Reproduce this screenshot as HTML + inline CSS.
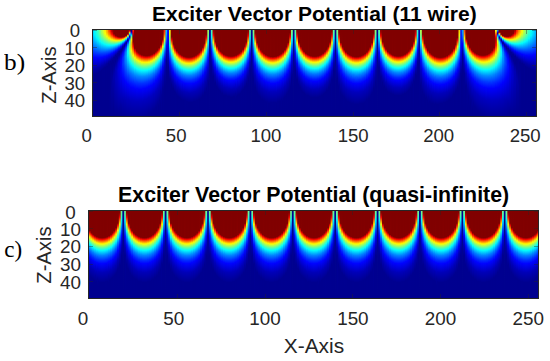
<!DOCTYPE html>
<html><head><meta charset="utf-8"><style>
html,body{margin:0;padding:0;background:#fff;}
body{width:550px;height:361px;position:relative;overflow:hidden;}
.hm{position:absolute;line-height:0;font-size:0;}
.hm i{display:block;float:left;width:1px;height:100%;}
.bx{position:absolute;border:1px solid #262626;}
b{position:absolute;background:rgba(38,38,38,0.4);}
.t{position:absolute;white-space:nowrap;line-height:1;font-family:'Liberation Sans',sans-serif;color:#262626;}
</style></head><body>
<div class="hm" style="left:92px;top:29px;width:445px;height:88px"><i style="background:linear-gradient(#00dfff 0.5px,#00cdff 6.5px,#008cff 14.5px,#0000fd 28.5px,#0000ad 39.5px,#00008f 46.5px,#00008f 87.5px)"></i><i style="background:linear-gradient(#00e0ff 0.5px,#00ceff 6.5px,#008cff 14.5px,#0000fd 28.5px,#0000ad 39.5px,#00008f 46.5px,#00008f 87.5px)"></i><i style="background:linear-gradient(#03fefc 0.5px,#00f3ff 5.5px,#00b6ff 12.5px,#0002fe 28.5px,#0000ab 39.5px,#00008f 45.5px,#00008f 87.5px)"></i><i style="background:linear-gradient(#10ffef 0.5px,#05f3fa 6.5px,#00d5ff 10.5px,#0003ff 28.5px,#0000aa 39.5px,#00008f 45.5px,#00008f 87.5px)"></i><i style="background:linear-gradient(#28ffd7 0.5px,#17ffe8 5.5px,#01fcfe 8.5px,#0080ff 18.5px,#0004ff 28.5px,#0000a8 39.5px,#000090 44.5px,#00008f 87.5px)"></i><i style="background:linear-gradient(#3cffc3 0.5px,#29ffd6 5.5px,#09f9f6 9.5px,#00dcff 12.5px,#001cff 26.5px,#0000f9 29.5px,#0000ac 38.5px,#00008f 44.5px,#00008f 87.5px)"></i><i style="background:linear-gradient(#50ffaf 0.5px,#3cffc3 5.5px,#05fffa 10.5px,#00bbff 15.5px,#001dff 26.5px,#0000f9 29.5px,#0000aa 38.5px,#00008f 43.5px,#00008f 87.5px)"></i><i style="background:linear-gradient(#74ff8b 0.5px,#64ff9b 4.5px,#2cffd3 9.5px,#03fafc 12.5px,#002bff 25.5px,#0005ff 28.5px,#0000a5 38.5px,#000090 42.5px,#00008f 87.5px)"></i><i style="background:linear-gradient(#7cff83 0.5px,#6cff93 4.5px,#32ffcd 9.5px,#04fefb 12.5px,#002cff 25.5px,#0005ff 28.5px,#0000a4 38.5px,#00008f 42.5px,#00008f 87.5px)"></i><i style="background:linear-gradient(#aaff55 0.5px,#97ff68 4.5px,#52ffad 9.5px,#09fff6 13.5px,#00e0ff 15.5px,#003bff 24.5px,#0003fe 28.5px,#0000ac 36.5px,#00008f 41.5px,#00008f 87.5px)"></i><i style="background:linear-gradient(#bcff43 0.5px,#b0ff4f 3.5px,#80ff7f 7.5px,#10ffef 13.5px,#03f7fc 14.5px,#003bff 24.5px,#0002fd 28.5px,#0000a9 36.5px,#000090 40.5px,#00008f 87.5px)"></i><i style="background:linear-gradient(#deff21 0.5px,#d1ff2e 3.5px,#9bff64 7.5px,#09fff6 14.5px,#00dbff 16.5px,#004cff 23.5px,#000aff 27.5px,#0000ed 29.5px,#0000a4 36.5px,#000090 39.5px,#00008f 87.5px)"></i><i style="background:linear-gradient(#f4ef0b 0.5px,#e9ff16 4.5px,#a4ff5b 8.5px,#15ffea 14.5px,#03f8fc 15.5px,#004aff 23.5px,#0006fe 27.5px,#0000b8 33.5px,#000091 38.5px,#00008f 87.5px)"></i><i style="background:linear-gradient(#ffe500 0.5px,#fafe05 4.5px,#b2ff4d 8.5px,#05fcfa 15.5px,#0049ff 23.5px,#0004fe 27.5px,#0000a1 35.5px,#00008f 38.5px,#00008f 87.5px)"></i><i style="background:linear-gradient(#ffb100 0.5px,#ffc500 3.5px,#f8f307 6.5px,#edff12 7.5px,#0efef1 15.5px,#00f0ff 16.5px,#0059ff 22.5px,#000bff 26.5px,#0000ea 28.5px,#0000a0 34.5px,#000090 37.5px,#00008f 87.5px)"></i><i style="background:linear-gradient(#ff9a00 0.5px,#ffae00 3.5px,#ffe600 6.5px,#f7f708 7.5px,#aaff55 10.5px,#12ffed 15.5px,#01f2fe 16.5px,#0057ff 22.5px,#0008fe 26.5px,#0000e5 28.5px,#00009b 34.5px,#00008f 37.5px,#00008f 87.5px)"></i><i style="background:linear-gradient(#ff5d00 0.5px,#ff6800 2.5px,#ff9e00 5.5px,#fef301 8.5px,#e9ff16 9.5px,#1affe5 15.5px,#02f7fd 16.5px,#0068ff 21.5px,#000fff 25.5px,#0001fa 26.5px,#0000a3 32.5px,#000090 34.5px,#00008f 87.5px)"></i><i style="background:linear-gradient(#ff3f00 0.5px,#ff4b00 2.5px,#ff8600 5.5px,#ffe200 8.5px,#f1f70e 9.5px,#afff50 11.5px,#1dffe2 15.5px,#02f7fd 16.5px,#0064ff 21.5px,#000afd 25.5px,#0000e3 27.5px,#00009d 32.5px,#00008f 35.5px,#000091 70.5px,#00008f 87.5px)"></i><i style="background:linear-gradient(#fe0700 0.5px,#fe1400 2.5px,#ff3c00 4.5px,#ff9b00 7.5px,#fee901 9.5px,#ebfe14 10.5px,#22ffdd 15.5px,#03f8fc 16.5px,#005cff 21.5px,#0013ff 24.5px,#0002fa 25.5px,#0000a9 30.5px,#000092 32.5px,#000095 48.5px,#000096 66.5px,#00008f 87.5px)"></i><i style="background:linear-gradient(#bc0200 0.5px,#c80700 2.5px,#eb1400 4.5px,#fd2300 5.5px,#ff9e00 8.5px,#f7f308 10.5px,#d4ff2b 11.5px,#23ffdc 15.5px,#03f6fc 16.5px,#006eff 20.5px,#001cff 23.5px,#0007fc 24.5px,#0000b7 28.5px,#00009a 30.5px,#00008f 34.5px,#000099 45.5px,#00009e 60.5px,#00008f 87.5px)"></i><i style="background:linear-gradient(#9b0000 0.5px,#ac0000 2.5px,#df0000 4.5px,#fb0900 5.5px,#ff5b00 7.5px,#feed01 10.5px,#deff21 11.5px,#23ffdc 15.5px,#03f5fc 16.5px,#0068ff 20.5px,#0014ff 23.5px,#0002fa 24.5px,#00009f 29.5px,#000090 31.5px,#000093 41.5px,#0000a4 52.5px,#00008f 87.5px)"></i><i style="background:linear-gradient(#840000 0.5px,#920000 4.5px,#b40100 5.5px,#e00900 6.5px,#fe2300 7.5px,#ffd200 10.5px,#eefb11 11.5px,#1fffe0 15.5px,#01eefe 16.5px,#0077ff 19.5px,#0018ff 22.5px,#0004f8 23.5px,#000098 28.5px,#00008f 33.5px,#000098 38.5px,#0000ad 48.5px,#000092 78.5px,#00008f 87.5px)"></i><i style="background:linear-gradient(#800000 0.5px,#810000 4.5px,#9f0000 5.5px,#cc0000 6.5px,#f41300 7.5px,#ff4800 8.5px,#ffc700 10.5px,#f3f90c 11.5px,#1bfee4 15.5px,#01e9fe 16.5px,#006eff 19.5px,#0010fc 22.5px,#0001f1 23.5px,#0000af 26.5px,#000093 28.5px,#000095 36.5px,#0000af 44.5px,#0000aa 60.5px,#00008f 86.5px,#00008f 87.5px)"></i><i style="background:linear-gradient(#800000 0.5px,#800000 5.5px,#890000 6.5px,#c80100 7.5px,#fc1900 8.5px,#ffae00 10.5px,#f9f106 11.5px,#c3ff3c 12.5px,#46ffb9 14.5px,#10fdef 15.5px,#00d9ff 16.5px,#0055ff 19.5px,#0010ff 21.5px,#0001f0 22.5px,#0000a7 25.5px,#000094 26.5px,#000090 32.5px,#0000b5 39.5px,#0000bc 50.5px,#00008f 87.5px)"></i><i style="background:linear-gradient(#800000 0.5px,#850000 6.5px,#b30000 7.5px,#f11100 8.5px,#ff5700 9.5px,#f9ef06 11.5px,#c1ff3e 12.5px,#3effc1 14.5px,#0bf8f4 15.5px,#00cdff 16.5px,#0047ff 19.5px,#0023fe 20.5px,#000af5 21.5px,#0000c6 23.5px,#00009f 25.5px,#00008f 27.5px,#0000a1 33.5px,#0000bf 40.5px,#0000bf 52.5px,#00008f 86.5px,#00008f 87.5px)"></i><i style="background:linear-gradient(#800000 0.5px,#800000 6.5px,#8a0000 7.5px,#db0200 8.5px,#fe3f00 9.5px,#ff9a00 10.5px,#faeb05 11.5px,#bdff42 12.5px,#2fffd0 14.5px,#02edfd 15.5px,#0055ff 18.5px,#0008fc 20.5px,#0000c4 22.5px,#000094 24.5px,#000093 29.5px,#0000bc 34.5px,#0000d0 41.5px,#0000bf 56.5px,#00008f 86.5px,#00008f 87.5px)"></i><i style="background:linear-gradient(#800000 0.5px,#840000 7.5px,#bf0100 8.5px,#fd3200 9.5px,#ff9800 10.5px,#f5ef0a 11.5px,#adff52 12.5px,#5cffa3 13.5px,#18fae7 14.5px,#01d0fe 15.5px,#0060ff 17.5px,#0031ff 18.5px,#000ff6 19.5px,#0003dd 20.5px,#0000a3 22.5px,#000091 24.5px,#000095 26.5px,#0000ce 33.5px,#0000df 40.5px,#0000c6 56.5px,#000090 86.5px,#00008f 87.5px)"></i><i style="background:linear-gradient(#800000 0.5px,#800000 7.5px,#b10100 8.5px,#fc2b00 9.5px,#ff9800 10.5px,#f2f10d 11.5px,#a3ff5c 12.5px,#50ffaf 13.5px,#0df7f2 14.5px,#00c0ff 15.5px,#004eff 17.5px,#001ffe 18.5px,#0001f1 19.5px,#0000ab 21.5px,#000093 22.5px,#000090 25.5px,#0000cf 31.5px,#0000e6 37.5px,#0000dc 48.5px,#000097 81.5px,#00008f 87.5px)"></i><i style="background:linear-gradient(#800000 0.5px,#800000 7.5px,#a80100 8.5px,#fc3200 9.5px,#feae01 10.5px,#dafb25 11.5px,#79ff86 12.5px,#22fcdd 13.5px,#03ccfc 14.5px,#004aff 16.5px,#0017fc 17.5px,#0006dd 18.5px,#00009c 20.5px,#000090 22.5px,#0000e5 29.5px,#0002f8 33.5px,#0000f5 44.5px,#0000a2 75.5px,#000090 87.5px)"></i><i style="background:linear-gradient(#800000 0.5px,#800000 7.5px,#aa0100 8.5px,#fc3d00 9.5px,#fbbc03 10.5px,#c6fd39 11.5px,#61fe9e 12.5px,#14efeb 13.5px,#00b2ff 14.5px,#006cff 15.5px,#0033f9 16.5px,#0009ed 17.5px,#0000a8 19.5px,#000093 20.5px,#00009b 22.5px,#0003d7 26.5px,#0008fb 31.5px,#0007ff 40.5px,#0000de 53.5px,#0000a0 77.5px,#000090 87.5px)"></i><i style="background:linear-gradient(#800000 0.5px,#810000 7.5px,#bf0400 8.5px,#fe6900 9.5px,#eeea11 10.5px,#85ff7a 11.5px,#1dfae2 12.5px,#01b7fe 13.5px,#0066ff 14.5px,#001ffe 15.5px,#0001df 16.5px,#0000ac 17.5px,#000091 18.5px,#000090 19.5px,#00009c 20.5px,#0000e3 23.5px,#0005fe 25.5px,#0024ff 29.5px,#002bff 35.5px,#0000fd 48.5px,#0000b4 69.5px,#000092 87.5px)"></i><i style="background:linear-gradient(#800000 0.5px,#850000 7.5px,#d31600 8.5px,#fa9004 9.5px,#c9f136 10.5px,#5df9a2 11.5px,#12d7ed 12.5px,#008bff 13.5px,#0043f5 14.5px,#0014df 15.5px,#0000c4 16.5px,#0000a5 17.5px,#0000a0 18.5px,#0008d0 21.5px,#0017f8 24.5px,#0034ff 28.5px,#003aff 34.5px,#0003fb 49.5px,#0000b0 71.5px,#000092 87.5px)"></i><i style="background:linear-gradient(#800000 0.5px,#800000 6.5px,#900200 7.5px,#f73b01 8.5px,#f1da0d 9.5px,#80fd7f 10.5px,#11edee 11.5px,#0190fe 12.5px,#0035fd 13.5px,#0003e2 14.5px,#0000a4 15.5px,#000092 16.5px,#00009c 17.5px,#0001e2 19.5px,#0004fa 20.5px,#0039ff 23.5px,#005aff 27.5px,#005cff 32.5px,#0024ff 44.5px,#0000fd 51.5px,#0000b8 69.5px,#000093 87.5px)"></i><i style="background:linear-gradient(#800000 0.5px,#800000 5.5px,#870100 6.5px,#d42e00 7.5px,#e7af15 8.5px,#82f27d 9.5px,#2cced3 10.5px,#057bf9 11.5px,#0032e6 12.5px,#0012b9 13.5px,#0000b2 14.5px,#0000bd 15.5px,#0002d4 16.5px,#004cfe 20.5px,#0077ff 23.5px,#0089ff 27.5px,#0078ff 33.5px,#0004fd 52.5px,#0000b4 71.5px,#000094 87.5px)"></i><i style="background:linear-gradient(#800000 0.5px,#810000 5.5px,#8c0400 6.5px,#f44803 7.5px,#dbea24 8.5px,#47fab7 9.5px,#02b3fc 10.5px,#0040fd 11.5px,#0002d9 12.5px,#000198 13.5px,#00019a 14.5px,#0006f6 16.5px,#0045ff 18.5px,#0073ff 20.5px,#0098ff 23.5px,#00a2ff 27.5px,#0082ff 34.5px,#0001fe 53.5px,#0000bc 69.5px,#000094 87.5px)"></i><i style="background:linear-gradient(#800000 0.5px,#810100 4.5px,#cd1601 5.5px,#efc50d 6.5px,#5ff9a0 7.5px,#05aefa 8.5px,#0129f9 9.5px,#0004ae 10.5px,#00029c 11.5px,#0001dd 12.5px,#0022fd 13.5px,#0082fe 15.5px,#00c0ff 17.5px,#00e5ff 19.5px,#00fbff 22.5px,#00f2ff 26.5px,#00a4ff 35.5px,#002eff 48.5px,#0000fd 55.5px,#0000bc 70.5px,#000095 87.5px)"></i><i style="background:linear-gradient(#820000 0.5px,#960a00 2.5px,#942502 3.5px,#7e2d19 4.5px,#ab332d 5.5px,#c6ac37 6.5px,#4cd0a2 7.5px,#018ff2 8.5px,#0025fa 9.5px,#0015bb 10.5px,#0021ac 11.5px,#002be3 12.5px,#0549f9 13.5px,#109aef 15.5px,#15cdea 17.5px,#17f4e8 20.5px,#11fcee 24.5px,#01d5fe 31.5px,#0041ff 46.5px,#0002fe 55.5px,#0000bc 70.5px,#000095 87.5px)"></i><i style="background:linear-gradient(#8d0001 0.5px,#b40101 1.5px,#f83401 2.5px,#f2cb0b 3.5px,#70f88e 4.5px,#06baf8 5.5px,#032bf4 6.5px,#0206a2 7.5px,#0105bb 8.5px,#0224fb 9.5px,#0274fc 10.5px,#02b8fc 11.5px,#04edfb 12.5px,#20fbdf 13.5px,#5afda5 15.5px,#77fe88 17.5px,#7eff81 20.5px,#61ff9e 24.5px,#07fef8 31.5px,#00c1ff 36.5px,#004fff 46.5px,#0002ff 56.5px,#0000bb 71.5px,#000096 87.5px)"></i><i style="background:linear-gradient(#470048 0.5px,#5b0048 1.5px,#7e1b51 2.5px,#7b6a79 3.5px,#38a2c7 4.5px,#02b0fd 5.5px,#058cf6 6.5px,#2580ab 7.5px,#478096 8.5px,#62919c 9.5px,#78ba87 10.5px,#7fd380 11.5px,#80e27f 12.5px,#b5de4a 16.5px,#bff540 20.5px,#b2ff4d 22.5px,#17fbe8 32.5px,#00e3ff 35.5px,#006dff 44.5px,#0013ff 54.5px,#0000f7 58.5px,#0000b9 72.5px,#000096 87.5px)"></i><i style="background:linear-gradient(#04008d 0.5px,#04008d 1.5px,#05019f 2.5px,#0506e4 3.5px,#0348fb 4.5px,#02a2fc 5.5px,#0bedf3 6.5px,#4afab3 7.5px,#8cfa71 8.5px,#c2fa3b 9.5px,#edfb11 10.5px,#fbe902 11.5px,#fcc302 13.5px,#fdb901 15.5px,#fecd01 18.5px,#fdf902 21.5px,#a2ff5d 26.5px,#0afff5 34.5px,#00e7ff 36.5px,#0077ff 44.5px,#001fff 53.5px,#0000fa 58.5px,#0000bd 71.5px,#000096 87.5px)"></i><i style="background:linear-gradient(#a91931 0.5px,#a80a37 2.5px,#a1024f 3.5px,#793756 5.5px,#6b5253 6.5px,#845627 8.5px,#a65605 10.5px,#b84300 13.5px,#f84300 17.5px,#ff6b00 19.5px,#fab405 22.5px,#dbfe24 26.5px,#3affc5 33.5px,#08f7f7 36.5px,#00dbff 38.5px,#0076ff 45.5px,#001cff 54.5px,#0001fd 58.5px,#0000be 71.5px,#000097 87.5px)"></i><i style="background:linear-gradient(#fc2501 0.5px,#fc2001 1.5px,#fb0e01 2.5px,#f00001 3.5px,#9b0101 6.5px,#870101 7.5px,#800100 9.5px,#850100 12.5px,#bf0100 15.5px,#f30200 17.5px,#fd1500 18.5px,#ffe600 25.5px,#f8fc07 26.5px,#4affb5 33.5px,#0cfff3 36.5px,#01f7fe 37.5px,#0089ff 44.5px,#0030ff 52.5px,#0001fe 58.5px,#0000bf 71.5px,#000097 87.5px)"></i><i style="background:linear-gradient(#820100 0.5px,#820000 18.5px,#8c0100 19.5px,#e20200 21.5px,#fe1200 22.5px,#fed201 27.5px,#fdf302 28.5px,#e9ff16 29.5px,#5cffa3 34.5px,#04fdfb 38.5px,#007cff 46.5px,#0025ff 54.5px,#0000fd 59.5px,#0000c0 71.5px,#000097 87.5px)"></i><i style="background:linear-gradient(#800000 0.5px,#800000 18.5px,#880000 19.5px,#d10000 21.5px,#ec0d00 22.5px,#fe5200 24.5px,#fee701 28.5px,#edf812 29.5px,#4affb5 35.5px,#08fef7 38.5px,#00ccff 41.5px,#0065ff 48.5px,#0015ff 56.5px,#0000f7 60.5px,#0000bd 72.5px,#000097 87.5px)"></i><i style="background:linear-gradient(#800000 0.5px,#810000 21.5px,#970000 22.5px,#f70700 24.5px,#ff8900 27.5px,#faf905 30.5px,#4bffb4 36.5px,#06fef9 39.5px,#0097ff 45.5px,#003eff 52.5px,#0002ff 59.5px,#0000bd 72.5px,#000097 87.5px)"></i><i style="background:linear-gradient(#800000 0.5px,#800000 21.5px,#8b0000 22.5px,#a50000 23.5px,#ce0300 24.5px,#ee1800 25.5px,#ff3900 26.5px,#ffbe00 29.5px,#fde302 30.5px,#eef911 31.5px,#58ffa7 36.5px,#0ffff0 39.5px,#02f6fd 40.5px,#008cff 46.5px,#0036ff 53.5px,#0002ff 59.5px,#0000bd 72.5px,#000097 87.5px)"></i><i style="background:linear-gradient(#800000 0.5px,#810000 23.5px,#a40000 24.5px,#dc0100 25.5px,#fe1500 26.5px,#ffa300 29.5px,#fdf302 31.5px,#e4ff1b 32.5px,#65ff9a 36.5px,#04fcfb 40.5px,#0082ff 47.5px,#002eff 54.5px,#0000fb 60.5px,#0000bd 72.5px,#000097 87.5px)"></i><i style="background:linear-gradient(#800000 0.5px,#800000 23.5px,#8c0000 24.5px,#af0000 25.5px,#e20700 26.5px,#fe2300 27.5px,#ffb200 30.5px,#ffdc00 31.5px,#f4f90b 32.5px,#56ffa9 37.5px,#0bfef4 40.5px,#00f2ff 41.5px,#0085ff 47.5px,#002fff 54.5px,#0000fb 60.5px,#0000c1 71.5px,#000096 87.5px)"></i><i style="background:linear-gradient(#800000 0.5px,#800000 24.5px,#970000 25.5px,#d30000 26.5px,#fc1000 27.5px,#ffa400 30.5px,#fcf603 32.5px,#bbff44 34.5px,#41ffbe 38.5px,#0efff1 40.5px,#00f6ff 41.5px,#0087ff 47.5px,#002fff 54.5px,#0000fb 60.5px,#0000c1 71.5px,#000096 87.5px)"></i><i style="background:linear-gradient(#800000 0.5px,#800000 25.5px,#a20000 26.5px,#e00100 27.5px,#fe1d00 28.5px,#ffb500 31.5px,#ffe100 32.5px,#f2fe0d 33.5px,#69ff96 37.5px,#16ffe9 40.5px,#02fbfd 41.5px,#008aff 47.5px,#0030ff 54.5px,#0000fb 60.5px,#0000c0 71.5px,#000096 87.5px)"></i><i style="background:linear-gradient(#800000 0.5px,#800000 25.5px,#9d0000 26.5px,#da0000 27.5px,#fd1900 28.5px,#ffb100 31.5px,#ffde00 32.5px,#f4fd0b 33.5px,#6aff95 37.5px,#17ffe8 40.5px,#03fbfc 41.5px,#008aff 47.5px,#002fff 54.5px,#0003ff 59.5px,#0000bc 72.5px,#000095 87.5px)"></i><i style="background:linear-gradient(#800000 0.5px,#800000 25.5px,#880000 26.5px,#f70900 28.5px,#ff7100 30.5px,#ffd100 32.5px,#faf805 33.5px,#90ff6f 36.5px,#1affe5 40.5px,#04fcfb 41.5px,#0089ff 47.5px,#002eff 54.5px,#0002fe 59.5px,#0000be 71.5px,#000095 87.5px)"></i><i style="background:linear-gradient(#800000 0.5px,#800000 25.5px,#850000 26.5px,#f30600 28.5px,#ff3500 29.5px,#ffce00 32.5px,#fbf704 33.5px,#b4ff4b 35.5px,#34ffcb 39.5px,#03fcfc 41.5px,#0087ff 47.5px,#0037ff 53.5px,#0001fd 59.5px,#0000c1 70.5px,#000094 87.5px)"></i><i style="background:linear-gradient(#800000 0.5px,#820000 26.5px,#b10000 27.5px,#ef0300 28.5px,#ff3000 29.5px,#ffcc00 32.5px,#fcf503 33.5px,#b5ff4a 35.5px,#33ffcc 39.5px,#03fbfc 41.5px,#0086ff 47.5px,#0035ff 53.5px,#0000fc 59.5px,#0000c0 70.5px,#000093 87.5px)"></i><i style="background:linear-gradient(#800000 0.5px,#820000 26.5px,#b00000 27.5px,#ef0400 28.5px,#ff3100 29.5px,#ffcf00 32.5px,#faf705 33.5px,#8dff72 36.5px,#14ffeb 40.5px,#01f8fe 41.5px,#0092ff 46.5px,#003cff 52.5px,#0003fe 58.5px,#0000be 70.5px,#000092 87.5px)"></i><i style="background:linear-gradient(#800000 0.5px,#820000 26.5px,#b10000 27.5px,#ef0400 28.5px,#ff3200 29.5px,#ffd100 32.5px,#f9f806 33.5px,#69ff96 37.5px,#11ffee 40.5px,#01f6fe 41.5px,#008fff 46.5px,#003aff 52.5px,#0001fe 58.5px,#0000c0 69.5px,#000095 85.5px,#000092 87.5px)"></i><i style="background:linear-gradient(#800000 0.5px,#800000 25.5px,#860000 26.5px,#c00000 27.5px,#f80b00 28.5px,#ffaf00 31.5px,#ffe000 32.5px,#f0fe0f 33.5px,#5bffa4 37.5px,#06fdf9 40.5px,#0097ff 45.5px,#003eff 51.5px,#0002ff 57.5px,#0000c1 68.5px,#000095 84.5px,#000090 87.5px)"></i><i style="background:linear-gradient(#800000 0.5px,#800000 25.5px,#8a0000 26.5px,#c60000 27.5px,#f90f00 28.5px,#ffb400 31.5px,#fee401 32.5px,#ebfe14 33.5px,#78ff87 36.5px,#1cffe3 39.5px,#05fbfa 40.5px,#0083ff 46.5px,#0030ff 52.5px,#0002fe 57.5px,#0000c0 68.5px,#000095 84.5px,#000090 87.5px)"></i><i style="background:linear-gradient(#800000 0.5px,#800000 25.5px,#9d0000 26.5px,#e10100 27.5px,#fe2500 28.5px,#ffcb00 31.5px,#fbf604 32.5px,#afff50 34.5px,#46ffb9 37.5px,#0cfff3 39.5px,#00f0ff 40.5px,#0088ff 45.5px,#0032ff 51.5px,#0002ff 56.5px,#0000c0 67.5px,#000095 83.5px,#00008f 87.5px)"></i><i style="background:linear-gradient(#800000 0.5px,#800000 24.5px,#870000 25.5px,#b70000 26.5px,#ef0c00 27.5px,#ff3c00 28.5px,#fede01 31.5px,#ecfb13 32.5px,#57ffa8 36.5px,#1affe5 38.5px,#06f8f9 39.5px,#007fff 45.5px,#002cff 51.5px,#0001fa 56.5px,#0000bd 67.5px,#000093 83.5px,#00008f 87.5px)"></i><i style="background:linear-gradient(#800000 0.5px,#800000 24.5px,#8f0000 25.5px,#d10100 26.5px,#fd1700 27.5px,#ffc200 30.5px,#fdf102 31.5px,#ddff22 32.5px,#69ff96 35.5px,#0dfef2 38.5px,#00f1ff 39.5px,#0086ff 44.5px,#0030ff 50.5px,#0001fd 55.5px,#0000c2 65.5px,#000097 80.5px,#00008f 87.5px)"></i><i style="background:linear-gradient(#800000 0.5px,#800000 23.5px,#8d0000 24.5px,#c70000 25.5px,#f61500 26.5px,#ff8600 28.5px,#fceb03 30.5px,#dffc20 31.5px,#49ffb6 35.5px,#0dfef2 37.5px,#00d7ff 39.5px,#0073ff 44.5px,#0022ff 50.5px,#0001fa 54.5px,#0000bc 65.5px,#000093 81.5px,#00008f 87.5px)"></i><i style="background:linear-gradient(#800000 0.5px,#800000 23.5px,#910000 24.5px,#d30100 25.5px,#fe1b00 26.5px,#ffc700 29.5px,#fbf404 30.5px,#d8ff27 31.5px,#63ff9c 34.5px,#07fdf8 37.5px,#00bbff 40.5px,#005fff 45.5px,#0015ff 51.5px,#0000f9 54.5px,#0000bf 64.5px,#000094 80.5px,#00008f 87.5px)"></i><i style="background:linear-gradient(#800000 0.5px,#810000 22.5px,#a60000 23.5px,#e90300 24.5px,#fe3100 25.5px,#feda01 28.5px,#f0fc0f 29.5px,#76ff89 32.5px,#13ffec 35.5px,#01f5fe 36.5px,#0086ff 41.5px,#002dff 47.5px,#0004ff 51.5px,#0000bf 62.5px,#000094 78.5px,#00008f 87.5px)"></i><i style="background:linear-gradient(#800000 0.5px,#800000 20.5px,#880000 21.5px,#a00000 22.5px,#c40c00 23.5px,#f22300 24.5px,#ff5600 25.5px,#fcc303 27.5px,#ede712 28.5px,#d5fe2a 29.5px,#5fffa0 32.5px,#21fcde 34.5px,#00e4ff 36.5px,#0079ff 41.5px,#0024ff 47.5px,#0002f9 51.5px,#0000bb 62.5px,#000092 78.5px,#00008f 87.5px)"></i><i style="background:linear-gradient(#800000 0.5px,#810000 20.5px,#990000 21.5px,#dd0200 22.5px,#fe2500 23.5px,#fed201 26.5px,#f5fa0a 27.5px,#55ffaa 31.5px,#15feea 33.5px,#01f5fe 34.5px,#0084ff 39.5px,#0036ff 44.5px,#0002fe 49.5px,#0000c0 59.5px,#000096 74.5px,#00008f 87.5px)"></i><i style="background:linear-gradient(#800000 0.5px,#800000 18.5px,#b90300 20.5px,#cb1d00 21.5px,#ef3c00 22.5px,#ff6a00 23.5px,#ffa300 24.5px,#f3ce0c 25.5px,#c3fd3c 27.5px,#4fffb0 30.5px,#2efed1 31.5px,#0ae6f5 33.5px,#00bdff 35.5px,#005cff 40.5px,#0010ff 46.5px,#0000eb 50.5px,#0000b6 60.5px,#000091 76.5px,#00008f 87.5px)"></i><i style="background:linear-gradient(#800000 0.5px,#830100 18.5px,#b20200 19.5px,#f10800 20.5px,#fe3c00 21.5px,#fde402 24.5px,#e6fe19 25.5px,#69ff96 28.5px,#08fcf7 31.5px,#00b5ff 34.5px,#0055ff 39.5px,#000aff 45.5px,#0000f6 47.5px,#0000bf 56.5px,#000095 71.5px,#00008f 87.5px)"></i><i style="background:linear-gradient(#800000 0.5px,#800000 14.5px,#850000 15.5px,#e30900 17.5px,#ffca00 21.5px,#e8e717 22.5px,#7cff83 25.5px,#33ffcc 27.5px,#16fbe9 28.5px,#00a6ff 32.5px,#0048ff 37.5px,#000aff 42.5px,#0000cc 50.5px,#0000a0 62.5px,#00008f 75.5px,#00008f 87.5px)"></i><i style="background:linear-gradient(#800000 0.5px,#820200 14.5px,#890300 15.5px,#c10300 16.5px,#f80f00 17.5px,#fdb702 20.5px,#fcea03 21.5px,#e0fe1f 22.5px,#63fe9c 25.5px,#1efde1 27.5px,#04f9fb 28.5px,#0082ff 33.5px,#0030ff 38.5px,#0003fe 42.5px,#0000be 52.5px,#000096 66.5px,#00008f 86.5px,#00008f 87.5px)"></i><i style="background:linear-gradient(#800000 0.5px,#800100 9.5px,#880100 10.5px,#ee0400 12.5px,#fc2e01 13.5px,#fdc901 16.5px,#f8f407 17.5px,#80fd7f 20.5px,#16fee9 23.5px,#03f2fc 24.5px,#008eff 28.5px,#0034ff 33.5px,#0003fe 37.5px,#0000c0 46.5px,#000097 59.5px,#00008f 74.5px,#00008f 87.5px)"></i><i style="background:linear-gradient(#ab0d00 0.5px,#ab1d00 4.5px,#ab5605 10.5px,#d8581e 12.5px,#ca9935 14.5px,#a7f958 17.5px,#23d3dc 22.5px,#00beff 24.5px,#0052ff 29.5px,#0019f1 34.5px,#0000e3 38.5px,#0000b0 47.5px,#000093 60.5px,#00008f 87.5px)"></i><i style="background:linear-gradient(#fc2802 0.5px,#fc3302 2.5px,#fc6b02 5.5px,#fbe602 9.5px,#edfb11 10.5px,#22fcdd 16.5px,#07f9f8 17.5px,#017efe 22.5px,#0025fe 27.5px,#0002fb 30.5px,#0000c2 37.5px,#00009b 47.5px,#000090 58.5px,#00008f 87.5px)"></i><i style="background:linear-gradient(#807980 0.5px,#808c80 5.5px,#7faf80 9.5px,#78b187 10.5px,#1083ef 16.5px,#027efa 17.5px,#002bd9 24.5px,#0000c7 30.5px,#0000a1 40.5px,#00008f 57.5px,#00008f 87.5px)"></i><i style="background:linear-gradient(#02c8fd 0.5px,#02b4fd 4.5px,#0264fd 10.5px,#0009fe 16.5px,#0002e1 19.5px,#0000a6 26.5px,#000090 32.5px,#00008f 87.5px)"></i><i style="background:linear-gradient(#002bff 0.5px,#0012f9 10.5px,#0000d9 19.5px,#000099 34.5px,#00008f 42.5px,#00008f 87.5px)"></i><i style="background:linear-gradient(#040cfb 0.5px,#0204f6 10.5px,#000090 38.5px,#00008f 87.5px)"></i><i style="background:linear-gradient(#faed04 0.5px,#f8f906 3.5px,#c0f93f 7.5px,#04f7fb 16.5px,#0067fe 24.5px,#000cfe 31.5px,#0000f4 33.5px,#0000b0 42.5px,#000090 50.5px,#00008f 87.5px)"></i><i style="background:linear-gradient(#d4a000 0.5px,#cca908 4.5px,#a8a934 8.5px,#a0b05f 11.5px,#58f4a7 16.5px,#45e3ba 18.5px,#049bfb 24.5px,#002dff 31.5px,#0010ec 35.5px,#0000cf 40.5px,#000099 49.5px,#00008f 61.5px,#00008f 87.5px)"></i><i style="background:linear-gradient(#810300 0.5px,#810301 7.5px,#990301 8.5px,#e80301 10.5px,#fc1802 11.5px,#fce503 16.5px,#edfc12 17.5px,#46feb9 22.5px,#0dfdf2 24.5px,#01eefe 25.5px,#0080ff 30.5px,#0020ff 36.5px,#0001fa 39.5px,#0000b7 47.5px,#000090 55.5px,#00008f 87.5px)"></i><i style="background:linear-gradient(#800000 0.5px,#800000 7.5px,#a00000 9.5px,#b50000 10.5px,#bf0b00 11.5px,#bf4b00 14.5px,#cb5f00 15.5px,#e87300 16.5px,#f68608 17.5px,#b1eb4e 21.5px,#9efd61 22.5px,#5affa5 24.5px,#20dfdf 27.5px,#03c8fc 29.5px,#0051ff 35.5px,#0019fd 39.5px,#0000e9 43.5px,#0000a7 52.5px,#000090 59.5px,#00008f 87.5px)"></i><i style="background:linear-gradient(#800000 0.5px,#810100 14.5px,#980200 15.5px,#d00200 16.5px,#fa1000 17.5px,#fed401 21.5px,#f6f909 22.5px,#40febf 27.5px,#07fcf8 29.5px,#0075ff 35.5px,#0017ff 41.5px,#0001fc 43.5px,#0000b8 51.5px,#000090 59.5px,#00008f 87.5px)"></i><i style="background:linear-gradient(#800000 0.5px,#840000 15.5px,#960300 17.5px,#970c00 18.5px,#ae1500 19.5px,#e21e00 20.5px,#fe3c00 21.5px,#f79f08 23.5px,#e8f017 25.5px,#cbff34 26.5px,#59ffa6 29.5px,#08f1f7 32.5px,#00c5ff 34.5px,#005bff 39.5px,#0013fd 44.5px,#0001f7 46.5px,#0000b5 54.5px,#000090 62.5px,#00008f 87.5px)"></i><i style="background:linear-gradient(#800000 0.5px,#800000 18.5px,#970000 19.5px,#cc0100 20.5px,#e81700 21.5px,#ffa500 24.5px,#fed701 25.5px,#e7ee18 26.5px,#7cff83 29.5px,#18fee7 32.5px,#04d9fb 34.5px,#005aff 40.5px,#0010ff 45.5px,#0003f5 47.5px,#0000ae 56.5px,#000091 63.5px,#00008f 87.5px)"></i><i style="background:linear-gradient(#800000 0.5px,#830000 21.5px,#b00100 22.5px,#ee0500 23.5px,#fe3300 24.5px,#fed501 27.5px,#f4fb0b 28.5px,#56ffa9 32.5px,#16fee9 34.5px,#01f5fe 35.5px,#007eff 40.5px,#0029ff 45.5px,#0003fe 48.5px,#0000b4 57.5px,#000090 65.5px,#00008f 87.5px)"></i><i style="background:linear-gradient(#800000 0.5px,#810000 21.5px,#9f0000 22.5px,#c90200 23.5px,#fa4800 25.5px,#ffb200 27.5px,#f9de06 28.5px,#bdfe42 30.5px,#2affd5 34.5px,#11f9ee 35.5px,#00d2ff 37.5px,#0064ff 42.5px,#000aff 48.5px,#0000df 52.5px,#0000a2 61.5px,#00008f 67.5px,#00008f 87.5px)"></i><i style="background:linear-gradient(#800000 0.5px,#820000 23.5px,#af0100 24.5px,#ee0500 25.5px,#fe3400 26.5px,#fed901 29.5px,#f1fc0e 30.5px,#52ffad 34.5px,#11feee 36.5px,#01f2fe 37.5px,#007aff 42.5px,#0026ff 47.5px,#0002fd 50.5px,#0000b9 58.5px,#000090 67.5px,#00008f 87.5px)"></i><i style="background:linear-gradient(#800000 0.5px,#800000 23.5px,#900000 24.5px,#af0100 25.5px,#e01200 26.5px,#fe3400 27.5px,#ffa600 29.5px,#fbd604 30.5px,#ebf614 31.5px,#9cff63 33.5px,#2fffd0 36.5px,#02eefd 38.5px,#0079ff 43.5px,#0025ff 48.5px,#0003fb 51.5px,#0000b3 60.5px,#000090 68.5px,#00008f 87.5px)"></i><i style="background:linear-gradient(#800000 0.5px,#800000 24.5px,#8f0000 25.5px,#cf0100 26.5px,#fc1600 27.5px,#ffc100 30.5px,#fdf102 31.5px,#dbff24 32.5px,#62ff9d 35.5px,#1effe1 37.5px,#04fbfb 38.5px,#0083ff 43.5px,#002cff 48.5px,#0005ff 51.5px,#0000b0 61.5px,#00008f 69.5px,#00008f 87.5px)"></i><i style="background:linear-gradient(#800000 0.5px,#820000 25.5px,#950000 26.5px,#d00400 27.5px,#fb1b00 28.5px,#ffc500 31.5px,#f8f007 32.5px,#d7ff28 33.5px,#5effa1 36.5px,#1cfee3 38.5px,#04f7fb 39.5px,#0081ff 44.5px,#002bff 49.5px,#0005fe 52.5px,#0000b0 62.5px,#00008f 70.5px,#00008f 87.5px)"></i><i style="background:linear-gradient(#800000 0.5px,#800000 25.5px,#870000 26.5px,#bd0000 27.5px,#f30d00 28.5px,#ff4200 29.5px,#fee601 32.5px,#e5fd1a 33.5px,#47ffb8 37.5px,#09fcf6 39.5px,#00ceff 41.5px,#0061ff 46.5px,#0008ff 52.5px,#0000e7 55.5px,#0000ac 63.5px,#00008f 71.5px,#00008f 87.5px)"></i><i style="background:linear-gradient(#800000 0.5px,#800000 26.5px,#900000 27.5px,#d20100 28.5px,#fd1800 29.5px,#ffc600 32.5px,#fbf404 33.5px,#d7ff28 34.5px,#5effa1 37.5px,#1bffe4 39.5px,#02f9fd 40.5px,#0080ff 45.5px,#002bff 50.5px,#0004ff 53.5px,#0000b6 62.5px,#00008f 71.5px,#00008f 87.5px)"></i><i style="background:linear-gradient(#800000 0.5px,#800000 26.5px,#8a0000 27.5px,#c40000 28.5px,#f81100 29.5px,#ffbb00 32.5px,#fdec02 33.5px,#e0fe1f 34.5px,#65ff9a 37.5px,#21ffde 39.5px,#06fbf9 40.5px,#0071ff 46.5px,#0020ff 51.5px,#0001fa 54.5px,#0000b8 62.5px,#000090 71.5px,#00008f 87.5px)"></i><i style="background:linear-gradient(#800000 0.5px,#800000 27.5px,#aa0000 28.5px,#ec0300 29.5px,#ff3200 30.5px,#ffdc00 33.5px,#f0fd0f 34.5px,#73ff8c 37.5px,#0dfff2 40.5px,#00eeff 41.5px,#008cff 45.5px,#0033ff 50.5px,#0001fd 54.5px,#0000bb 62.5px,#000091 71.5px,#00008f 87.5px)"></i><i style="background:linear-gradient(#800000 0.5px,#800000 27.5px,#9b0000 28.5px,#df0100 29.5px,#fe2500 30.5px,#ffd100 33.5px,#f6fa09 34.5px,#56ffa9 38.5px,#13ffec 40.5px,#01f4fe 41.5px,#007cff 46.5px,#0028ff 51.5px,#0003fe 54.5px,#0000b6 63.5px,#000090 72.5px,#00008f 87.5px)"></i><i style="background:linear-gradient(#800000 0.5px,#800000 27.5px,#940000 28.5px,#d90000 29.5px,#fe1e00 30.5px,#ffcc00 33.5px,#f9f806 34.5px,#7fff80 37.5px,#17ffe8 40.5px,#01f7fe 41.5px,#007eff 46.5px,#002aff 51.5px,#0004ff 54.5px,#0000b7 63.5px,#000090 72.5px,#00008f 87.5px)"></i><i style="background:linear-gradient(#800000 0.5px,#800000 27.5px,#900000 28.5px,#d40000 29.5px,#fe1a00 30.5px,#ffc800 33.5px,#fbf604 34.5px,#aaff55 36.5px,#39ffc6 39.5px,#02f8fd 41.5px,#0080ff 46.5px,#002bff 51.5px,#0005ff 54.5px,#0000b2 64.5px,#00008f 73.5px,#00008f 87.5px)"></i><i style="background:linear-gradient(#800000 0.5px,#800000 27.5px,#910000 28.5px,#d40000 29.5px,#fe1a00 30.5px,#ffc800 33.5px,#faf605 34.5px,#aaff55 36.5px,#39ffc6 39.5px,#02f8fd 41.5px,#0080ff 46.5px,#002bff 51.5px,#0005ff 54.5px,#0000b3 64.5px,#00008f 73.5px,#00008f 87.5px)"></i><i style="background:linear-gradient(#800000 0.5px,#800000 27.5px,#970000 28.5px,#dc0100 29.5px,#fe2100 30.5px,#ffce00 33.5px,#f8f907 34.5px,#58ffa7 38.5px,#16ffe9 40.5px,#01f6fe 41.5px,#007eff 46.5px,#002aff 51.5px,#0005ff 54.5px,#0000b3 64.5px,#00008f 73.5px,#00008f 87.5px)"></i><i style="background:linear-gradient(#800000 0.5px,#800000 27.5px,#9f0000 28.5px,#e30200 29.5px,#ff2900 30.5px,#ffd400 33.5px,#f4fb0b 34.5px,#54ffab 38.5px,#12ffed 40.5px,#01f3fe 41.5px,#007cff 46.5px,#0029ff 51.5px,#0004ff 54.5px,#0000b8 63.5px,#00008f 73.5px,#00008f 87.5px)"></i><i style="background:linear-gradient(#800000 0.5px,#810000 27.5px,#b00000 28.5px,#f10500 29.5px,#ff3800 30.5px,#ffe000 33.5px,#ecfe13 34.5px,#70ff8f 37.5px,#0cfef3 40.5px,#00edff 41.5px,#008cff 45.5px,#0034ff 50.5px,#0002fe 54.5px,#0000b7 63.5px,#00008f 73.5px,#00008f 87.5px)"></i><i style="background:linear-gradient(#800000 0.5px,#800000 26.5px,#8f0000 27.5px,#cd0000 28.5px,#fa1700 29.5px,#ffc200 32.5px,#fbf004 33.5px,#dbff24 34.5px,#61ff9e 37.5px,#1effe1 39.5px,#05fafa 40.5px,#0084ff 45.5px,#002fff 50.5px,#0001fc 54.5px,#0000bb 62.5px,#000090 72.5px,#00008f 87.5px)"></i><i style="background:linear-gradient(#800000 0.5px,#800000 26.5px,#970000 27.5px,#dc0100 28.5px,#fe2100 29.5px,#ffcd00 32.5px,#f8f807 33.5px,#7fff80 36.5px,#17ffe8 39.5px,#01f7fe 40.5px,#0080ff 45.5px,#002cff 50.5px,#0000fb 54.5px,#0000ba 62.5px,#000090 72.5px,#00008f 87.5px)"></i><i style="background:linear-gradient(#800000 0.5px,#800000 25.5px,#8f0000 26.5px,#ca0000 27.5px,#f81600 28.5px,#ffbe00 31.5px,#fcee03 32.5px,#ddfe22 33.5px,#64ff9b 36.5px,#21ffde 38.5px,#07fbf8 39.5px,#0087ff 44.5px,#0031ff 49.5px,#0002fd 53.5px,#0000b7 62.5px,#000090 72.5px,#00008f 87.5px)"></i><i style="background:linear-gradient(#800000 0.5px,#800000 24.5px,#850000 25.5px,#a00000 26.5px,#dc0700 27.5px,#fe2700 28.5px,#fecf01 31.5px,#f3f60c 32.5px,#a4ff5b 34.5px,#36ffc9 37.5px,#02f5fd 39.5px,#0080ff 44.5px,#002dff 49.5px,#0001fb 53.5px,#0000bb 61.5px,#000091 71.5px,#00008f 87.5px)"></i><i style="background:linear-gradient(#800000 0.5px,#800000 24.5px,#9e0000 25.5px,#e20100 26.5px,#fe2700 27.5px,#ffd000 30.5px,#f7f908 31.5px,#59ffa6 35.5px,#17ffe8 37.5px,#02f7fd 38.5px,#0081ff 43.5px,#002eff 48.5px,#0001fc 52.5px,#0000bd 60.5px,#000090 71.5px,#00008f 87.5px)"></i><i style="background:linear-gradient(#800000 0.5px,#830000 23.5px,#990000 24.5px,#be0500 25.5px,#ec1a00 26.5px,#ff4600 27.5px,#ffb700 29.5px,#f5e00a 30.5px,#e2fb1d 31.5px,#47ffb8 35.5px,#0ff8f0 37.5px,#01eafe 38.5px,#0078ff 43.5px,#001aff 49.5px,#0000f7 52.5px,#0000ba 60.5px,#000091 70.5px,#00008f 87.5px)"></i><i style="background:linear-gradient(#800000 0.5px,#810000 22.5px,#8c0000 23.5px,#c90100 24.5px,#fa1100 25.5px,#ffba00 28.5px,#feeb01 29.5px,#e2fe1d 30.5px,#69ff96 33.5px,#09fdf6 36.5px,#00d0ff 38.5px,#0065ff 43.5px,#000fff 49.5px,#0000f8 51.5px,#0000bb 59.5px,#00008f 70.5px,#00008f 87.5px)"></i><i style="background:linear-gradient(#800000 0.5px,#800000 20.5px,#8b0000 21.5px,#b50000 22.5px,#d60e00 23.5px,#fe6000 25.5px,#feca01 27.5px,#ebe814 28.5px,#cff830 29.5px,#3dffc2 33.5px,#1efee1 34.5px,#03e0fc 36.5px,#0073ff 41.5px,#0018ff 47.5px,#0001f5 50.5px,#0000b5 59.5px,#000090 69.5px,#00008f 87.5px)"></i><i style="background:linear-gradient(#800000 0.5px,#820000 20.5px,#930100 21.5px,#d10200 22.5px,#fd1700 23.5px,#febe01 26.5px,#fced03 27.5px,#e0fe1f 28.5px,#68ff97 31.5px,#09fdf6 34.5px,#00d0ff 36.5px,#0066ff 41.5px,#0010ff 47.5px,#0000f9 49.5px,#0000bc 57.5px,#000090 68.5px,#00008f 87.5px)"></i><i style="background:linear-gradient(#800000 0.5px,#800000 17.5px,#8d0000 18.5px,#c80100 19.5px,#f80e00 20.5px,#fedf01 24.5px,#eefc11 25.5px,#54ffab 29.5px,#15ffea 31.5px,#02f5fd 32.5px,#0082ff 37.5px,#0030ff 42.5px,#0002fe 46.5px,#0000bb 55.5px,#000090 66.5px,#00008f 87.5px)"></i><i style="background:linear-gradient(#800000 0.5px,#840000 14.5px,#960300 16.5px,#a11500 18.5px,#d21e00 19.5px,#fb3100 20.5px,#f69309 22.5px,#e8e617 24.5px,#d4fe2b 25.5px,#62ff9d 28.5px,#10f2ef 31.5px,#01e6fe 32.5px,#0077ff 37.5px,#0029ff 42.5px,#0001f9 46.5px,#0000b8 55.5px,#000090 66.5px,#00008f 87.5px)"></i><i style="background:linear-gradient(#800000 0.5px,#810100 13.5px,#990200 14.5px,#d20200 15.5px,#fa1100 16.5px,#fdd602 20.5px,#f4f90b 21.5px,#60ff9f 25.5px,#06fbf9 28.5px,#0079ff 34.5px,#001eff 40.5px,#0001fb 43.5px,#0000ba 52.5px,#000090 63.5px,#00008f 87.5px)"></i><i style="background:linear-gradient(#800000 0.5px,#840000 5.5px,#b60000 8.5px,#bf0a00 9.5px,#bf5a00 13.5px,#cc6e00 14.5px,#e57e04 15.5px,#e98715 16.5px,#a6ec59 20.5px,#93fd6c 21.5px,#54fbab 23.5px,#02c2fd 28.5px,#0051ff 34.5px,#001cfe 38.5px,#0000e8 43.5px,#0000ab 53.5px,#000090 63.5px,#00008f 87.5px)"></i><i style="background:linear-gradient(#800301 0.5px,#800301 4.5px,#890301 5.5px,#e90302 8.5px,#fc1602 9.5px,#fbda03 14.5px,#f5f90a 15.5px,#4efdb1 20.5px,#15fdea 22.5px,#02f5fd 23.5px,#0088ff 28.5px,#002bff 34.5px,#0001fc 38.5px,#0000bc 47.5px,#000091 59.5px,#00008f 87.5px)"></i><i style="background:linear-gradient(#9aa93a 0.5px,#8aa94a 4.5px,#86a972 8.5px,#66ca99 11.5px,#56dba9 13.5px,#54d9ab 15.5px,#078df8 22.5px,#0043ff 27.5px,#0022fa 30.5px,#0000cf 39.5px,#00009b 51.5px,#00008f 65.5px,#00008f 87.5px)"></i><i style="background:linear-gradient(#a4f959 0.5px,#97f966 3.5px,#63f99a 7.5px,#06f9f7 12.5px,#0060fd 21.5px,#000cfd 28.5px,#0001f6 30.5px,#0000b7 40.5px,#000090 53.5px,#00008f 87.5px)"></i><i style="background:linear-gradient(#030595 0.5px,#00008f 87.5px)"></i><i style="background:linear-gradient(#0d2d9b 0.5px,#0029a7 9.5px,#0000a2 23.5px,#00008f 40.5px,#00008f 87.5px)"></i><i style="background:linear-gradient(#4bf9b2 0.5px,#3ef9bf 3.5px,#0cfaf2 7.5px,#02f3fb 8.5px,#0030fd 19.5px,#0006fd 22.5px,#0000ac 31.5px,#000090 37.5px,#00008f 87.5px)"></i><i style="background:linear-gradient(#72805a 0.5px,#86806b 5.5px,#8b8273 6.5px,#80a97f 9.5px,#79cb86 13.5px,#0e97f1 19.5px,#018dfe 20.5px,#0055fb 23.5px,#0010d9 30.5px,#0000cb 33.5px,#0000a9 38.5px,#00008f 48.5px,#00008f 87.5px)"></i><i style="background:linear-gradient(#980201 0.5px,#a40202 2.5px,#c80202 4.5px,#f80702 6.5px,#fc6c02 9.5px,#fbe002 12.5px,#effa0f 13.5px,#3efdc1 18.5px,#05f8fa 20.5px,#007cff 25.5px,#0021fe 30.5px,#0005fe 32.5px,#0000b4 40.5px,#000090 47.5px,#00008f 87.5px)"></i><i style="background:linear-gradient(#880000 0.5px,#990000 4.5px,#aa0200 6.5px,#ad4d00 12.5px,#e15811 14.5px,#e1721e 15.5px,#aff950 19.5px,#8dfd72 20.5px,#23dadc 24.5px,#00c3ff 26.5px,#0051ff 31.5px,#001bf4 35.5px,#0001e9 38.5px,#0000a7 46.5px,#00008f 54.5px,#00008f 87.5px)"></i><i style="background:linear-gradient(#800000 0.5px,#840100 12.5px,#b20100 13.5px,#ea0300 14.5px,#fc2a00 15.5px,#fdc701 18.5px,#f9f306 19.5px,#a9fd56 21.5px,#16fee9 25.5px,#02f2fd 26.5px,#0073ff 31.5px,#001aff 36.5px,#0002fc 38.5px,#0000b9 45.5px,#000090 53.5px,#00008f 87.5px)"></i><i style="background:linear-gradient(#800000 0.5px,#820200 16.5px,#990200 17.5px,#da0400 18.5px,#fe2000 19.5px,#fdcb02 22.5px,#f6f809 23.5px,#77ff88 26.5px,#0dfdf2 29.5px,#00eaff 30.5px,#0081ff 34.5px,#0024ff 39.5px,#0000f9 42.5px,#0000b8 49.5px,#000090 57.5px,#00008f 87.5px)"></i><i style="background:linear-gradient(#800000 0.5px,#800000 16.5px,#930000 17.5px,#ca0000 18.5px,#e81800 19.5px,#ffad00 22.5px,#fadd05 23.5px,#b3f74c 25.5px,#41ffbe 28.5px,#1effe1 29.5px,#0deff2 30.5px,#00a7ff 33.5px,#003eff 38.5px,#0006fb 42.5px,#0000af 51.5px,#000091 58.5px,#00008f 87.5px)"></i><i style="background:linear-gradient(#800000 0.5px,#820000 19.5px,#990100 20.5px,#dc0300 21.5px,#fe2500 22.5px,#fed401 25.5px,#f1fb0e 26.5px,#49ffb6 30.5px,#07fbf8 32.5px,#0093ff 36.5px,#0030ff 41.5px,#0005fe 44.5px,#0000b1 53.5px,#000090 60.5px,#00008f 87.5px)"></i><i style="background:linear-gradient(#800000 0.5px,#800000 19.5px,#8b0000 20.5px,#ae0000 21.5px,#c61100 22.5px,#e83100 23.5px,#fe5b00 24.5px,#f9c906 26.5px,#c8fc37 28.5px,#4cffb3 31.5px,#29fed6 32.5px,#04e2fb 34.5px,#0069ff 39.5px,#0014ff 44.5px,#0000ed 47.5px,#0000b1 54.5px,#000091 61.5px,#00008f 87.5px)"></i><i style="background:linear-gradient(#800000 0.5px,#800000 21.5px,#8e0000 22.5px,#d00100 23.5px,#fd1a00 24.5px,#fece01 27.5px,#f5f90a 28.5px,#4cffb3 32.5px,#09fdf6 34.5px,#00c9ff 36.5px,#0069ff 40.5px,#0014ff 45.5px,#0000f9 47.5px,#0000b8 54.5px,#000090 62.5px,#00008f 87.5px)"></i><i style="background:linear-gradient(#800000 0.5px,#840000 22.5px,#9b0000 23.5px,#c00900 24.5px,#f02000 25.5px,#ff5300 26.5px,#fcc703 28.5px,#eded12 29.5px,#ceff31 30.5px,#4fffb0 33.5px,#11f6ee 35.5px,#01e7fe 36.5px,#0080ff 40.5px,#0024ff 45.5px,#0002f8 48.5px,#0000b3 56.5px,#000090 64.5px,#00008f 87.5px)"></i><i style="background:linear-gradient(#800000 0.5px,#800000 23.5px,#a10000 24.5px,#e70300 25.5px,#fe3100 26.5px,#fee201 29.5px,#e7fe18 30.5px,#63ff9c 33.5px,#1affe5 35.5px,#02f6fd 36.5px,#008cff 40.5px,#002cff 45.5px,#0003fe 48.5px,#0000b6 56.5px,#000090 64.5px,#00008f 87.5px)"></i><i style="background:linear-gradient(#800000 0.5px,#800000 24.5px,#940000 25.5px,#d90100 26.5px,#fe2300 27.5px,#fed801 30.5px,#effd10 31.5px,#6bff94 34.5px,#21ffde 36.5px,#04fafb 37.5px,#007aff 42.5px,#0020ff 47.5px,#0005ff 49.5px,#0000b1 58.5px,#00008f 66.5px,#00008f 87.5px)"></i><i style="background:linear-gradient(#800000 0.5px,#800000 24.5px,#8c0000 25.5px,#c30000 26.5px,#f41700 27.5px,#ff4f00 28.5px,#ffc600 30.5px,#f5f20a 31.5px,#d0ff2f 32.5px,#50ffaf 35.5px,#0dfcf2 37.5px,#01e8fe 38.5px,#0081ff 42.5px,#0025ff 47.5px,#0001fa 50.5px,#0000b3 58.5px,#000090 66.5px,#00008f 87.5px)"></i><i style="background:linear-gradient(#800000 0.5px,#800000 25.5px,#980000 26.5px,#df0100 27.5px,#fe2800 28.5px,#ffdd00 31.5px,#ecfe13 32.5px,#67ff98 35.5px,#1dffe2 37.5px,#03f9fc 38.5px,#0078ff 43.5px,#001fff 48.5px,#0004fe 50.5px,#0000b7 58.5px,#000090 66.5px,#00008f 87.5px)"></i><i style="background:linear-gradient(#800000 0.5px,#800000 25.5px,#8c0000 26.5px,#c80000 27.5px,#f91800 28.5px,#ffcc00 31.5px,#f5f70a 32.5px,#9eff61 34.5px,#28ffd7 37.5px,#0afcf5 38.5px,#00caff 40.5px,#006aff 44.5px,#0015ff 49.5px,#0001fa 51.5px,#0000ba 58.5px,#000091 66.5px,#00008f 87.5px)"></i><i style="background:linear-gradient(#800000 0.5px,#810000 26.5px,#b10000 27.5px,#f30800 28.5px,#ff4100 29.5px,#ffbb00 31.5px,#fdef02 32.5px,#daff25 33.5px,#58ffa7 36.5px,#11ffee 38.5px,#00efff 39.5px,#0086ff 43.5px,#0028ff 48.5px,#0001fd 51.5px,#0000bc 58.5px,#000090 67.5px,#00008f 87.5px)"></i><i style="background:linear-gradient(#800000 0.5px,#800000 26.5px,#9c0000 27.5px,#e30200 28.5px,#ff2d00 29.5px,#fee101 32.5px,#e8fe17 33.5px,#64ff9b 36.5px,#1bffe4 38.5px,#02f7fd 39.5px,#0077ff 44.5px,#001eff 49.5px,#0004fe 51.5px,#0000b7 59.5px,#000090 67.5px,#00008f 87.5px)"></i><i style="background:linear-gradient(#800000 0.5px,#800000 26.5px,#970000 27.5px,#e00100 28.5px,#ff2800 29.5px,#ffdd00 32.5px,#ebfe14 33.5px,#67ff98 36.5px,#1dffe2 38.5px,#03f9fc 39.5px,#0078ff 44.5px,#001fff 49.5px,#0004ff 51.5px,#0000b8 59.5px,#000090 67.5px,#00008f 87.5px)"></i><i style="background:linear-gradient(#800000 0.5px,#800000 26.5px,#910000 27.5px,#d70100 28.5px,#fe2000 29.5px,#ffd700 32.5px,#f1fd0e 33.5px,#6cff93 36.5px,#22ffdd 38.5px,#05fbfa 39.5px,#007bff 44.5px,#0021ff 49.5px,#0005ff 51.5px,#0000b2 60.5px,#00008f 68.5px,#00008f 87.5px)"></i><i style="background:linear-gradient(#800000 0.5px,#800000 26.5px,#920000 27.5px,#d90100 28.5px,#fe2200 29.5px,#ffd900 32.5px,#effd10 33.5px,#6aff95 36.5px,#20ffdf 38.5px,#04fafb 39.5px,#007aff 44.5px,#0020ff 49.5px,#0005ff 51.5px,#0000b2 60.5px,#00008f 68.5px,#00008f 87.5px)"></i><i style="background:linear-gradient(#800000 0.5px,#800000 26.5px,#960000 27.5px,#de0100 28.5px,#fe2700 29.5px,#ffdc00 32.5px,#ecfe13 33.5px,#68ff97 36.5px,#1effe1 38.5px,#03f9fc 39.5px,#0079ff 44.5px,#001fff 49.5px,#0004ff 51.5px,#0000b1 60.5px,#00008f 68.5px,#00008f 87.5px)"></i><i style="background:linear-gradient(#800000 0.5px,#800000 26.5px,#a20000 27.5px,#e80400 28.5px,#ff3300 29.5px,#fee501 32.5px,#e4fe1b 33.5px,#61ff9e 36.5px,#19ffe6 38.5px,#02f5fd 39.5px,#008cff 43.5px,#002cff 48.5px,#0003fe 51.5px,#0000b7 59.5px,#000090 67.5px,#00008f 87.5px)"></i><i style="background:linear-gradient(#800000 0.5px,#810000 26.5px,#af0000 27.5px,#f20700 28.5px,#ff3e00 29.5px,#ffb900 31.5px,#fded02 32.5px,#dcff23 33.5px,#5affa5 36.5px,#13ffec 38.5px,#00f1ff 39.5px,#0088ff 43.5px,#0029ff 48.5px,#0002fd 51.5px,#0000b6 59.5px,#000090 67.5px,#00008f 87.5px)"></i><i style="background:linear-gradient(#800000 0.5px,#800000 25.5px,#910000 26.5px,#d30000 27.5px,#fc1f00 28.5px,#ffd300 31.5px,#f2fa0d 32.5px,#48ffb7 36.5px,#07fbf8 38.5px,#0094ff 42.5px,#0032ff 47.5px,#0007ff 50.5px,#0000d0 55.5px,#000098 64.5px,#00008f 70.5px,#00008f 87.5px)"></i><i style="background:linear-gradient(#800000 0.5px,#800000 25.5px,#950000 26.5px,#dc0100 27.5px,#fe2500 28.5px,#ffda00 31.5px,#eefd11 32.5px,#6aff95 35.5px,#20ffdf 37.5px,#04fafb 38.5px,#007aff 43.5px,#0020ff 48.5px,#0005ff 50.5px,#0000b2 59.5px,#00008f 67.5px,#00008f 87.5px)"></i><i style="background:linear-gradient(#800000 0.5px,#800000 24.5px,#8f0000 25.5px,#d30100 26.5px,#fe1c00 27.5px,#ffd200 30.5px,#f3fb0c 31.5px,#4affb5 35.5px,#07fcf8 37.5px,#00adff 40.5px,#0043ff 45.5px,#0007ff 49.5px,#0000e4 52.5px,#0000a7 60.5px,#00008f 66.5px,#00008f 87.5px)"></i><i style="background:linear-gradient(#800000 0.5px,#800000 23.5px,#890000 24.5px,#ab0000 25.5px,#e20e00 26.5px,#fe3700 27.5px,#ffb100 29.5px,#f9e106 30.5px,#e1fd1e 31.5px,#61ff9e 34.5px,#1afde5 36.5px,#04f2fb 37.5px,#0076ff 42.5px,#001dff 47.5px,#0005fc 49.5px,#0000b0 58.5px,#000090 65.5px,#00008f 87.5px)"></i><i style="background:linear-gradient(#800000 0.5px,#810000 23.5px,#9b0000 24.5px,#e20200 25.5px,#fe2a00 26.5px,#fedc01 29.5px,#ecfd13 30.5px,#69ff96 33.5px,#20ffdf 35.5px,#04fafb 36.5px,#007aff 41.5px,#0020ff 46.5px,#0005ff 48.5px,#0000b2 57.5px,#00008f 65.5px,#00008f 87.5px)"></i><i style="background:linear-gradient(#800000 0.5px,#840000 22.5px,#cb0900 24.5px,#f12900 25.5px,#ff5c00 26.5px,#fdce02 28.5px,#e9ee16 29.5px,#c9fe36 30.5px,#4cffb3 33.5px,#28ffd7 34.5px,#10f6ef 35.5px,#02e5fd 36.5px,#006aff 41.5px,#0015ff 46.5px,#0000ef 49.5px,#0000b3 56.5px,#000090 64.5px,#00008f 87.5px)"></i><i style="background:linear-gradient(#800000 0.5px,#810000 21.5px,#8a0000 22.5px,#c80100 23.5px,#fb1400 24.5px,#fec601 27.5px,#f9f506 28.5px,#a4ff5b 30.5px,#2fffd0 33.5px,#0efef1 34.5px,#00ecff 35.5px,#0084ff 39.5px,#0027ff 44.5px,#0001fc 47.5px,#0000bb 54.5px,#000091 62.5px,#00008f 87.5px)"></i><i style="background:linear-gradient(#800000 0.5px,#800000 19.5px,#8c0000 20.5px,#c30000 21.5px,#e91400 22.5px,#fe7c00 24.5px,#fae505 26.5px,#b2fd4d 28.5px,#3cffc3 31.5px,#19ffe6 32.5px,#08eff7 33.5px,#008dff 37.5px,#002dff 42.5px,#0005fd 45.5px,#0000b0 54.5px,#000090 61.5px,#00008f 87.5px)"></i><i style="background:linear-gradient(#800000 0.5px,#820000 19.5px,#910100 20.5px,#d20300 21.5px,#fd1b00 22.5px,#feca01 25.5px,#f7f708 26.5px,#78ff87 29.5px,#0dfdf2 32.5px,#00ebff 33.5px,#0083ff 37.5px,#0026ff 42.5px,#0001fc 45.5px,#0000bb 52.5px,#000091 60.5px,#00008f 87.5px)"></i><i style="background:linear-gradient(#800000 0.5px,#800000 16.5px,#8e0100 17.5px,#cb0100 18.5px,#fa1300 19.5px,#febc01 22.5px,#fced03 23.5px,#dcfd23 24.5px,#3affc5 28.5px,#18fee7 29.5px,#02f5fd 30.5px,#0076ff 35.5px,#001eff 40.5px,#0004fe 42.5px,#0000b6 50.5px,#000090 58.5px,#00008f 87.5px)"></i><i style="background:linear-gradient(#800000 0.5px,#800000 12.5px,#9f0000 14.5px,#ab0900 15.5px,#b42e00 17.5px,#dd3f00 18.5px,#fd5b00 19.5px,#e7b018 21.5px,#cbf534 23.5px,#7fff80 25.5px,#3ef5c1 27.5px,#0fe3f0 29.5px,#01d4fe 30.5px,#005fff 35.5px,#001dfd 39.5px,#0002f2 42.5px,#0000af 50.5px,#000091 57.5px,#00008f 87.5px)"></i><i style="background:linear-gradient(#800000 0.5px,#810200 12.5px,#a30300 13.5px,#dc0300 14.5px,#fc1c01 15.5px,#fce903 19.5px,#e1fd1e 20.5px,#44febb 24.5px,#06faf9 26.5px,#007eff 31.5px,#0023ff 36.5px,#0001f9 39.5px,#0000b9 46.5px,#000090 54.5px,#00008f 87.5px)"></i><i style="background:linear-gradient(#830000 0.5px,#950000 3.5px,#c80000 6.5px,#d40a00 7.5px,#d48a00 12.5px,#dea202 13.5px,#dea915 14.5px,#d0b12f 15.5px,#74f88b 19.5px,#56ffa9 20.5px,#30e3cf 22.5px,#02a3fd 26.5px,#003fff 31.5px,#0017f9 34.5px,#0000d7 39.5px,#00009f 47.5px,#00008f 56.5px,#00008f 87.5px)"></i><i style="background:linear-gradient(#840302 0.5px,#900302 2.5px,#b40302 4.5px,#e90403 6.5px,#fb1303 7.5px,#f8f306 13.5px,#b6fc49 15.5px,#0ffcf0 20.5px,#01edfe 21.5px,#0075ff 26.5px,#001efe 31.5px,#0004fd 33.5px,#0000b6 41.5px,#000090 49.5px,#00008f 87.5px)"></i><i style="background:linear-gradient(#68d181 0.5px,#5ed194 4.5px,#48d4b7 7.5px,#2eddd1 9.5px,#28abd7 14.5px,#0048ff 21.5px,#001dfc 24.5px,#0001bb 33.5px,#000098 40.5px,#00008f 62.5px,#00008f 87.5px)"></i><i style="background:linear-gradient(#51d19a 0.5px,#3ed1ad 4.5px,#02cdea 9.5px,#0037eb 19.5px,#0001e8 24.5px,#0000a8 33.5px,#000090 40.5px,#00008f 87.5px)"></i><i style="background:linear-gradient(#02058f 0.5px,#00008f 87.5px)"></i><i style="background:linear-gradient(#2f5686 0.5px,#1e5697 6.5px,#004fb5 12.5px,#000cb5 24.5px,#0000b0 29.5px,#000091 47.5px,#00008f 87.5px)"></i><i style="background:linear-gradient(#8af973 0.5px,#7df980 3.5px,#4af9b3 7.5px,#05f7f9 11.5px,#015afd 20.5px,#0004fd 27.5px,#0000b9 37.5px,#000091 49.5px,#00008f 87.5px)"></i><i style="background:linear-gradient(#845627 0.5px,#84562f 4.5px,#b0573e 7.5px,#bb5e44 8.5px,#a9be56 12.5px,#a7e458 14.5px,#10c2ef 21.5px,#01b9fe 22.5px,#005aff 27.5px,#0011ed 34.5px,#0000e3 37.5px,#0000ad 46.5px,#000090 58.5px,#00008f 87.5px)"></i><i style="background:linear-gradient(#800101 0.5px,#800101 3.5px,#8c0101 4.5px,#e20201 7.5px,#fb0c01 8.5px,#fbf103 14.5px,#bbfc44 16.5px,#1afee5 21.5px,#04f8fb 22.5px,#0088ff 27.5px,#0027ff 33.5px,#0005fe 36.5px,#0000b8 46.5px,#000090 58.5px,#00008f 87.5px)"></i><i style="background:linear-gradient(#800000 0.5px,#860000 5.5px,#960900 9.5px,#9b2500 13.5px,#eb2f05 15.5px,#f24f0c 16.5px,#daf325 20.5px,#bbfe44 21.5px,#57f5a8 24.5px,#08e9f7 27.5px,#00a6ff 30.5px,#0049ff 35.5px,#0004f8 41.5px,#0000b4 51.5px,#000091 62.5px,#00008f 87.5px)"></i><i style="background:linear-gradient(#800000 0.5px,#840100 13.5px,#da0200 15.5px,#e82300 16.5px,#ef7900 18.5px,#fdcd02 20.5px,#e4e31b 21.5px,#83fd7c 24.5px,#1ffee0 27.5px,#0bd9f4 29.5px,#0086ff 33.5px,#0032ff 38.5px,#0006fa 42.5px,#0000b1 53.5px,#000090 64.5px,#00008f 87.5px)"></i><i style="background:linear-gradient(#800000 0.5px,#820100 17.5px,#a60200 18.5px,#e50400 19.5px,#fe2800 20.5px,#fdcb02 23.5px,#f8f607 24.5px,#a9ff56 26.5px,#3bfec4 29.5px,#03f9fc 31.5px,#0083ff 36.5px,#002fff 41.5px,#0001fd 45.5px,#0000ba 54.5px,#000090 66.5px,#00008f 87.5px)"></i><i style="background:linear-gradient(#800000 0.5px,#800000 17.5px,#980000 18.5px,#c30100 19.5px,#d41900 20.5px,#f96500 22.5px,#fcc803 24.5px,#c7f238 26.5px,#a9fe56 27.5px,#3affc5 30.5px,#1efce1 31.5px,#00c6ff 34.5px,#005dff 39.5px,#0015ff 44.5px,#0002f2 47.5px,#0000b4 56.5px,#000090 67.5px,#00008f 87.5px)"></i><i style="background:linear-gradient(#800000 0.5px,#820000 20.5px,#ab0100 21.5px,#eb0400 22.5px,#fe3100 23.5px,#fed701 26.5px,#f2fb0d 27.5px,#52ffad 31.5px,#11feee 33.5px,#01f1fe 34.5px,#007cff 39.5px,#002aff 44.5px,#0000fa 48.5px,#0000bd 56.5px,#000090 68.5px,#00008f 87.5px)"></i><i style="background:linear-gradient(#800000 0.5px,#800000 20.5px,#a50100 22.5px,#c11000 23.5px,#ee2500 24.5px,#ff5300 25.5px,#fbbf04 27.5px,#ece313 28.5px,#d7fd28 29.5px,#3cffc3 33.5px,#0bf1f4 35.5px,#00e0ff 36.5px,#006fff 41.5px,#0021ff 46.5px,#0003fa 49.5px,#0000b4 59.5px,#000090 70.5px,#00008f 87.5px)"></i><i style="background:linear-gradient(#800000 0.5px,#810000 22.5px,#a10000 23.5px,#e40200 24.5px,#fe2a00 25.5px,#ffd400 28.5px,#f4fb0b 29.5px,#53ffac 33.5px,#12ffed 35.5px,#01f2fe 36.5px,#007cff 41.5px,#002aff 46.5px,#0005ff 49.5px,#0000b7 59.5px,#000090 70.5px,#00008f 87.5px)"></i><i style="background:linear-gradient(#800000 0.5px,#800000 22.5px,#860000 23.5px,#960000 24.5px,#c80800 25.5px,#f91b00 26.5px,#fdc302 29.5px,#f5ee0a 30.5px,#d7ff28 31.5px,#5dffa2 34.5px,#1cfde3 36.5px,#05f6fa 37.5px,#0081ff 42.5px,#002dff 47.5px,#0001fb 51.5px,#0000b8 60.5px,#000090 71.5px,#00008f 87.5px)"></i><i style="background:linear-gradient(#800000 0.5px,#840000 24.5px,#ea0900 26.5px,#fc3900 27.5px,#fee001 30.5px,#e7f918 31.5px,#4affb5 35.5px,#0bfdf4 37.5px,#00d0ff 39.5px,#0064ff 44.5px,#000dff 50.5px,#0000f6 52.5px,#0000bb 60.5px,#000091 71.5px,#00008f 87.5px)"></i><i style="background:linear-gradient(#800000 0.5px,#810000 25.5px,#ae0000 26.5px,#ef0600 27.5px,#ff3800 28.5px,#fee201 31.5px,#eafe15 32.5px,#6cff93 35.5px,#09fef6 38.5px,#00ceff 40.5px,#0062ff 45.5px,#000cff 51.5px,#0000f6 53.5px,#0000ba 61.5px,#000091 72.5px,#00008f 87.5px)"></i><i style="background:linear-gradient(#800000 0.5px,#800000 25.5px,#9f0000 26.5px,#dc0300 27.5px,#fb2700 28.5px,#ffd200 31.5px,#f1f70e 32.5px,#a0ff5f 34.5px,#31ffce 37.5px,#11feee 38.5px,#02f0fd 39.5px,#007bff 44.5px,#0029ff 49.5px,#0005fe 52.5px,#0000b6 62.5px,#000090 73.5px,#00008f 87.5px)"></i><i style="background:linear-gradient(#800000 0.5px,#820000 26.5px,#b60000 27.5px,#f40800 28.5px,#ff3f00 29.5px,#fee801 32.5px,#e4ff1b 33.5px,#67ff98 36.5px,#06fcf9 39.5px,#0086ff 44.5px,#0030ff 49.5px,#0001fd 53.5px,#0000bf 61.5px,#000093 72.5px,#00008f 87.5px)"></i><i style="background:linear-gradient(#800000 0.5px,#800000 26.5px,#9b0000 27.5px,#dd0300 28.5px,#fe2600 29.5px,#ffd400 32.5px,#f2fa0d 33.5px,#51ffae 37.5px,#10feef 39.5px,#01f0fe 40.5px,#008eff 44.5px,#0036ff 49.5px,#0004fe 53.5px,#0000b6 63.5px,#000090 74.5px,#00008f 87.5px)"></i><i style="background:linear-gradient(#800000 0.5px,#800000 26.5px,#8e0000 27.5px,#d10000 28.5px,#fd1900 29.5px,#ffc900 32.5px,#f9f706 33.5px,#a7ff58 35.5px,#36ffc9 38.5px,#15ffea 39.5px,#01f5fe 40.5px,#007dff 45.5px,#002aff 50.5px,#0006ff 53.5px,#0000b7 63.5px,#000090 74.5px,#00008f 87.5px)"></i><i style="background:linear-gradient(#800000 0.5px,#850000 27.5px,#bd0000 28.5px,#f70c00 29.5px,#ff8200 31.5px,#fded02 33.5px,#dfff20 34.5px,#63ff9c 37.5px,#1effe1 39.5px,#04fafb 40.5px,#0083ff 45.5px,#002eff 50.5px,#0001fc 54.5px,#0000be 62.5px,#000092 73.5px,#00008f 87.5px)"></i><i style="background:linear-gradient(#800000 0.5px,#820000 27.5px,#f50900 29.5px,#ff7d00 31.5px,#feea01 33.5px,#e3ff1c 34.5px,#66ff99 37.5px,#05fcfa 40.5px,#0085ff 45.5px,#002fff 50.5px,#0001fd 54.5px,#0000be 62.5px,#000092 73.5px,#00008f 87.5px)"></i><i style="background:linear-gradient(#800000 0.5px,#810000 27.5px,#b00000 28.5px,#f10600 29.5px,#ff3b00 30.5px,#ffe500 33.5px,#e7ff18 34.5px,#69ff96 37.5px,#07fdf8 40.5px,#009cff 44.5px,#003fff 49.5px,#0001fd 54.5px,#0000bf 62.5px,#000093 73.5px,#00008f 87.5px)"></i><i style="background:linear-gradient(#800000 0.5px,#820000 27.5px,#b40000 28.5px,#f40800 29.5px,#ff3e00 30.5px,#fee801 33.5px,#e4ff1b 34.5px,#67ff98 37.5px,#06fcf9 40.5px,#0085ff 45.5px,#0030ff 50.5px,#0001fd 54.5px,#0000be 62.5px,#000092 73.5px,#00008f 87.5px)"></i><i style="background:linear-gradient(#800000 0.5px,#830000 27.5px,#f60a00 29.5px,#ff7f00 31.5px,#feeb01 33.5px,#e1ff1e 34.5px,#65ff9a 37.5px,#04fbfb 40.5px,#0084ff 45.5px,#002fff 50.5px,#0001fc 54.5px,#0000be 62.5px,#000092 73.5px,#00008f 87.5px)"></i><i style="background:linear-gradient(#800000 0.5px,#800000 26.5px,#8b0000 27.5px,#c90000 28.5px,#fb1400 29.5px,#ffc400 32.5px,#fbf304 33.5px,#d7ff28 34.5px,#5cffa3 37.5px,#18ffe7 39.5px,#02f7fd 40.5px,#007fff 45.5px,#002cff 50.5px,#0000fa 54.5px,#0000bd 62.5px,#000092 73.5px,#00008f 87.5px)"></i><i style="background:linear-gradient(#800000 0.5px,#800000 26.5px,#8f0000 27.5px,#d30100 28.5px,#fe1a00 29.5px,#ffcb00 32.5px,#f9f706 33.5px,#7dff82 36.5px,#14ffeb 39.5px,#01f4fe 40.5px,#0091ff 44.5px,#0038ff 49.5px,#0005ff 53.5px,#0000b7 63.5px,#000090 74.5px,#00008f 87.5px)"></i><i style="background:linear-gradient(#800000 0.5px,#820000 26.5px,#b60000 27.5px,#f40900 28.5px,#ff4000 29.5px,#ffe900 32.5px,#e4ff1b 33.5px,#67ff98 36.5px,#05fcfa 39.5px,#0085ff 44.5px,#0030ff 49.5px,#0001fd 53.5px,#0000be 61.5px,#000092 72.5px,#00008f 87.5px)"></i><i style="background:linear-gradient(#800000 0.5px,#800000 25.5px,#8a0000 26.5px,#c10100 27.5px,#f71100 28.5px,#ff8600 30.5px,#fbed04 32.5px,#ddff22 33.5px,#61ff9e 36.5px,#1dffe2 38.5px,#04f8fb 39.5px,#0082ff 44.5px,#002dff 49.5px,#0001fb 53.5px,#0000bd 61.5px,#000092 72.5px,#00008f 87.5px)"></i><i style="background:linear-gradient(#800000 0.5px,#810000 25.5px,#af0000 26.5px,#f00600 27.5px,#ff3900 28.5px,#fee301 31.5px,#e9fe16 32.5px,#6bff94 35.5px,#08fdf7 38.5px,#00cdff 40.5px,#0061ff 45.5px,#000bff 51.5px,#0000f5 53.5px,#0000ba 61.5px,#000090 72.5px,#00008f 87.5px)"></i><i style="background:linear-gradient(#800000 0.5px,#820000 24.5px,#a00000 25.5px,#d40600 26.5px,#f82600 27.5px,#ffce00 30.5px,#f0f10f 31.5px,#cfff30 32.5px,#56ffa9 35.5px,#15fdea 37.5px,#04f0fb 38.5px,#007cff 43.5px,#0029ff 48.5px,#0006fe 51.5px,#0000b7 61.5px,#000090 72.5px,#00008f 87.5px)"></i><i style="background:linear-gradient(#800000 0.5px,#800000 23.5px,#860000 24.5px,#bf0100 25.5px,#f80d00 26.5px,#ffba00 29.5px,#fdec02 30.5px,#e0fe1f 31.5px,#64ff9b 34.5px,#05fbfa 37.5px,#0084ff 42.5px,#002fff 47.5px,#0001fc 51.5px,#0000be 59.5px,#000092 70.5px,#00008f 87.5px)"></i><i style="background:linear-gradient(#800000 0.5px,#800000 22.5px,#980000 23.5px,#c60100 24.5px,#e91e00 25.5px,#fd4a00 26.5px,#ffba00 28.5px,#f7e608 29.5px,#daf925 30.5px,#41ffbe 34.5px,#20ffdf 35.5px,#0bf5f4 36.5px,#00c9ff 38.5px,#005eff 43.5px,#0009ff 49.5px,#0000e1 53.5px,#0000aa 62.5px,#00008f 72.5px,#00008f 87.5px)"></i><i style="background:linear-gradient(#800000 0.5px,#820000 22.5px,#a50100 23.5px,#e80400 24.5px,#fe2f00 25.5px,#fed801 28.5px,#f1fc0e 29.5px,#50ffaf 33.5px,#0ffef0 35.5px,#00efff 36.5px,#008dff 40.5px,#0035ff 45.5px,#0004fe 49.5px,#0000bb 58.5px,#000091 69.5px,#00008f 87.5px)"></i><i style="background:linear-gradient(#800000 0.5px,#810000 20.5px,#ae0000 21.5px,#ed0400 22.5px,#fd3300 23.5px,#ffd900 26.5px,#f1fc0e 27.5px,#50ffaf 31.5px,#0ffff0 33.5px,#01effe 34.5px,#007aff 39.5px,#0028ff 44.5px,#0004ff 47.5px,#0000b6 57.5px,#000090 68.5px,#00008f 87.5px)"></i><i style="background:linear-gradient(#800000 0.5px,#800000 17.5px,#970700 20.5px,#bd1200 21.5px,#f11f00 22.5px,#ff4f00 23.5px,#f7b708 25.5px,#efe110 26.5px,#ddfe22 27.5px,#64ff9b 30.5px,#0cf4f3 33.5px,#00e3ff 34.5px,#0071ff 39.5px,#0022ff 44.5px,#0003fb 47.5px,#0000b9 56.5px,#000091 67.5px,#00008f 87.5px)"></i><i style="background:linear-gradient(#800000 0.5px,#810100 17.5px,#a90100 18.5px,#e70300 19.5px,#fd2b00 20.5px,#fecd01 23.5px,#f7f708 24.5px,#5bffa4 28.5px,#19fee6 30.5px,#03f7fc 31.5px,#0081ff 36.5px,#002dff 41.5px,#0001fc 45.5px,#0000be 53.5px,#000090 65.5px,#00008f 87.5px)"></i><i style="background:linear-gradient(#800000 0.5px,#830000 13.5px,#b80200 15.5px,#c03200 17.5px,#d44c00 18.5px,#f46500 19.5px,#fd8f02 20.5px,#d8cd27 22.5px,#affc50 24.5px,#43febc 27.5px,#0cdaf3 30.5px,#01cbfe 31.5px,#0061ff 36.5px,#0018ff 41.5px,#0000ec 45.5px,#0000b0 54.5px,#000091 64.5px,#00008f 87.5px)"></i><i style="background:linear-gradient(#800000 0.5px,#810200 12.5px,#880200 13.5px,#f00600 15.5px,#fd3001 16.5px,#fdc802 19.5px,#faf305 20.5px,#d8fe27 21.5px,#43febc 25.5px,#07fcf8 27.5px,#009eff 31.5px,#0042ff 36.5px,#0003fe 41.5px,#0000bb 50.5px,#000090 62.5px,#00008f 87.5px)"></i><i style="background:linear-gradient(#800000 0.5px,#800000 3.5px,#b00000 6.5px,#c60000 7.5px,#d40a00 8.5px,#d68d00 13.5px,#e5a403 14.5px,#e3aa18 15.5px,#75fb8a 20.5px,#3cf9c3 22.5px,#02acfd 27.5px,#003eff 33.5px,#0017fe 36.5px,#0000db 42.5px,#0000a4 52.5px,#000090 61.5px,#00008f 87.5px)"></i><i style="background:linear-gradient(#800402 0.5px,#810402 3.5px,#aa0403 5.5px,#e70403 7.5px,#fb1303 8.5px,#f7f608 14.5px,#4ffcb0 19.5px,#14fceb 21.5px,#02f2fd 22.5px,#0081ff 27.5px,#0022fe 33.5px,#0002fc 36.5px,#0000ba 45.5px,#000090 57.5px,#00008f 87.5px)"></i><i style="background:linear-gradient(#85fa78 0.5px,#78fa85 3.5px,#46fab9 7.5px,#10fcef 10.5px,#04f4fa 11.5px,#0157fe 20.5px,#000aff 26.5px,#0002ea 29.5px,#0000b1 38.5px,#000090 49.5px,#00008f 87.5px)"></i><i style="background:linear-gradient(#6ed27d 0.5px,#5bd291 4.5px,#1ad2d2 9.5px,#00cbeb 11.5px,#0045eb 20.5px,#0006eb 26.5px,#0000c1 33.5px,#000096 45.5px,#00008f 63.5px,#00008f 87.5px)"></i><i style="background:linear-gradient(#03068f 0.5px,#00008f 87.5px)"></i><i style="background:linear-gradient(#358092 0.5px,#2380a4 5.5px,#027fc5 9.5px,#000ec7 22.5px,#0000c3 25.5px,#000096 37.5px,#00008f 54.5px,#00008f 87.5px)"></i><i style="background:linear-gradient(#69f993 0.5px,#5cf9a0 3.5px,#2afad4 7.5px,#08f9f6 9.5px,#003bfe 20.5px,#0006fe 24.5px,#0000b3 33.5px,#000090 41.5px,#00008f 87.5px)"></i><i style="background:linear-gradient(#7c2d1b 0.5px,#832d1c 2.5px,#b02d21 5.5px,#d73526 7.5px,#d1e52e 13.5px,#bdee42 14.5px,#2bdfd4 19.5px,#01d2fe 21.5px,#0078fe 25.5px,#001ef4 31.5px,#0000ed 34.5px,#0000b3 41.5px,#00008f 50.5px,#00008f 87.5px)"></i><i style="background:linear-gradient(#7f0100 0.5px,#890100 2.5px,#ad0100 4.5px,#e30101 6.5px,#fb0a01 7.5px,#fcec01 13.5px,#e5fa19 14.5px,#37fec8 19.5px,#04f5fb 21.5px,#007eff 26.5px,#0026ff 31.5px,#0002fb 34.5px,#0000b5 42.5px,#000090 50.5px,#00008f 87.5px)"></i><i style="background:linear-gradient(#800000 0.5px,#820300 12.5px,#9c0400 13.5px,#d50400 14.5px,#fc1701 15.5px,#fbe304 19.5px,#e7fe18 20.5px,#4afeb5 24.5px,#0afcf5 26.5px,#00cbff 28.5px,#005bff 33.5px,#000dfe 38.5px,#0000f3 40.5px,#0000af 48.5px,#000090 55.5px,#00008f 87.5px)"></i><i style="background:linear-gradient(#800000 0.5px,#800000 12.5px,#910000 13.5px,#b80000 14.5px,#d30c00 15.5px,#d75400 17.5px,#fd9b00 19.5px,#f2c00d 20.5px,#a0f85f 23.5px,#58ffa7 25.5px,#36fec9 26.5px,#0acdf5 29.5px,#00a3ff 31.5px,#003eff 36.5px,#0012fe 39.5px,#0000d8 44.5px,#0000a1 52.5px,#000090 58.5px,#00008f 87.5px)"></i><i style="background:linear-gradient(#800000 0.5px,#810100 16.5px,#8a0100 17.5px,#c40200 18.5px,#f80e00 19.5px,#fde802 23.5px,#e2fe1d 24.5px,#65ff9a 27.5px,#1ffee0 29.5px,#04f9fb 30.5px,#007cff 35.5px,#0023ff 40.5px,#0000fa 43.5px,#0000ba 50.5px,#000091 58.5px,#00008f 87.5px)"></i><i style="background:linear-gradient(#800000 0.5px,#840000 17.5px,#bc0600 19.5px,#c52200 20.5px,#fd6400 22.5px,#ff9c00 23.5px,#f1c40e 24.5px,#c4f93b 26.5px,#4fffb0 29.5px,#2ffcd0 30.5px,#0ae1f5 32.5px,#00b4ff 34.5px,#0049ff 39.5px,#000ffd 43.5px,#0000e8 46.5px,#0000aa 54.5px,#000090 61.5px,#00008f 87.5px)"></i><i style="background:linear-gradient(#800000 0.5px,#810000 19.5px,#8b0100 20.5px,#c80100 21.5px,#fa1300 22.5px,#fec001 25.5px,#fbf104 26.5px,#d7fe28 27.5px,#5affa5 30.5px,#15feea 32.5px,#01f2fe 33.5px,#008bff 37.5px,#002dff 42.5px,#0004fe 45.5px,#0000b2 54.5px,#000090 62.5px,#00008f 87.5px)"></i><i style="background:linear-gradient(#800000 0.5px,#810000 20.5px,#9a0300 22.5px,#fa2300 24.5px,#fe9801 26.5px,#eef311 28.5px,#cbff34 29.5px,#4effb1 32.5px,#11f8ee 34.5px,#01e9fe 35.5px,#0083ff 39.5px,#0028ff 44.5px,#0003fb 47.5px,#0000b6 55.5px,#000090 63.5px,#00008f 87.5px)"></i><i style="background:linear-gradient(#800000 0.5px,#800000 21.5px,#850000 22.5px,#be0000 23.5px,#f70c00 24.5px,#ffbc00 27.5px,#fdef02 28.5px,#dbfe24 29.5px,#5cffa3 32.5px,#16ffe9 34.5px,#01f3fe 35.5px,#008bff 39.5px,#002dff 44.5px,#0004ff 47.5px,#0000b2 56.5px,#00008f 64.5px,#00008f 87.5px)"></i><i style="background:linear-gradient(#800000 0.5px,#810000 23.5px,#950000 24.5px,#da0200 25.5px,#fe2200 26.5px,#fed401 29.5px,#f2fb0d 30.5px,#4affb5 34.5px,#08fdf7 36.5px,#00caff 38.5px,#006bff 42.5px,#0017ff 47.5px,#0001fc 49.5px,#0000b5 57.5px,#000090 65.5px,#00008f 87.5px)"></i><i style="background:linear-gradient(#800000 0.5px,#800000 23.5px,#8d0000 24.5px,#be0000 25.5px,#ed1600 26.5px,#fe4700 27.5px,#ffbd00 29.5px,#f7eb08 30.5px,#d8fc27 31.5px,#35ffca 35.5px,#15feea 36.5px,#04effb 37.5px,#0074ff 42.5px,#001dff 47.5px,#0005fd 49.5px,#0000b1 58.5px,#000090 66.5px,#00008f 87.5px)"></i><i style="background:linear-gradient(#800000 0.5px,#800000 24.5px,#8a0000 25.5px,#ca0100 26.5px,#fc1500 27.5px,#ffc900 30.5px,#f8f707 31.5px,#a2ff5d 33.5px,#2dffd2 36.5px,#0dfef2 37.5px,#00ebff 38.5px,#0085ff 42.5px,#0028ff 47.5px,#0002fd 50.5px,#0000b6 58.5px,#000090 66.5px,#00008f 87.5px)"></i><i style="background:linear-gradient(#800000 0.5px,#850000 25.5px,#ac0000 26.5px,#e70a00 27.5px,#fe3700 28.5px,#ffb000 30.5px,#fce403 31.5px,#e2fd1d 32.5px,#62ff9d 35.5px,#1bffe4 37.5px,#05f5fa 38.5px,#0079ff 43.5px,#0020ff 48.5px,#0000f8 51.5px,#0000b9 58.5px,#000091 66.5px,#00008f 87.5px)"></i><i style="background:linear-gradient(#800000 0.5px,#800000 25.5px,#8e0000 26.5px,#d10100 27.5px,#fd1b00 28.5px,#ffd000 31.5px,#f5fa0a 32.5px,#4dffb2 36.5px,#09fef6 38.5px,#00cbff 40.5px,#006dff 44.5px,#0018ff 49.5px,#0001fc 51.5px,#0000b6 59.5px,#000090 67.5px,#00008f 87.5px)"></i><i style="background:linear-gradient(#800000 0.5px,#820000 26.5px,#ac0000 27.5px,#ee0700 28.5px,#ff3b00 29.5px,#ffb400 31.5px,#fde802 32.5px,#e1ff1e 33.5px,#5fffa0 36.5px,#18ffe7 38.5px,#02f5fd 39.5px,#0077ff 44.5px,#001fff 49.5px,#0005fe 51.5px,#0000b2 60.5px,#00008f 68.5px,#00008f 87.5px)"></i><i style="background:linear-gradient(#800000 0.5px,#800000 26.5px,#a40000 27.5px,#ea0300 28.5px,#ff3400 29.5px,#ffe400 32.5px,#e6ff19 33.5px,#63ff9c 36.5px,#1bffe4 38.5px,#02f8fd 39.5px,#0079ff 44.5px,#0021ff 49.5px,#0006ff 51.5px,#0000b3 60.5px,#00008f 68.5px,#00008f 87.5px)"></i><i style="background:linear-gradient(#800000 0.5px,#800000 26.5px,#8f0000 27.5px,#d40000 28.5px,#fe1d00 29.5px,#ffd200 32.5px,#f4fb0b 33.5px,#4affb5 37.5px,#08fdf7 39.5px,#00caff 41.5px,#006bff 45.5px,#0017ff 50.5px,#0001fc 52.5px,#0000bc 59.5px,#000090 68.5px,#00008f 87.5px)"></i><i style="background:linear-gradient(#800000 0.5px,#800000 26.5px,#8d0000 27.5px,#d10000 28.5px,#fe1a00 29.5px,#ffd000 32.5px,#f5fa0a 33.5px,#4cffb3 37.5px,#09fdf6 39.5px,#00cbff 41.5px,#006cff 45.5px,#0018ff 50.5px,#0001fc 52.5px,#0000b5 60.5px,#000090 68.5px,#00008f 87.5px)"></i><i style="background:linear-gradient(#800000 0.5px,#800000 26.5px,#8a0000 27.5px,#cb0000 28.5px,#fd1600 29.5px,#ffcc00 32.5px,#f7f908 33.5px,#4fffb0 37.5px,#0afef5 39.5px,#00e9ff 40.5px,#0083ff 44.5px,#0027ff 49.5px,#0001fd 52.5px,#0000b6 60.5px,#000090 68.5px,#00008f 87.5px)"></i><i style="background:linear-gradient(#800000 0.5px,#800000 26.5px,#8c0000 27.5px,#cf0000 28.5px,#fd1900 29.5px,#ffcf00 32.5px,#f6fa09 33.5px,#4dffb2 37.5px,#09fef6 39.5px,#00cbff 41.5px,#006dff 45.5px,#0018ff 50.5px,#0001fc 52.5px,#0000b5 60.5px,#000090 68.5px,#00008f 87.5px)"></i><i style="background:linear-gradient(#800000 0.5px,#800000 26.5px,#8f0000 27.5px,#d40000 28.5px,#fe1d00 29.5px,#ffd200 32.5px,#f4fb0b 33.5px,#4affb5 37.5px,#08fdf7 39.5px,#00caff 41.5px,#006bff 45.5px,#0017ff 50.5px,#0001fc 52.5px,#0000bc 59.5px,#000090 68.5px,#00008f 87.5px)"></i><i style="background:linear-gradient(#800000 0.5px,#800000 26.5px,#a00000 27.5px,#e70300 28.5px,#ff3000 29.5px,#ffe100 32.5px,#e8fe17 33.5px,#66ff99 36.5px,#1dffe2 38.5px,#03f9fc 39.5px,#007aff 44.5px,#0021ff 49.5px,#0000f9 52.5px,#0000ba 59.5px,#00008f 68.5px,#00008f 87.5px)"></i><i style="background:linear-gradient(#800000 0.5px,#800000 26.5px,#a50000 27.5px,#eb0300 28.5px,#ff3500 29.5px,#fee501 32.5px,#e5ff1a 33.5px,#63ff9c 36.5px,#1bffe4 38.5px,#02f7fd 39.5px,#0079ff 44.5px,#0020ff 49.5px,#0005ff 51.5px,#0000b3 60.5px,#00008f 68.5px,#00008f 87.5px)"></i><i style="background:linear-gradient(#800000 0.5px,#800000 25.5px,#8e0000 26.5px,#d10100 27.5px,#fe1b00 28.5px,#ffd000 31.5px,#f5fa0a 32.5px,#4cffb3 36.5px,#09fdf6 38.5px,#00cbff 40.5px,#006cff 44.5px,#0018ff 49.5px,#0001fc 51.5px,#0000b5 59.5px,#000090 67.5px,#00008f 87.5px)"></i><i style="background:linear-gradient(#800000 0.5px,#830000 25.5px,#a20000 26.5px,#e00700 27.5px,#fe2e00 28.5px,#ffa900 30.5px,#fddd02 31.5px,#e8fc17 32.5px,#42ffbd 36.5px,#06f7f9 38.5px,#007bff 43.5px,#0022ff 48.5px,#0001f9 51.5px,#0000ba 58.5px,#000090 67.5px,#00008f 87.5px)"></i><i style="background:linear-gradient(#800000 0.5px,#800000 24.5px,#8a0000 25.5px,#ca0100 26.5px,#fc1500 27.5px,#ffca00 30.5px,#f8f707 31.5px,#78ff87 34.5px,#0cfef3 37.5px,#00ebff 38.5px,#0084ff 42.5px,#0028ff 47.5px,#0001fd 50.5px,#0000b6 58.5px,#000090 66.5px,#00008f 87.5px)"></i><i style="background:linear-gradient(#800000 0.5px,#800000 23.5px,#8d0000 24.5px,#bf0000 25.5px,#ed1600 26.5px,#fe4700 27.5px,#ffbe00 29.5px,#f7eb08 30.5px,#d7fd28 31.5px,#35ffca 35.5px,#14feeb 36.5px,#04eefb 37.5px,#0074ff 42.5px,#001dff 47.5px,#0004fd 49.5px,#0000b1 58.5px,#00008f 66.5px,#00008f 87.5px)"></i><i style="background:linear-gradient(#800000 0.5px,#810000 23.5px,#950000 24.5px,#da0200 25.5px,#fe2300 26.5px,#fed501 29.5px,#f2fc0d 30.5px,#4affb5 34.5px,#08fcf7 36.5px,#00afff 39.5px,#0045ff 44.5px,#000aff 48.5px,#0000f1 50.5px,#0000ae 58.5px,#00008f 65.5px,#00008f 87.5px)"></i><i style="background:linear-gradient(#800000 0.5px,#840000 22.5px,#b40000 23.5px,#e70b00 24.5px,#f83c00 25.5px,#fde202 28.5px,#e0f71f 29.5px,#66ff99 32.5px,#1effe1 34.5px,#07f5f8 35.5px,#0066ff 41.5px,#0013ff 46.5px,#0002f7 48.5px,#0000b3 56.5px,#000090 64.5px,#00008f 87.5px)"></i><i style="background:linear-gradient(#800000 0.5px,#810000 20.5px,#9a0300 22.5px,#fa2300 24.5px,#fe9801 26.5px,#eef311 28.5px,#caff35 29.5px,#4effb1 32.5px,#11f7ee 34.5px,#01e9fe 35.5px,#0083ff 39.5px,#0027ff 44.5px,#0003fb 47.5px,#0000b5 55.5px,#000090 63.5px,#00008f 87.5px)"></i><i style="background:linear-gradient(#800000 0.5px,#800000 19.5px,#8b0000 20.5px,#c90100 21.5px,#fa1300 22.5px,#ffc100 25.5px,#fbf204 26.5px,#d7fe28 27.5px,#5affa5 30.5px,#14feeb 32.5px,#01f2fe 33.5px,#008aff 37.5px,#002cff 42.5px,#0003fe 45.5px,#0000b7 53.5px,#000090 61.5px,#00008f 87.5px)"></i><i style="background:linear-gradient(#800000 0.5px,#830000 17.5px,#a90400 19.5px,#b21800 20.5px,#dc2c00 21.5px,#fd4a00 22.5px,#ff8400 23.5px,#e6d719 25.5px,#d6f729 26.5px,#86ff79 28.5px,#3cfdc3 30.5px,#0debf2 32.5px,#00d9ff 33.5px,#0077ff 37.5px,#001fff 42.5px,#0002f5 45.5px,#0000b2 53.5px,#000090 61.5px,#00008f 87.5px)"></i><i style="background:linear-gradient(#800000 0.5px,#810100 16.5px,#8a0100 17.5px,#c40200 18.5px,#f80f00 19.5px,#fde902 23.5px,#e1fd1e 24.5px,#64ff9b 27.5px,#1efee1 29.5px,#04f8fb 30.5px,#007bff 35.5px,#0022ff 40.5px,#0000f9 43.5px,#0000ba 50.5px,#000090 58.5px,#00008f 87.5px)"></i><i style="background:linear-gradient(#800000 0.5px,#800000 12.5px,#920000 13.5px,#b90000 14.5px,#d30d00 15.5px,#d75500 17.5px,#fd9c00 19.5px,#f1c00e 20.5px,#9ff860 23.5px,#35feca 26.5px,#0accf5 29.5px,#00a2ff 31.5px,#003dff 36.5px,#0011fe 39.5px,#0000d7 44.5px,#0000a0 52.5px,#000090 58.5px,#00008f 87.5px)"></i><i style="background:linear-gradient(#800000 0.5px,#820300 12.5px,#9c0300 13.5px,#d60400 14.5px,#fc1701 15.5px,#fce403 19.5px,#e7fe18 20.5px,#49feb6 24.5px,#09fcf6 26.5px,#00cbff 28.5px,#005aff 33.5px,#000cfe 38.5px,#0000f2 40.5px,#0000af 48.5px,#000090 55.5px,#00008f 87.5px)"></i><i style="background:linear-gradient(#7f0100 0.5px,#880100 2.5px,#bb0101 5.5px,#e70901 7.5px,#ecc601 13.5px,#e2d116 14.5px,#3afec5 20.5px,#22f6dd 21.5px,#007eff 27.5px,#0025ff 32.5px,#000dfb 34.5px,#0000bb 42.5px,#000093 50.5px,#00008f 87.5px)"></i><i style="background:linear-gradient(#7b2d1b 0.5px,#832d1c 2.5px,#b12d21 5.5px,#d73527 7.5px,#d1e52e 13.5px,#bced43 14.5px,#2bded4 19.5px,#01d1fe 21.5px,#0077fd 25.5px,#001df4 31.5px,#0000ec 34.5px,#0000b3 41.5px,#000090 50.5px,#00008f 87.5px)"></i><i style="background:linear-gradient(#68fa95 0.5px,#5bfaa2 3.5px,#29fad6 7.5px,#07faf7 9.5px,#003afe 20.5px,#0005fe 24.5px,#0000b2 33.5px,#000090 40.5px,#00008f 87.5px)"></i><i style="background:linear-gradient(#45a994 0.5px,#35a9a4 4.5px,#02a8d7 9.5px,#001bd9 21.5px,#0000d3 25.5px,#00009e 35.5px,#00008f 42.5px,#00008f 87.5px)"></i><i style="background:linear-gradient(#03068f 0.5px,#00008f 87.5px)"></i><i style="background:linear-gradient(#59a980 0.5px,#4aa98f 4.5px,#00a4d9 11.5px,#002fd9 21.5px,#0001d8 27.5px,#0000a6 38.5px,#00008f 51.5px,#00008f 87.5px)"></i><i style="background:linear-gradient(#86fa77 0.5px,#79fa84 3.5px,#47fab8 7.5px,#04f5fa 11.5px,#0157fe 20.5px,#000bfe 26.5px,#0002f4 28.5px,#0000b7 37.5px,#000090 49.5px,#00008f 87.5px)"></i><i style="background:linear-gradient(#812d15 0.5px,#7f2d18 3.5px,#9d2d1c 5.5px,#cb2d21 7.5px,#da3924 8.5px,#cfec30 14.5px,#11deee 21.5px,#01d5fe 22.5px,#006dff 27.5px,#001ef6 33.5px,#0002f2 36.5px,#0000b6 45.5px,#000090 57.5px,#00008f 87.5px)"></i><i style="background:linear-gradient(#800100 0.5px,#800100 3.5px,#a20100 5.5px,#d50101 7.5px,#e70c01 8.5px,#efcb03 14.5px,#e0d21d 15.5px,#56fca9 20.5px,#20f8df 22.5px,#0086ff 28.5px,#0032ff 33.5px,#000efe 36.5px,#0000c8 44.5px,#000098 55.5px,#00008f 70.5px,#00008f 87.5px)"></i><i style="background:linear-gradient(#800000 0.5px,#810200 12.5px,#880300 13.5px,#ef0600 15.5px,#fd2f01 16.5px,#fcc702 19.5px,#faf205 20.5px,#d9fe26 21.5px,#44febb 25.5px,#08fcf7 27.5px,#00b5ff 30.5px,#0053ff 35.5px,#0004fe 41.5px,#0000b7 51.5px,#00008f 63.5px,#00008f 87.5px)"></i><i style="background:linear-gradient(#800000 0.5px,#840000 13.5px,#ca0200 15.5px,#d44100 17.5px,#f78400 19.5px,#fdae02 20.5px,#ccdd33 22.5px,#98fd67 24.5px,#31fece 27.5px,#09cff6 30.5px,#00a7ff 32.5px,#0048ff 37.5px,#0012ff 41.5px,#0000e0 46.5px,#0000ab 55.5px,#000090 65.5px,#00008f 87.5px)"></i><i style="background:linear-gradient(#800000 0.5px,#820100 17.5px,#a70200 18.5px,#e60300 19.5px,#fd2a00 20.5px,#fecc01 23.5px,#f8f607 24.5px,#81ff7e 27.5px,#1bfee4 30.5px,#03f8fc 31.5px,#0082ff 36.5px,#002fff 41.5px,#0001fd 45.5px,#0000ba 54.5px,#000090 66.5px,#00008f 87.5px)"></i><i style="background:linear-gradient(#800000 0.5px,#800000 17.5px,#a30000 19.5px,#ab0e00 20.5px,#c82100 21.5px,#f33600 22.5px,#ff6600 23.5px,#fd9c02 24.5px,#e2e61d 26.5px,#ccfe33 27.5px,#57ffa8 30.5px,#1ff4e0 32.5px,#0bebf4 33.5px,#00daff 34.5px,#006bff 39.5px,#001fff 44.5px,#0000f2 48.5px,#0000b9 56.5px,#000092 67.5px,#00008f 87.5px)"></i><i style="background:linear-gradient(#800000 0.5px,#810000 20.5px,#ac0100 21.5px,#eb0400 22.5px,#fd3200 23.5px,#fed701 26.5px,#f2fb0d 27.5px,#52ffad 31.5px,#11feee 33.5px,#01f1fe 34.5px,#007cff 39.5px,#002aff 44.5px,#0006ff 47.5px,#0000b8 57.5px,#000091 68.5px,#00008f 87.5px)"></i><i style="background:linear-gradient(#800000 0.5px,#820000 22.5px,#a30100 23.5px,#e60300 24.5px,#fe2d00 25.5px,#fed601 28.5px,#f2fc0d 29.5px,#51ffae 33.5px,#11feee 35.5px,#00f1ff 36.5px,#008fff 40.5px,#0037ff 45.5px,#0005ff 49.5px,#0000b7 59.5px,#000090 70.5px,#00008f 87.5px)"></i><i style="background:linear-gradient(#800000 0.5px,#800000 22.5px,#9c0000 23.5px,#d50100 24.5px,#f32300 25.5px,#ff9000 27.5px,#ffc600 28.5px,#f6f009 29.5px,#abff54 31.5px,#3affc5 34.5px,#1affe5 35.5px,#06f4f9 36.5px,#006eff 42.5px,#0014ff 48.5px,#0000f2 51.5px,#0000b4 60.5px,#000090 71.5px,#00008f 87.5px)"></i><i style="background:linear-gradient(#800000 0.5px,#800000 23.5px,#860000 24.5px,#bd0100 25.5px,#f70c00 26.5px,#ff8000 28.5px,#feea01 30.5px,#e2fe1d 31.5px,#66ff99 34.5px,#06fcf9 37.5px,#0086ff 42.5px,#0031ff 47.5px,#0002fe 51.5px,#0000ba 60.5px,#000090 72.5px,#00008f 87.5px)"></i><i style="background:linear-gradient(#800000 0.5px,#820000 24.5px,#9f0000 25.5px,#d20500 26.5px,#f72400 27.5px,#ff9600 29.5px,#ffcb00 30.5px,#f1f00e 31.5px,#d1ff2e 32.5px,#58ffa7 35.5px,#17fee8 37.5px,#05f2fa 38.5px,#007eff 43.5px,#002bff 48.5px,#0001fa 52.5px,#0000b8 61.5px,#000091 72.5px,#00008f 87.5px)"></i><i style="background:linear-gradient(#800000 0.5px,#810000 25.5px,#ad0000 26.5px,#ee0500 27.5px,#ff3700 28.5px,#fee101 31.5px,#ebfe14 32.5px,#6dff92 35.5px,#09fef6 38.5px,#00cfff 40.5px,#0063ff 45.5px,#000dff 51.5px,#0000f7 53.5px,#0000bb 61.5px,#000090 73.5px,#00008f 87.5px)"></i><i style="background:linear-gradient(#800000 0.5px,#800000 25.5px,#900000 26.5px,#c80200 27.5px,#f71700 28.5px,#ff8b00 30.5px,#ffc200 31.5px,#f8ef07 32.5px,#d9ff26 33.5px,#5effa1 36.5px,#1bffe4 38.5px,#04f7fb 39.5px,#0081ff 44.5px,#002eff 49.5px,#0001fb 53.5px,#0000b9 62.5px,#000091 73.5px,#00008f 87.5px)"></i><i style="background:linear-gradient(#800000 0.5px,#820000 26.5px,#b40000 27.5px,#f30700 28.5px,#ff3d00 29.5px,#fee601 32.5px,#e6fe19 33.5px,#69ff96 36.5px,#07fdf8 39.5px,#00b4ff 42.5px,#0050ff 47.5px,#0002fe 53.5px,#0000bb 62.5px,#000090 74.5px,#00008f 87.5px)"></i><i style="background:linear-gradient(#800000 0.5px,#800000 26.5px,#8e0000 27.5px,#d00000 28.5px,#fd1800 29.5px,#ffc800 32.5px,#faf605 33.5px,#a8ff57 35.5px,#37ffc8 38.5px,#17ffe8 39.5px,#01f6fe 40.5px,#007fff 45.5px,#002cff 50.5px,#0000fb 54.5px,#0000be 62.5px,#000091 74.5px,#00008f 87.5px)"></i><i style="background:linear-gradient(#800000 0.5px,#800000 26.5px,#8b0000 27.5px,#cb0000 28.5px,#fc1500 29.5px,#ffc400 32.5px,#fbf404 33.5px,#d7ff28 34.5px,#5cffa3 37.5px,#19ffe6 39.5px,#02f8fd 40.5px,#0080ff 45.5px,#002dff 50.5px,#0000fc 54.5px,#0000be 62.5px,#000091 74.5px,#00008f 87.5px)"></i><i style="background:linear-gradient(#800000 0.5px,#820000 27.5px,#b60000 28.5px,#f50800 29.5px,#ff4000 30.5px,#ffe900 33.5px,#e4ff1b 34.5px,#67ff98 37.5px,#06fcf9 40.5px,#0086ff 45.5px,#0031ff 50.5px,#0002fe 54.5px,#0000ba 63.5px,#000090 75.5px,#00008f 87.5px)"></i><i style="background:linear-gradient(#800000 0.5px,#810000 27.5px,#b10000 28.5px,#f20700 29.5px,#ff3c00 30.5px,#ffe600 33.5px,#e7ff18 34.5px,#6aff95 37.5px,#07fdf8 40.5px,#00b4ff 43.5px,#0051ff 48.5px,#0002fe 54.5px,#0000bb 63.5px,#000090 75.5px,#00008f 87.5px)"></i><i style="background:linear-gradient(#800000 0.5px,#800000 27.5px,#ad0000 28.5px,#ef0500 29.5px,#ff3800 30.5px,#ffe300 33.5px,#eaff15 34.5px,#6cff93 37.5px,#08fef7 40.5px,#00ceff 42.5px,#0063ff 47.5px,#000dff 53.5px,#0000f7 55.5px,#0000bb 63.5px,#000090 75.5px,#00008f 87.5px)"></i><i style="background:linear-gradient(#800000 0.5px,#810000 27.5px,#b20000 28.5px,#f20700 29.5px,#ff3c00 30.5px,#ffe600 33.5px,#e6ff19 34.5px,#69ff96 37.5px,#07fdf8 40.5px,#00b4ff 43.5px,#0050ff 48.5px,#0002fe 54.5px,#0000bb 63.5px,#000090 75.5px,#00008f 87.5px)"></i><i style="background:linear-gradient(#800000 0.5px,#820000 27.5px,#b60000 28.5px,#f40800 29.5px,#ff3f00 30.5px,#ffe800 33.5px,#e5ff1a 34.5px,#68ff97 37.5px,#06fdf9 40.5px,#0087ff 45.5px,#0031ff 50.5px,#0002fe 54.5px,#0000bb 63.5px,#000090 75.5px,#00008f 87.5px)"></i><i style="background:linear-gradient(#800000 0.5px,#800000 26.5px,#8c0000 27.5px,#ce0000 28.5px,#fd1600 29.5px,#ffc600 32.5px,#fbf504 33.5px,#aaff55 35.5px,#39ffc6 38.5px,#02f7fd 40.5px,#0080ff 45.5px,#002dff 50.5px,#0000fc 54.5px,#0000bf 62.5px,#000091 74.5px,#00008f 87.5px)"></i><i style="background:linear-gradient(#800000 0.5px,#800000 26.5px,#930000 27.5px,#d50100 28.5px,#fd1d00 29.5px,#ffcc00 32.5px,#f7f708 33.5px,#a5ff5a 35.5px,#35ffca 38.5px,#15ffea 39.5px,#01f5fe 40.5px,#007eff 45.5px,#002cff 50.5px,#0000fb 54.5px,#0000be 62.5px,#000091 74.5px,#00008f 87.5px)"></i><i style="background:linear-gradient(#800000 0.5px,#820000 26.5px,#b20000 27.5px,#f20700 28.5px,#ff3c00 29.5px,#fee501 32.5px,#e8fe17 33.5px,#6bff94 36.5px,#08fdf7 39.5px,#00ceff 41.5px,#0063ff 46.5px,#000dff 52.5px,#0000f7 54.5px,#0000bc 62.5px,#000090 74.5px,#00008f 87.5px)"></i><i style="background:linear-gradient(#800000 0.5px,#800000 25.5px,#960000 26.5px,#d00200 27.5px,#f91d00 28.5px,#ffc800 31.5px,#f6f109 32.5px,#d4ff2b 33.5px,#5bffa4 36.5px,#18ffe7 38.5px,#04f5fb 39.5px,#0080ff 44.5px,#002dff 49.5px,#0001fb 53.5px,#0000ba 62.5px,#000090 74.5px,#00008f 87.5px)"></i><i style="background:linear-gradient(#800000 0.5px,#810000 25.5px,#ab0000 26.5px,#ed0400 27.5px,#ff3400 28.5px,#fede01 31.5px,#edfe12 32.5px,#70ff8f 35.5px,#0bfef4 38.5px,#00ecff 39.5px,#008cff 43.5px,#0035ff 48.5px,#0004ff 52.5px,#0000b7 62.5px,#00008f 74.5px,#00008f 87.5px)"></i><i style="background:linear-gradient(#800000 0.5px,#820000 24.5px,#a60000 25.5px,#dc0600 26.5px,#f92c00 27.5px,#ffd200 30.5px,#eef411 31.5px,#cbff34 32.5px,#54ffab 35.5px,#13feec 37.5px,#04f0fb 38.5px,#007dff 43.5px,#002bff 48.5px,#0001fa 52.5px,#0000b9 61.5px,#000090 73.5px,#00008f 87.5px)"></i><i style="background:linear-gradient(#800000 0.5px,#850000 24.5px,#f50a00 26.5px,#ff7d00 28.5px,#fee701 30.5px,#e5fe1a 31.5px,#69ff96 34.5px,#08fdf7 37.5px,#00b5ff 40.5px,#0052ff 45.5px,#0003fe 51.5px,#0000bc 60.5px,#000091 72.5px,#00008f 87.5px)"></i><i style="background:linear-gradient(#800000 0.5px,#800000 22.5px,#9d0000 23.5px,#e10100 24.5px,#fd2600 25.5px,#ffd000 28.5px,#f7f908 29.5px,#57ffa8 33.5px,#15ffea 35.5px,#01f5fe 36.5px,#007fff 41.5px,#002dff 46.5px,#0001fc 50.5px,#0000c0 58.5px,#000092 70.5px,#00008f 87.5px)"></i><i style="background:linear-gradient(#800000 0.5px,#800000 20.5px,#930000 22.5px,#af0800 23.5px,#e81300 24.5px,#ff3c00 25.5px,#fdad02 27.5px,#f6d909 28.5px,#e8fb17 29.5px,#4bffb4 33.5px,#11f8ee 35.5px,#01ecfe 36.5px,#0078ff 41.5px,#0028ff 46.5px,#0000f9 50.5px,#0000be 58.5px,#000092 70.5px,#00008f 87.5px)"></i><i style="background:linear-gradient(#800000 0.5px,#810000 20.5px,#a70100 21.5px,#e80300 22.5px,#fd2d00 23.5px,#fed301 26.5px,#f5fa0a 27.5px,#56ffa9 31.5px,#15feea 33.5px,#01f5fe 34.5px,#0080ff 39.5px,#002eff 44.5px,#0001fd 48.5px,#0000bb 57.5px,#000090 69.5px,#00008f 87.5px)"></i><i style="background:linear-gradient(#800000 0.5px,#800000 17.5px,#900000 18.5px,#b00000 19.5px,#bf1100 20.5px,#d32e00 21.5px,#f44b00 22.5px,#ff7a00 23.5px,#fdae02 24.5px,#d7e928 26.5px,#befd41 27.5px,#4dffb2 30.5px,#2dfdd2 31.5px,#0ae5f5 33.5px,#00bcff 35.5px,#0057ff 40.5px,#0012ff 45.5px,#0000e9 49.5px,#0000b0 58.5px,#000090 69.5px,#00008f 87.5px)"></i><i style="background:linear-gradient(#800000 0.5px,#820100 17.5px,#a20200 18.5px,#e10300 19.5px,#fd2400 20.5px,#fdc602 23.5px,#faf305 24.5px,#d7fe28 25.5px,#62ff9d 28.5px,#05fbfa 31.5px,#0074ff 37.5px,#0026ff 42.5px,#0004fe 45.5px,#0000b8 55.5px,#000090 67.5px,#00008f 87.5px)"></i><i style="background:linear-gradient(#800000 0.5px,#830000 13.5px,#d70100 15.5px,#e81f00 16.5px,#ee7600 18.5px,#feca01 20.5px,#e8e217 21.5px,#87fd78 24.5px,#23ffdc 27.5px,#12f2ed 28.5px,#009fff 32.5px,#0045ff 37.5px,#0007fd 42.5px,#0000b5 53.5px,#000090 65.5px,#00008f 87.5px)"></i><i style="background:linear-gradient(#800000 0.5px,#850300 13.5px,#b20400 14.5px,#ea0500 15.5px,#fd2901 16.5px,#fcc103 19.5px,#fbee04 20.5px,#e0fe1f 21.5px,#4afeb5 25.5px,#0dfdf2 27.5px,#00edff 28.5px,#007cff 33.5px,#002cff 38.5px,#0001fc 42.5px,#0000bb 51.5px,#000091 63.5px,#00008f 87.5px)"></i><i style="background:linear-gradient(#800101 0.5px,#800101 3.5px,#880101 4.5px,#de0201 7.5px,#f90901 8.5px,#fbed02 14.5px,#e4fa1b 15.5px,#3dfec2 20.5px,#07faf8 22.5px,#0079ff 28.5px,#001fff 34.5px,#0001fc 37.5px,#0000bc 46.5px,#000090 59.5px,#00008f 87.5px)"></i><i style="background:linear-gradient(#855625 0.5px,#83562d 4.5px,#bb5c42 8.5px,#a9bc56 12.5px,#a8e357 14.5px,#7fdf80 16.5px,#13c3ec 21.5px,#03bcfc 22.5px,#0050fe 28.5px,#000cec 35.5px,#0000df 38.5px,#0000a9 48.5px,#00008f 60.5px,#00008f 87.5px)"></i><i style="background:linear-gradient(#8ffa6e 0.5px,#82fa7b 3.5px,#4ffaaf 7.5px,#07faf7 11.5px,#0051fe 21.5px,#0008fe 27.5px,#0001e2 31.5px,#0000ac 41.5px,#000090 53.5px,#00008f 87.5px)"></i><i style="background:linear-gradient(#48807f 0.5px,#368091 5.5px,#027fc5 11.5px,#001ac7 23.5px,#0000c6 28.5px,#00009c 42.5px,#00008f 58.5px,#00008f 87.5px)"></i><i style="background:linear-gradient(#02068f 0.5px,#00008f 87.5px)"></i><i style="background:linear-gradient(#4cd29f 0.5px,#39d2b2 4.5px,#08d2e3 8.5px,#00bbeb 10.5px,#0032eb 19.5px,#0004eb 23.5px,#0000a4 33.5px,#00008f 39.5px,#00008f 87.5px)"></i><i style="background:linear-gradient(#5dfa9f 0.5px,#51faad 3.5px,#1ffae0 7.5px,#04f3fa 9.5px,#0140fe 19.5px,#0007fe 23.5px,#0000b0 32.5px,#000091 38.5px,#00008f 87.5px)"></i><i style="background:linear-gradient(#8a0403 0.5px,#960403 2.5px,#b90403 4.5px,#ee0503 6.5px,#fa1804 7.5px,#f6f609 13.5px,#28fcd7 19.5px,#0bfbf4 20.5px,#01ccfe 22.5px,#005cfe 27.5px,#000cfe 32.5px,#0000f0 34.5px,#0000b1 41.5px,#000090 48.5px,#00008f 87.5px)"></i><i style="background:linear-gradient(#870000 0.5px,#990000 3.5px,#cb0000 6.5px,#d40e00 7.5px,#d48d00 12.5px,#dea503 13.5px,#dca919 14.5px,#b4c64b 16.5px,#70fa8f 19.5px,#52fead 20.5px,#2edfd1 22.5px,#019ffe 26.5px,#003aff 31.5px,#001cfd 33.5px,#0000d2 39.5px,#00009a 47.5px,#00008f 58.5px,#00008f 87.5px)"></i><i style="background:linear-gradient(#800000 0.5px,#820200 12.5px,#a80300 13.5px,#e20300 14.5px,#fd2101 15.5px,#fdbf02 18.5px,#fbee04 19.5px,#dcfd23 20.5px,#3efec1 24.5px,#03f7fc 26.5px,#0078ff 31.5px,#001eff 36.5px,#0003fe 38.5px,#0000b4 46.5px,#000090 53.5px,#00008f 87.5px)"></i><i style="background:linear-gradient(#800000 0.5px,#800000 12.5px,#940000 13.5px,#b10000 14.5px,#bf1000 15.5px,#c84600 17.5px,#e86000 18.5px,#fd8301 19.5px,#d9c626 21.5px,#aff950 23.5px,#41fcbe 26.5px,#09d3f6 29.5px,#00a6ff 31.5px,#003dff 36.5px,#0014fa 39.5px,#0000de 43.5px,#0000a1 51.5px,#00008f 58.5px,#00008f 87.5px)"></i><i style="background:linear-gradient(#800000 0.5px,#810100 16.5px,#920100 17.5px,#d10200 18.5px,#fc1800 19.5px,#fec201 22.5px,#faf205 23.5px,#d6fd29 24.5px,#59ffa6 27.5px,#13feec 29.5px,#01f0fe 30.5px,#0087ff 34.5px,#0028ff 39.5px,#0001fb 42.5px,#0000b9 49.5px,#000090 57.5px,#00008f 87.5px)"></i><i style="background:linear-gradient(#800000 0.5px,#830000 17.5px,#960400 19.5px,#a60f00 20.5px,#de1900 21.5px,#fe3b00 22.5px,#f8aa07 24.5px,#f0d80f 25.5px,#e1fb1e 26.5px,#62ff9d 29.5px,#07f1f8 32.5px,#00a4ff 35.5px,#003bff 40.5px,#0005fa 44.5px,#0000ad 53.5px,#00008f 60.5px,#00008f 87.5px)"></i><i style="background:linear-gradient(#800000 0.5px,#800000 19.5px,#930000 20.5px,#d60100 21.5px,#fc1d00 22.5px,#ffce00 25.5px,#f6f909 26.5px,#4effb1 30.5px,#0afdf5 32.5px,#00caff 34.5px,#006aff 38.5px,#0014ff 43.5px,#0000f8 45.5px,#0000b7 52.5px,#000090 60.5px,#00008f 87.5px)"></i><i style="background:linear-gradient(#800000 0.5px,#810000 21.5px,#8d0000 22.5px,#ce0200 23.5px,#fc1900 24.5px,#fecc01 27.5px,#f6f809 28.5px,#4dffb2 32.5px,#09fdf6 34.5px,#00c9ff 36.5px,#0069ff 40.5px,#0013ff 45.5px,#0000f8 47.5px,#0000b6 54.5px,#00008f 62.5px,#00008f 87.5px)"></i><i style="background:linear-gradient(#800000 0.5px,#800000 21.5px,#870000 22.5px,#b30000 23.5px,#dd0f00 24.5px,#f73a00 25.5px,#ffac00 27.5px,#fadf05 28.5px,#def521 29.5px,#8cff73 31.5px,#1bfee4 34.5px,#01d9fe 36.5px,#0075ff 40.5px,#001bff 45.5px,#0004fa 47.5px,#0000ad 56.5px,#000090 63.5px,#00008f 87.5px)"></i><i style="background:linear-gradient(#800000 0.5px,#810000 23.5px,#a10000 24.5px,#e70300 25.5px,#fe3100 26.5px,#fee201 29.5px,#e7fe18 30.5px,#63ff9c 33.5px,#1affe5 35.5px,#02f6fd 36.5px,#008bff 40.5px,#002aff 45.5px,#0002fd 48.5px,#0000b3 56.5px,#000090 63.5px,#00008f 87.5px)"></i><i style="background:linear-gradient(#800000 0.5px,#800000 23.5px,#900000 24.5px,#bd0100 25.5px,#ec1800 26.5px,#ff4900 27.5px,#ffc100 29.5px,#f3eb0c 30.5px,#d4fe2b 31.5px,#53ffac 34.5px,#11fbee 36.5px,#02eafd 37.5px,#0082ff 41.5px,#0024ff 46.5px,#0001f8 49.5px,#0000b1 57.5px,#000090 64.5px,#00008f 87.5px)"></i><i style="background:linear-gradient(#800000 0.5px,#800000 24.5px,#930000 25.5px,#d90100 26.5px,#fe2300 27.5px,#ffd800 30.5px,#effd10 31.5px,#6aff95 34.5px,#20ffdf 36.5px,#04fafb 37.5px,#0078ff 42.5px,#001eff 47.5px,#0003fe 49.5px,#0000b5 57.5px,#000090 64.5px,#00008f 87.5px)"></i><i style="background:linear-gradient(#800000 0.5px,#830000 25.5px,#a40000 26.5px,#e60700 27.5px,#ff3400 28.5px,#ffb000 30.5px,#fce503 31.5px,#e3fe1c 32.5px,#5fffa0 35.5px,#17fee8 37.5px,#02f3fd 38.5px,#0088ff 42.5px,#0028ff 47.5px,#0001fc 50.5px,#0000ba 57.5px,#000090 65.5px,#00008f 87.5px)"></i><i style="background:linear-gradient(#800000 0.5px,#800000 25.5px,#950000 26.5px,#da0100 27.5px,#fd2500 28.5px,#ffda00 31.5px,#edfc12 32.5px,#69ff96 35.5px,#1effe1 37.5px,#04f8fb 38.5px,#0077ff 43.5px,#001dff 48.5px,#0003fe 50.5px,#0000b4 58.5px,#000090 65.5px,#00008f 87.5px)"></i><i style="background:linear-gradient(#800000 0.5px,#820000 26.5px,#b60000 27.5px,#f50a00 28.5px,#ff8400 30.5px,#fcf203 32.5px,#d6ff29 33.5px,#54ffab 36.5px,#0dfef2 38.5px,#00ebff 39.5px,#0082ff 43.5px,#0024ff 48.5px,#0000f9 51.5px,#0000b8 58.5px,#00008f 66.5px,#00008f 87.5px)"></i><i style="background:linear-gradient(#800000 0.5px,#810000 26.5px,#ad0000 27.5px,#f00700 28.5px,#ff3d00 29.5px,#ffb800 31.5px,#fded02 32.5px,#dcff23 33.5px,#59ffa6 36.5px,#11ffee 38.5px,#00efff 39.5px,#0084ff 43.5px,#0026ff 48.5px,#0000fb 51.5px,#0000b8 58.5px,#000090 66.5px,#00008f 87.5px)"></i><i style="background:linear-gradient(#800000 0.5px,#800000 26.5px,#9c0000 27.5px,#e40200 28.5px,#ff2e00 29.5px,#ffe300 32.5px,#e6ff19 33.5px,#61ff9e 36.5px,#18ffe7 38.5px,#01f5fe 39.5px,#0089ff 43.5px,#0029ff 48.5px,#0001fd 51.5px,#0000ba 58.5px,#000090 66.5px,#00008f 87.5px)"></i><i style="background:linear-gradient(#800000 0.5px,#800000 26.5px,#970000 27.5px,#e00100 28.5px,#ff2900 29.5px,#ffdf00 32.5px,#eafe15 33.5px,#64ff9b 36.5px,#1affe5 38.5px,#02f6fd 39.5px,#008bff 43.5px,#002aff 48.5px,#0001fd 51.5px,#0000ba 58.5px,#000090 66.5px,#00008f 87.5px)"></i><i style="background:linear-gradient(#800000 0.5px,#800000 26.5px,#950000 27.5px,#de0100 28.5px,#fe2700 29.5px,#ffde00 32.5px,#ebfe14 33.5px,#65ff9a 36.5px,#1bffe4 38.5px,#02f7fd 39.5px,#008bff 43.5px,#002aff 48.5px,#0002fd 51.5px,#0000bb 58.5px,#000090 66.5px,#00008f 87.5px)"></i><i style="background:linear-gradient(#800000 0.5px,#800000 26.5px,#9c0000 27.5px,#e40200 28.5px,#ff2e00 29.5px,#ffe300 32.5px,#e6fe19 33.5px,#61ff9e 36.5px,#17ffe8 38.5px,#01f4fe 39.5px,#0089ff 43.5px,#0028ff 48.5px,#0001fc 51.5px,#0000ba 58.5px,#000090 66.5px,#00008f 87.5px)"></i><i style="background:linear-gradient(#800000 0.5px,#800000 26.5px,#a20000 27.5px,#e90400 28.5px,#ff3400 29.5px,#ffb100 31.5px,#fee701 32.5px,#e2ff1d 33.5px,#5dffa2 36.5px,#14ffeb 38.5px,#01f2fe 39.5px,#0087ff 43.5px,#0027ff 48.5px,#0001fb 51.5px,#0000b9 58.5px,#000090 66.5px,#00008f 87.5px)"></i><i style="background:linear-gradient(#800000 0.5px,#820000 26.5px,#b90000 27.5px,#f70c00 28.5px,#ff8800 30.5px,#fbf404 32.5px,#d3ff2c 33.5px,#51ffae 36.5px,#0bfef4 38.5px,#00e9ff 39.5px,#007fff 43.5px,#0022ff 48.5px,#0006ff 50.5px,#0000b0 59.5px,#00008f 66.5px,#00008f 87.5px)"></i><i style="background:linear-gradient(#800000 0.5px,#800000 25.5px,#8c0000 26.5px,#c80100 27.5px,#fa1800 28.5px,#ffce00 31.5px,#f3f80c 32.5px,#70ff8f 35.5px,#25ffda 37.5px,#07faf8 38.5px,#00abff 41.5px,#003fff 46.5px,#0004fe 50.5px,#0000b5 58.5px,#000090 65.5px,#00008f 87.5px)"></i><i style="background:linear-gradient(#800000 0.5px,#800000 25.5px,#9e0000 26.5px,#e60200 27.5px,#ff3000 28.5px,#fee401 31.5px,#e5fe1a 32.5px,#60ff9f 35.5px,#16ffe9 37.5px,#01f3fe 38.5px,#0088ff 42.5px,#0027ff 47.5px,#0001fb 50.5px,#0000b9 57.5px,#000090 65.5px,#00008f 87.5px)"></i><i style="background:linear-gradient(#800000 0.5px,#800000 24.5px,#900000 25.5px,#ca0100 26.5px,#f61c00 27.5px,#ff9500 29.5px,#ffce00 30.5px,#f1f60e 31.5px,#9bff64 33.5px,#24ffdb 36.5px,#08f9f7 37.5px,#00c5ff 39.5px,#0065ff 43.5px,#0010ff 48.5px,#0000f4 50.5px,#0000b4 57.5px,#000090 64.5px,#00008f 87.5px)"></i><i style="background:linear-gradient(#800000 0.5px,#800000 24.5px,#990000 25.5px,#e10200 26.5px,#fe2b00 27.5px,#fee001 30.5px,#e9fe16 31.5px,#63ff9c 34.5px,#19ffe6 36.5px,#01f6fe 37.5px,#0089ff 41.5px,#0028ff 46.5px,#0001fc 49.5px,#0000b9 56.5px,#000090 64.5px,#00008f 87.5px)"></i><i style="background:linear-gradient(#800000 0.5px,#800000 23.5px,#a30000 24.5px,#df0400 25.5px,#f93000 26.5px,#fedf01 29.5px,#e4f91b 30.5px,#3dffc2 34.5px,#1affe5 35.5px,#05f2fa 36.5px,#0073ff 41.5px,#0019ff 46.5px,#0002fa 48.5px,#0000b2 56.5px,#000090 63.5px,#00008f 87.5px)"></i><i style="background:linear-gradient(#800000 0.5px,#830000 22.5px,#900000 23.5px,#b90600 24.5px,#f11500 25.5px,#ff4b00 26.5px,#fcc103 28.5px,#f3ee0c 29.5px,#d2ff2d 30.5px,#50ffaf 33.5px,#0ff9f0 35.5px,#00e8ff 36.5px,#007eff 40.5px,#0020ff 45.5px,#0000f6 48.5px,#0000b5 55.5px,#000091 62.5px,#00008f 87.5px)"></i><i style="background:linear-gradient(#800000 0.5px,#800000 21.5px,#940000 22.5px,#d80100 23.5px,#fd2200 24.5px,#fed601 27.5px,#f0fc0f 28.5px,#6bff94 31.5px,#20ffdf 33.5px,#04f9fb 34.5px,#0077ff 39.5px,#001bff 44.5px,#0002fd 46.5px,#0000b9 53.5px,#000090 61.5px,#00008f 87.5px)"></i><i style="background:linear-gradient(#800000 0.5px,#800000 19.5px,#8a0000 20.5px,#a20100 21.5px,#b80f00 22.5px,#e62500 23.5px,#ff4f00 24.5px,#ff8c00 25.5px,#f9bf06 26.5px,#e8e517 27.5px,#d0fe2f 28.5px,#50ffaf 31.5px,#15f3ea 33.5px,#02e5fd 34.5px,#0068ff 39.5px,#0012fe 44.5px,#0001f5 46.5px,#0000b4 53.5px,#000091 60.5px,#00008f 87.5px)"></i><i style="background:linear-gradient(#800000 0.5px,#810000 19.5px,#a00100 20.5px,#e40300 21.5px,#fd2d00 22.5px,#fedc01 25.5px,#ebfd14 26.5px,#67ff98 29.5px,#1dfee2 31.5px,#03f7fc 32.5px,#0074ff 37.5px,#0019ff 42.5px,#0001fb 44.5px,#0000b7 51.5px,#000091 58.5px,#00008f 87.5px)"></i><i style="background:linear-gradient(#800000 0.5px,#800000 16.5px,#950000 17.5px,#c10100 18.5px,#d41a00 19.5px,#df4200 20.5px,#f66900 21.5px,#ff9b00 22.5px,#f7cb08 23.5px,#bcf443 25.5px,#9aff65 26.5px,#27fdd8 29.5px,#01c4fe 32.5px,#0050ff 37.5px,#000ffe 41.5px,#0000dc 45.5px,#00009f 53.5px,#00008f 59.5px,#00008f 87.5px)"></i><i style="background:linear-gradient(#800000 0.5px,#820100 16.5px,#a10200 17.5px,#e30400 18.5px,#fe2900 19.5px,#fdd402 22.5px,#f1fb0e 23.5px,#48feb7 27.5px,#06fbf9 29.5px,#0079ff 34.5px,#001cff 39.5px,#0002fd 41.5px,#0000b8 48.5px,#000090 55.5px,#00008f 87.5px)"></i><i style="background:linear-gradient(#800000 0.5px,#800100 11.5px,#870100 12.5px,#df0500 14.5px,#ee8500 17.5px,#f9af01 18.5px,#f6d609 19.5px,#6cfe93 23.5px,#24fedb 25.5px,#0dd4f2 27.5px,#0090ff 30.5px,#002bff 35.5px,#000dfe 37.5px,#0000c7 43.5px,#000094 51.5px,#00008f 87.5px)"></i><i style="background:linear-gradient(#860000 0.5px,#960200 6.5px,#962300 11.5px,#9d2a00 12.5px,#ea320b 14.5px,#e68618 16.5px,#dadc25 18.5px,#ccfb33 19.5px,#42eebd 23.5px,#09e5f6 25.5px,#00b4ff 27.5px,#0058ff 31.5px,#000df6 36.5px,#0000ea 38.5px,#0000ab 45.5px,#00008f 52.5px,#00008f 87.5px)"></i><i style="background:linear-gradient(#a40101 0.5px,#b00101 2.5px,#ec0201 5.5px,#fc0f01 6.5px,#fc9d01 10.5px,#fcea02 12.5px,#e6fb18 13.5px,#34fdcb 18.5px,#14feeb 19.5px,#03f0fc 20.5px,#0073ff 25.5px,#0017ff 30.5px,#0001f8 32.5px,#0000b3 39.5px,#000090 45.5px,#00008f 87.5px)"></i><i style="background:linear-gradient(#825641 0.5px,#905645 3.5px,#a7574d 5.5px,#ad5f52 6.5px,#a8d457 12.5px,#99d866 13.5px,#0bb5f4 19.5px,#00a7ff 20.5px,#006af9 23.5px,#0019e4 29.5px,#0000d9 32.5px,#0000ac 38.5px,#00008f 46.5px,#00008f 87.5px)"></i><i style="background:linear-gradient(#40f9bd 0.5px,#33f9ca 3.5px,#04f7fa 7.5px,#0026fe 19.5px,#0009fe 21.5px,#0001d5 25.5px,#000097 33.5px,#000090 43.5px,#00008f 87.5px)"></i><i style="background:linear-gradient(#1656ac 0.5px,#0050c1 8.5px,#0002bd 21.5px,#000090 35.5px,#00008f 87.5px)"></i><i style="background:linear-gradient(#0306a1 0.5px,#000096 30.5px,#00008f 83.5px,#00008f 87.5px)"></i><i style="background:linear-gradient(#b1fa4d 0.5px,#a3fa5a 3.5px,#6ffa8e 7.5px,#02f6fc 13.5px,#006bfd 21.5px,#0016fd 28.5px,#0000f8 31.5px,#0000bc 41.5px,#000091 56.5px,#00008f 87.5px)"></i><i style="background:linear-gradient(#aad23e 0.5px,#97d251 4.5px,#6bd393 9.5px,#2eebd1 13.5px,#28ccd7 16.5px,#0061ff 24.5px,#0017ff 30.5px,#0000ca 40.5px,#00009a 53.5px,#00008f 66.5px,#00008f 87.5px)"></i><i style="background:linear-gradient(#800301 0.5px,#820302 5.5px,#b90302 7.5px,#f90c02 9.5px,#f9f205 15.5px,#bcfc43 17.5px,#21fdde 22.5px,#08fbf7 23.5px,#0093ff 28.5px,#0035ff 34.5px,#0001fc 39.5px,#0000bb 49.5px,#000091 62.5px,#00008f 87.5px)"></i><i style="background:linear-gradient(#800000 0.5px,#800000 5.5px,#be0400 9.5px,#bf5400 13.5px,#c76800 14.5px,#e17a01 15.5px,#ed830e 16.5px,#9cfa63 21.5px,#5dfea2 23.5px,#15d3ea 27.5px,#00b9ff 29.5px,#005cff 34.5px,#001bfe 39.5px,#0000e9 44.5px,#0000af 54.5px,#000091 65.5px,#00008f 87.5px)"></i><i style="background:linear-gradient(#800000 0.5px,#810100 13.5px,#8f0200 14.5px,#f60900 16.5px,#fd9c01 19.5px,#faf405 21.5px,#b3fe4c 23.5px,#2cfed3 27.5px,#0ffef0 28.5px,#01f1fe 29.5px,#0083ff 34.5px,#0028ff 40.5px,#0001fb 44.5px,#0000bd 53.5px,#000090 66.5px,#00008f 87.5px)"></i><i style="background:linear-gradient(#800000 0.5px,#850000 14.5px,#a80300 16.5px,#af2400 18.5px,#f84900 20.5px,#fe7801 21.5px,#d9e326 24.5px,#c7fc38 25.5px,#5affa5 28.5px,#14eaeb 31.5px,#03e1fc 32.5px,#0067ff 38.5px,#0015fe 44.5px,#0000ec 48.5px,#0000b4 57.5px,#00008f 69.5px,#00008f 87.5px)"></i><i style="background:linear-gradient(#800000 0.5px,#800000 17.5px,#860100 18.5px,#f30700 20.5px,#fe6e00 22.5px,#fed201 24.5px,#f6f909 25.5px,#5fffa0 29.5px,#06fcf9 32.5px,#007aff 38.5px,#0021ff 44.5px,#0002fd 47.5px,#0000bd 56.5px,#000091 68.5px,#00008f 87.5px)"></i><i style="background:linear-gradient(#800000 0.5px,#820000 20.5px,#8b0100 21.5px,#c50200 22.5px,#f90e00 23.5px,#feb101 26.5px,#fde202 27.5px,#ebfe14 28.5px,#74ff8b 31.5px,#13feec 34.5px,#01f4fe 35.5px,#0083ff 40.5px,#0025ff 46.5px,#0004ff 49.5px,#0000b9 59.5px,#00008f 71.5px,#00008f 87.5px)"></i><i style="background:linear-gradient(#800000 0.5px,#800000 20.5px,#870000 21.5px,#e50a00 23.5px,#fd6700 25.5px,#ffcf00 27.5px,#f0f00f 28.5px,#83ff7c 31.5px,#1fffe0 34.5px,#09f7f6 35.5px,#009fff 39.5px,#0046ff 44.5px,#0008ff 49.5px,#0000cc 56.5px,#00009a 67.5px,#00008f 75.5px,#00008f 87.5px)"></i><i style="background:linear-gradient(#800000 0.5px,#810000 22.5px,#860000 23.5px,#f50a00 25.5px,#ff7800 27.5px,#fedf01 29.5px,#edfd12 30.5px,#52ffad 34.5px,#13feec 36.5px,#01f4fe 37.5px,#0082ff 42.5px,#0024ff 48.5px,#0003fe 51.5px,#0000b7 61.5px,#000090 72.5px,#00008f 87.5px)"></i><i style="background:linear-gradient(#800000 0.5px,#820000 23.5px,#9e0000 24.5px,#c40400 25.5px,#ea1f00 26.5px,#ff4800 27.5px,#ffb700 29.5px,#f7e108 30.5px,#e0f91f 31.5px,#4bffb4 35.5px,#12faed 37.5px,#03ecfc 38.5px,#007eff 43.5px,#0021ff 49.5px,#0003fb 52.5px,#0000b6 62.5px,#000090 73.5px,#00008f 87.5px)"></i><i style="background:linear-gradient(#800000 0.5px,#800000 24.5px,#940000 25.5px,#d50100 26.5px,#fd1a00 27.5px,#ffc300 30.5px,#fcf203 31.5px,#dbff24 32.5px,#65ff9a 35.5px,#07fdf8 38.5px,#00b7ff 41.5px,#0056ff 46.5px,#0007ff 52.5px,#0000e0 56.5px,#0000a6 66.5px,#00008f 74.5px,#00008f 87.5px)"></i><i style="background:linear-gradient(#800000 0.5px,#800000 24.5px,#860000 25.5px,#a30000 26.5px,#da0900 27.5px,#fc2700 28.5px,#fecd01 31.5px,#f3f20c 32.5px,#d3ff2c 33.5px,#5dffa2 36.5px,#1dfee2 38.5px,#07f7f8 39.5px,#00b1ff 42.5px,#0052ff 47.5px,#0005fe 53.5px,#0000b7 63.5px,#00008f 74.5px,#00008f 87.5px)"></i><i style="background:linear-gradient(#800000 0.5px,#800000 25.5px,#8a0000 26.5px,#c60000 27.5px,#fa0f00 28.5px,#ffb900 31.5px,#feea01 32.5px,#e4fe1b 33.5px,#6bff94 36.5px,#0bfef4 39.5px,#00ecff 40.5px,#007bff 45.5px,#001eff 51.5px,#0000fc 54.5px,#0000b9 63.5px,#000090 74.5px,#00008f 87.5px)"></i><i style="background:linear-gradient(#800000 0.5px,#800000 26.5px,#8e0000 27.5px,#ce0100 28.5px,#fd1500 29.5px,#ffc000 32.5px,#fdf002 33.5px,#deff21 34.5px,#66ff99 37.5px,#07fdf8 40.5px,#00b6ff 43.5px,#0054ff 48.5px,#0005ff 54.5px,#0000b7 64.5px,#00008f 75.5px,#00008f 87.5px)"></i><i style="background:linear-gradient(#800000 0.5px,#800000 26.5px,#8b0000 27.5px,#c60000 28.5px,#f91100 29.5px,#ffb900 32.5px,#feea01 33.5px,#e3fe1c 34.5px,#6aff95 37.5px,#0afef5 40.5px,#00d1ff 42.5px,#0067ff 47.5px,#0011ff 53.5px,#0000fa 55.5px,#0000bd 63.5px,#000090 74.5px,#00008f 87.5px)"></i><i style="background:linear-gradient(#800000 0.5px,#800000 27.5px,#a20000 28.5px,#e60200 29.5px,#ff2a00 30.5px,#ffd300 33.5px,#f6fb09 34.5px,#58ffa7 38.5px,#17ffe8 40.5px,#01f7fe 41.5px,#0083ff 46.5px,#0030ff 51.5px,#0001fd 55.5px,#0000b9 64.5px,#00008f 75.5px,#00008f 87.5px)"></i><i style="background:linear-gradient(#800000 0.5px,#800000 27.5px,#970000 28.5px,#da0100 29.5px,#fe1f00 30.5px,#ffc900 33.5px,#faf505 34.5px,#abff54 36.5px,#3cffc3 39.5px,#04fafb 41.5px,#0086ff 46.5px,#0032ff 51.5px,#0002fe 55.5px,#0000ba 64.5px,#00008f 75.5px,#00008f 87.5px)"></i><i style="background:linear-gradient(#800000 0.5px,#800000 27.5px,#8d0000 28.5px,#cd0000 29.5px,#fd1400 30.5px,#ffc000 33.5px,#fdf002 34.5px,#ddff22 35.5px,#65ff9a 38.5px,#06fdf9 41.5px,#0089ff 46.5px,#0034ff 51.5px,#0003ff 55.5px,#0000b5 65.5px,#00008f 75.5px,#00008f 87.5px)"></i><i style="background:linear-gradient(#800000 0.5px,#800000 27.5px,#890000 28.5px,#c70000 29.5px,#fb1000 30.5px,#ffbb00 33.5px,#feec01 34.5px,#e2ff1d 35.5px,#68ff97 38.5px,#08fef7 41.5px,#00cfff 43.5px,#0065ff 48.5px,#000fff 54.5px,#0000f8 56.5px,#0000ba 64.5px,#000091 74.5px,#00008f 87.5px)"></i><i style="background:linear-gradient(#800000 0.5px,#800000 27.5px,#870000 28.5px,#c30000 29.5px,#fa0e00 30.5px,#ffb900 33.5px,#ffeb00 34.5px,#e4ff1b 35.5px,#6aff95 38.5px,#09fef6 41.5px,#00d0ff 43.5px,#0066ff 48.5px,#000fff 54.5px,#0000f8 56.5px,#0000ba 64.5px,#000090 74.5px,#00008f 87.5px)"></i><i style="background:linear-gradient(#800000 0.5px,#800000 27.5px,#8a0000 28.5px,#c90000 29.5px,#fc1100 30.5px,#ffbd00 33.5px,#feee01 34.5px,#e0ff1f 35.5px,#67ff98 38.5px,#07fdf8 41.5px,#00b6ff 44.5px,#0053ff 49.5px,#0003fe 55.5px,#0000b9 64.5px,#000090 74.5px,#00008f 87.5px)"></i><i style="background:linear-gradient(#800000 0.5px,#800000 27.5px,#900000 28.5px,#d00000 29.5px,#fd1700 30.5px,#ffc200 33.5px,#fcf103 34.5px,#dbff24 35.5px,#63ff9c 38.5px,#06fcf9 41.5px,#0074ff 47.5px,#0018ff 53.5px,#0002fe 55.5px,#0000b8 64.5px,#000090 74.5px,#00008f 87.5px)"></i><i style="background:linear-gradient(#800000 0.5px,#800000 27.5px,#9a0000 28.5px,#df0100 29.5px,#fe2300 30.5px,#ffcd00 33.5px,#f9f806 34.5px,#81ff7e 37.5px,#1affe5 40.5px,#02f9fd 41.5px,#0084ff 46.5px,#002fff 51.5px,#0001fd 55.5px,#0000bc 63.5px,#000091 73.5px,#00008f 87.5px)"></i><i style="background:linear-gradient(#800000 0.5px,#830000 27.5px,#ad0000 28.5px,#ec0600 29.5px,#ff3300 30.5px,#ffda00 33.5px,#f0fb0f 34.5px,#53ffac 38.5px,#12ffed 40.5px,#01f3fe 41.5px,#007eff 46.5px,#002cff 51.5px,#0000fa 55.5px,#0000bb 63.5px,#000090 73.5px,#00008f 87.5px)"></i><i style="background:linear-gradient(#800000 0.5px,#800000 26.5px,#870000 27.5px,#c10000 28.5px,#f90c00 29.5px,#ffb600 32.5px,#fee801 33.5px,#e6ff19 34.5px,#6cff93 37.5px,#0bfef4 40.5px,#00ecff 41.5px,#0079ff 46.5px,#001bff 52.5px,#0003ff 54.5px,#0000b9 63.5px,#00008f 73.5px,#00008f 87.5px)"></i><i style="background:linear-gradient(#800000 0.5px,#820000 26.5px,#ac0000 27.5px,#ea0500 28.5px,#fe3100 29.5px,#ffd700 32.5px,#f2fa0d 33.5px,#56ffa9 37.5px,#15ffea 39.5px,#02f4fd 40.5px,#0080ff 45.5px,#002dff 50.5px,#0001fa 54.5px,#0000ba 62.5px,#000090 72.5px,#00008f 87.5px)"></i><i style="background:linear-gradient(#800000 0.5px,#830000 26.5px,#b50000 27.5px,#f30700 28.5px,#ff3a00 29.5px,#fede01 32.5px,#eefe11 33.5px,#74ff8b 36.5px,#10ffef 39.5px,#00f2ff 40.5px,#007dff 45.5px,#002aff 50.5px,#0005ff 53.5px,#0000b4 63.5px,#00008f 72.5px,#00008f 87.5px)"></i><i style="background:linear-gradient(#800000 0.5px,#800000 24.5px,#860000 25.5px,#f60a00 27.5px,#ff7900 29.5px,#fee201 31.5px,#ecfe13 32.5px,#72ff8d 35.5px,#0ffff0 38.5px,#00f0ff 39.5px,#007cff 44.5px,#001cff 50.5px,#0000f9 53.5px,#0000b9 61.5px,#00008f 71.5px,#00008f 87.5px)"></i><i style="background:linear-gradient(#800000 0.5px,#800000 23.5px,#890000 24.5px,#a30000 25.5px,#d40b00 26.5px,#fa2500 27.5px,#fec701 30.5px,#f2ec0d 31.5px,#d7ff28 32.5px,#61ff9e 35.5px,#20fedf 37.5px,#0af6f5 38.5px,#00caff 40.5px,#0061ff 45.5px,#000bff 51.5px,#0000ea 54.5px,#0000ab 63.5px,#00008f 71.5px,#00008f 87.5px)"></i><i style="background:linear-gradient(#800000 0.5px,#810000 23.5px,#9c0000 24.5px,#de0100 25.5px,#fe2100 26.5px,#ffc700 29.5px,#fbf404 30.5px,#d9ff26 31.5px,#63ff9c 34.5px,#06fcf9 37.5px,#0075ff 43.5px,#0018ff 49.5px,#0002fd 51.5px,#0000b6 60.5px,#000090 69.5px,#00008f 87.5px)"></i><i style="background:linear-gradient(#800000 0.5px,#800000 21.5px,#8d0000 22.5px,#ae0000 23.5px,#cd0e00 24.5px,#ef2c00 25.5px,#ff5700 26.5px,#fec201 28.5px,#efe310 29.5px,#d8fa27 30.5px,#45ffba 34.5px,#25ffda 35.5px,#03e7fc 37.5px,#0077ff 42.5px,#0019ff 48.5px,#0001f5 51.5px,#0000b1 60.5px,#000090 69.5px,#00008f 87.5px)"></i><i style="background:linear-gradient(#800000 0.5px,#820000 21.5px,#9c0100 22.5px,#dc0200 23.5px,#fe1e00 24.5px,#fec101 27.5px,#fcf003 28.5px,#defe21 29.5px,#46ffb9 33.5px,#0afdf5 35.5px,#00d1ff 37.5px,#0066ff 42.5px,#000eff 48.5px,#0000f7 50.5px,#0000b7 58.5px,#000090 67.5px,#00008f 87.5px)"></i><i style="background:linear-gradient(#800000 0.5px,#800000 18.5px,#890000 19.5px,#e30800 21.5px,#ff9000 24.5px,#ffc200 25.5px,#f6e909 26.5px,#90ff6f 29.5px,#29ffd6 32.5px,#0ffbf0 33.5px,#00bcff 36.5px,#0058ff 41.5px,#0006fe 47.5px,#0000b2 57.5px,#000091 65.5px,#00008f 87.5px)"></i><i style="background:linear-gradient(#800000 0.5px,#820100 18.5px,#8d0200 19.5px,#f80d00 21.5px,#feaa01 24.5px,#fdd902 25.5px,#f2fc0d 26.5px,#5affa5 30.5px,#03f9fc 33.5px,#0086ff 38.5px,#0024ff 44.5px,#0002fd 47.5px,#0000b6 56.5px,#00008f 65.5px,#00008f 87.5px)"></i><i style="background:linear-gradient(#800000 0.5px,#800100 14.5px,#860100 15.5px,#ed0300 17.5px,#fd2900 18.5px,#fee901 22.5px,#e7fc18 23.5px,#56ffa9 27.5px,#18fee7 29.5px,#03f8fc 30.5px,#0074ff 36.5px,#0019ff 42.5px,#0003fe 44.5px,#0000b7 53.5px,#000090 62.5px,#00008f 87.5px)"></i><i style="background:linear-gradient(#800000 0.5px,#810000 8.5px,#a70100 11.5px,#af3700 15.5px,#f45300 17.5px,#f67109 18.5px,#c8f237 22.5px,#aeff51 23.5px,#68ff97 25.5px,#0fe2f0 29.5px,#01d6fe 30.5px,#006eff 35.5px,#0022ff 40.5px,#0001f2 44.5px,#0000b0 53.5px,#000091 61.5px,#00008f 87.5px)"></i><i style="background:linear-gradient(#810200 0.5px,#830200 8.5px,#cc0201 10.5px,#f30501 11.5px,#fc4f01 13.5px,#fcef03 17.5px,#e3fc1c 18.5px,#40febf 23.5px,#0afdf5 25.5px,#01d4fe 27.5px,#005fff 33.5px,#000dff 39.5px,#0000f6 41.5px,#0000b2 50.5px,#000090 58.5px,#00008f 87.5px)"></i><i style="background:linear-gradient(#bf6900 0.5px,#ba7f05 6.5px,#a98018 8.5px,#c18139 11.5px,#82f87d 17.5px,#60ed9f 19.5px,#04b7fb 25.5px,#0042ff 32.5px,#0020fa 35.5px,#0000de 41.5px,#0000a0 51.5px,#00008f 60.5px,#00008f 87.5px)"></i><i style="background:linear-gradient(#facd03 0.5px,#fadc03 3.5px,#faf404 5.5px,#dffa1f 7.5px,#08fbf7 17.5px,#018ffe 23.5px,#002bfe 30.5px,#0002fc 34.5px,#0000b4 44.5px,#000090 53.5px,#00008f 87.5px)"></i><i style="background:linear-gradient(#2d48d2 0.5px,#2849d7 7.5px,#012dfb 17.5px,#0000bc 34.5px,#000096 44.5px,#00008f 83.5px,#00008f 87.5px)"></i><i style="background:linear-gradient(#012dfe 0.5px,#001aff 10.5px,#0001fb 17.5px,#000098 40.5px,#00008f 47.5px,#00008f 87.5px)"></i><i style="background:linear-gradient(#01a5fe 0.5px,#0192fe 4.5px,#0143fe 10.5px,#0006fe 14.5px,#0001a9 22.5px,#000091 26.5px,#00008f 87.5px)"></i><i style="background:linear-gradient(#5689a9 0.5px,#518cae 9.5px,#165ae9 14.5px,#0155ee 16.5px,#000eb7 25.5px,#0000b1 29.5px,#000093 42.5px,#00008f 87.5px)"></i><i style="background:linear-gradient(#fb4d03 0.5px,#fb5803 2.5px,#fb9003 5.5px,#fbe703 8.5px,#ecfa12 9.5px,#21fbde 15.5px,#07f8f8 16.5px,#0178fd 21.5px,#001bfe 26.5px,#0002fb 28.5px,#0000bc 35.5px,#000095 44.5px,#00008f 87.5px)"></i><i style="background:linear-gradient(#ab1a00 0.5px,#ab2900 4.5px,#a65605 9.5px,#b35611 10.5px,#cc571d 11.5px,#d56729 12.5px,#a9f156 16.5px,#94f46b 17.5px,#27d1d8 21.5px,#01bdfe 23.5px,#0060ff 27.5px,#0028f3 31.5px,#0000e2 36.5px,#0000ae 44.5px,#000091 57.5px,#00008f 87.5px)"></i><i style="background:linear-gradient(#800000 0.5px,#810100 9.5px,#a60100 10.5px,#dd0200 11.5px,#fc1a01 12.5px,#fce902 16.5px,#e0fc1f 17.5px,#3dfec2 21.5px,#1bfee4 22.5px,#03f5fc 23.5px,#008cff 27.5px,#002eff 32.5px,#0006ff 35.5px,#0000bc 44.5px,#000094 56.5px,#00008f 87.5px)"></i><i style="background:linear-gradient(#800000 0.5px,#800000 9.5px,#960400 12.5px,#971800 14.5px,#af2100 15.5px,#e72a00 16.5px,#f94c05 17.5px,#e3dc1c 20.5px,#d2fc2d 21.5px,#7efd81 23.5px,#20efdf 26.5px,#06e9f9 27.5px,#0073ff 32.5px,#0030fe 36.5px,#0000f3 41.5px,#0000bc 49.5px,#000097 61.5px,#00008f 78.5px,#00008f 87.5px)"></i><i style="background:linear-gradient(#800000 0.5px,#800000 14.5px,#990100 15.5px,#d10100 16.5px,#e82000 17.5px,#feb401 20.5px,#f4df0b 21.5px,#87fe78 24.5px,#1bfde4 27.5px,#02befd 30.5px,#0056ff 35.5px,#000fff 40.5px,#0000df 45.5px,#0000af 54.5px,#000091 67.5px,#00008f 87.5px)"></i><i style="background:linear-gradient(#800000 0.5px,#810100 17.5px,#900100 18.5px,#d20300 19.5px,#fd1c00 20.5px,#fdcd02 23.5px,#f5f90a 24.5px,#50ffaf 28.5px,#0efef1 30.5px,#01edfe 31.5px,#008bff 35.5px,#0035ff 40.5px,#0000fb 45.5px,#0000c3 53.5px,#000098 66.5px,#00008f 78.5px,#00008f 87.5px)"></i><i style="background:linear-gradient(#800000 0.5px,#800000 17.5px,#890000 18.5px,#b60000 19.5px,#d41100 20.5px,#fc6600 22.5px,#fad005 24.5px,#c0f93f 26.5px,#2affd5 30.5px,#0ae2f5 32.5px,#00b7ff 34.5px,#0054ff 39.5px,#0011ff 44.5px,#0000e3 49.5px,#0000af 59.5px,#000090 73.5px,#00008f 87.5px)"></i><i style="background:linear-gradient(#800000 0.5px,#830000 20.5px,#b70100 21.5px,#f40b00 22.5px,#ff8000 24.5px,#fdec02 26.5px,#defe21 27.5px,#61ff9e 30.5px,#1efee1 32.5px,#04fafb 33.5px,#0085ff 38.5px,#0034ff 43.5px,#0000fc 48.5px,#0000c1 57.5px,#000096 71.5px,#00008f 87.5px)"></i><i style="background:linear-gradient(#800000 0.5px,#800000 20.5px,#ac0300 22.5px,#d81700 23.5px,#fc3600 24.5px,#ffac00 26.5px,#f4d60b 27.5px,#e3f71c 28.5px,#93ff6c 30.5px,#29fdd6 33.5px,#02e9fd 35.5px,#007bff 40.5px,#002fff 45.5px,#0007fb 49.5px,#0000d5 55.5px,#0000a4 67.5px,#00008f 80.5px,#00008f 87.5px)"></i><i style="background:linear-gradient(#800000 0.5px,#800000 21.5px,#870000 22.5px,#c40100 23.5px,#fa1100 24.5px,#ffc100 27.5px,#fcf203 28.5px,#d9fe26 29.5px,#5fffa0 32.5px,#1dffe2 34.5px,#04fafb 35.5px,#0088ff 40.5px,#0038ff 45.5px,#0002fe 50.5px,#0000c0 60.5px,#000096 74.5px,#00008f 87.5px)"></i><i style="background:linear-gradient(#800000 0.5px,#810000 22.5px,#8c0000 23.5px,#b70300 24.5px,#f01100 25.5px,#ff4400 26.5px,#feb701 28.5px,#f8e507 29.5px,#e2fe1d 30.5px,#69ff96 33.5px,#27fed8 35.5px,#0dfaf2 36.5px,#00ebff 37.5px,#007eff 42.5px,#0027ff 48.5px,#0002fc 52.5px,#0000bf 62.5px,#000094 77.5px,#00008f 87.5px)"></i><i style="background:linear-gradient(#800000 0.5px,#800000 23.5px,#a20000 24.5px,#e00300 25.5px,#fb2c00 26.5px,#ffd500 29.5px,#f0f80f 30.5px,#7aff85 33.5px,#17ffe8 36.5px,#04f5fb 37.5px,#0088ff 42.5px,#002eff 48.5px,#0005fe 52.5px,#0000be 63.5px,#000094 78.5px,#00008f 87.5px)"></i><i style="background:linear-gradient(#800000 0.5px,#810000 24.5px,#a70000 25.5px,#eb0300 26.5px,#ff3100 27.5px,#ffda00 30.5px,#f2fd0d 31.5px,#79ff86 34.5px,#17ffe8 37.5px,#02f8fd 38.5px,#008aff 43.5px,#0031ff 49.5px,#0001fd 54.5px,#0000c0 64.5px,#000095 79.5px,#00008f 87.5px)"></i><i style="background:linear-gradient(#800000 0.5px,#800000 24.5px,#9a0000 25.5px,#da0200 26.5px,#fb2300 27.5px,#ffcb00 30.5px,#f6f409 31.5px,#d4ff2b 32.5px,#61ff9e 35.5px,#21ffde 37.5px,#09fbf6 38.5px,#00d1ff 40.5px,#006fff 45.5px,#001fff 51.5px,#0001f9 55.5px,#0000be 65.5px,#000093 81.5px,#00008f 87.5px)"></i><i style="background:linear-gradient(#800000 0.5px,#830000 25.5px,#f50900 27.5px,#ff7a00 29.5px,#ffe200 31.5px,#ecfe13 32.5px,#76ff89 35.5px,#17ffe8 38.5px,#02f8fd 39.5px,#008dff 44.5px,#0034ff 50.5px,#0002fe 55.5px,#0000be 66.5px,#000093 82.5px,#00008f 87.5px)"></i><i style="background:linear-gradient(#800000 0.5px,#810000 25.5px,#a30000 26.5px,#e40300 27.5px,#ff2a00 28.5px,#ffcf00 31.5px,#f7f708 32.5px,#abff54 34.5px,#42ffbd 37.5px,#0bfdf4 39.5px,#00edff 40.5px,#0085ff 45.5px,#0030ff 51.5px,#0002fd 56.5px,#0000be 67.5px,#000093 83.5px,#00008f 87.5px)"></i><i style="background:linear-gradient(#800000 0.5px,#800000 25.5px,#980000 26.5px,#dc0100 27.5px,#fe1f00 28.5px,#ffc600 31.5px,#fcf303 32.5px,#dcff23 33.5px,#6aff95 36.5px,#0ffff0 39.5px,#00f4ff 40.5px,#008aff 45.5px,#0034ff 51.5px,#0003ff 56.5px,#0000c0 67.5px,#000094 83.5px,#00008f 87.5px)"></i><i style="background:linear-gradient(#800000 0.5px,#800000 25.5px,#8e0000 26.5px,#ce0000 27.5px,#fc1300 28.5px,#ffb900 31.5px,#fee801 32.5px,#e9ff16 33.5px,#76ff89 36.5px,#1bffe4 39.5px,#04fbfb 40.5px,#0082ff 46.5px,#0030ff 52.5px,#0002fe 57.5px,#0000bf 68.5px,#000094 84.5px,#000090 87.5px)"></i><i style="background:linear-gradient(#800000 0.5px,#800000 25.5px,#8c0000 26.5px,#cb0000 27.5px,#fc1100 28.5px,#ffb500 31.5px,#ffe400 32.5px,#ecfe13 33.5px,#7aff85 36.5px,#1effe1 39.5px,#06fdf9 40.5px,#0086ff 46.5px,#0033ff 52.5px,#0003ff 57.5px,#0000bc 69.5px,#000091 86.5px,#000090 87.5px)"></i><i style="background:linear-gradient(#800000 0.5px,#800000 25.5px,#8d0000 26.5px,#cb0000 27.5px,#fb1000 28.5px,#ffb100 31.5px,#ffe000 32.5px,#f1fe0e 33.5px,#60ff9f 37.5px,#0bfff4 40.5px,#00f0ff 41.5px,#008cff 46.5px,#0038ff 52.5px,#0001fd 58.5px,#0000bf 69.5px,#000094 85.5px,#000091 87.5px)"></i><i style="background:linear-gradient(#800000 0.5px,#800000 25.5px,#910000 26.5px,#d00000 27.5px,#fc1300 28.5px,#ffb300 31.5px,#ffe200 32.5px,#f0fe0f 33.5px,#60ff9f 37.5px,#0bfff4 40.5px,#00f1ff 41.5px,#008dff 46.5px,#0039ff 52.5px,#0001fe 58.5px,#0000c0 69.5px,#000095 85.5px,#000092 87.5px)"></i><i style="background:linear-gradient(#800000 0.5px,#800000 25.5px,#9a0000 26.5px,#da0000 27.5px,#fe1a00 28.5px,#ffb800 31.5px,#ffe500 32.5px,#eefe11 33.5px,#60ff9f 37.5px,#0dfff2 40.5px,#00f3ff 41.5px,#0090ff 46.5px,#003cff 52.5px,#0003ff 58.5px,#0000be 70.5px,#000092 87.5px)"></i><i style="background:linear-gradient(#800000 0.5px,#840000 25.5px,#b00000 26.5px,#eb0400 27.5px,#ff2b00 28.5px,#ffc300 31.5px,#feee01 32.5px,#e6ff19 33.5px,#5dffa2 37.5px,#0bfff4 40.5px,#00f2ff 41.5px,#0090ff 46.5px,#003eff 52.5px,#0005ff 58.5px,#0000bc 71.5px,#000093 87.5px)"></i><i style="background:linear-gradient(#800000 0.5px,#800000 24.5px,#860000 25.5px,#f40600 27.5px,#ff3400 28.5px,#ffc900 31.5px,#fdf202 32.5px,#e2ff1d 33.5px,#5affa5 37.5px,#0afff5 40.5px,#00f1ff 41.5px,#0091ff 46.5px,#003eff 52.5px,#0000fc 59.5px,#0000c0 70.5px,#000094 87.5px)"></i><i style="background:linear-gradient(#800000 0.5px,#820000 24.5px,#aa0000 25.5px,#e30100 26.5px,#fd2000 27.5px,#ffb300 30.5px,#ffde00 31.5px,#f4fc0b 32.5px,#6eff91 36.5px,#06fdf9 40.5px,#007fff 47.5px,#0029ff 54.5px,#0000fd 59.5px,#0000c1 70.5px,#000094 87.5px)"></i><i style="background:linear-gradient(#800000 0.5px,#810000 23.5px,#8d0000 24.5px,#ef0900 26.5px,#ff3000 27.5px,#ffbf00 30.5px,#fde702 31.5px,#edfe12 32.5px,#68ff97 36.5px,#04fcfb 40.5px,#008dff 46.5px,#0033ff 53.5px,#0001fd 59.5px,#0000c2 70.5px,#000095 87.5px)"></i><i style="background:linear-gradient(#800000 0.5px,#800000 22.5px,#8a0000 23.5px,#f20400 25.5px,#ff2c00 26.5px,#ffb600 29.5px,#ffdf00 30.5px,#f6fc09 31.5px,#58ffa7 36.5px,#0dfff2 39.5px,#00f6ff 40.5px,#0089ff 46.5px,#0032ff 53.5px,#0000fd 59.5px,#0000be 71.5px,#000095 87.5px)"></i><i style="background:linear-gradient(#800000 0.5px,#820000 21.5px,#b70000 23.5px,#de0c00 24.5px,#f92500 25.5px,#ffd000 29.5px,#f8ef07 30.5px,#e2fe1d 31.5px,#4cffb3 36.5px,#07fcf8 39.5px,#00c7ff 42.5px,#0069ff 48.5px,#0015ff 56.5px,#0000fd 59.5px,#0000bf 71.5px,#000095 87.5px)"></i><i style="background:linear-gradient(#800000 0.5px,#800000 20.5px,#860000 21.5px,#e50100 23.5px,#fe1900 24.5px,#ffc400 28.5px,#fee901 29.5px,#f0fe0f 30.5px,#59ffa6 35.5px,#11ffee 38.5px,#01f9fe 39.5px,#0090ff 45.5px,#0039ff 52.5px,#0000fc 59.5px,#0000bf 71.5px,#000096 87.5px)"></i><i style="background:linear-gradient(#800000 0.5px,#820000 18.5px,#d20400 21.5px,#f63600 23.5px,#ff8000 25.5px,#faea05 28.5px,#ceff31 30.5px,#45ffba 35.5px,#06faf9 38.5px,#0088ff 45.5px,#002cff 53.5px,#0000fb 59.5px,#0000be 71.5px,#000096 87.5px)"></i><i style="background:linear-gradient(#810400 0.5px,#860100 18.5px,#f80800 21.5px,#ffc100 26.5px,#f7fc08 28.5px,#51ffae 34.5px,#0efff1 37.5px,#01f8fe 38.5px,#0084ff 45.5px,#002aff 53.5px,#0000fa 59.5px,#0000be 71.5px,#000096 87.5px)"></i><i style="background:linear-gradient(#edfb10 0.5px,#f6f907 1.5px,#fce201 2.5px,#fc2801 6.5px,#f80601 7.5px,#cd0100 9.5px,#be0100 11.5px,#ca0100 13.5px,#fb0500 16.5px,#ff8500 21.5px,#fef601 25.5px,#d0ff2f 27.5px,#2cffd3 34.5px,#05fefa 36.5px,#0077ff 45.5px,#001bff 54.5px,#0000fd 58.5px,#0000bd 71.5px,#000096 87.5px)"></i><i style="background:linear-gradient(#c5f03a 0.5px,#ccea33 1.5px,#d2c92d 2.5px,#d2711b 4.5px,#d2492a 5.5px,#cf2a2d 7.5px,#bd2d19 9.5px,#cb2d02 12.5px,#fd2b00 16.5px,#f9b406 22.5px,#eff910 25.5px,#91ff6e 29.5px,#13fcec 35.5px,#04f9fb 36.5px,#0080ff 44.5px,#002bff 52.5px,#0000fc 58.5px,#0000bd 71.5px,#000096 87.5px)"></i><i style="background:linear-gradient(#04a8fa 0.5px,#048ffa 1.5px,#0542f9 2.5px,#0504cb 3.5px,#050496 4.5px,#0410e8 5.5px,#036cfb 6.5px,#04cdfb 7.5px,#2cf9d2 8.5px,#70f98e 9.5px,#a7fa57 10.5px,#d1fb2d 11.5px,#f1fb0e 12.5px,#fcf102 13.5px,#fddc02 15.5px,#fee601 18.5px,#fcfb03 20.5px,#96ff69 26.5px,#04fdfb 34.5px,#0073ff 44.5px,#001cff 53.5px,#0000f8 58.5px,#0000bc 71.5px,#000096 87.5px)"></i><i style="background:linear-gradient(#405480 0.5px,#404780 1.5px,#40207f 2.5px,#610668 3.5px,#7c5950 4.5px,#3385c2 5.5px,#0186fe 6.5px,#0071f3 7.5px,#157fb6 8.5px,#3881b4 9.5px,#549eab 10.5px,#7ae485 12.5px,#81f57e 13.5px,#a9ee56 16.5px,#b7f948 19.5px,#aeff51 21.5px,#5cffa3 27.5px,#12f8ed 32.5px,#00ddff 35.5px,#006aff 44.5px,#0011ff 54.5px,#0000f6 58.5px,#0000b8 72.5px,#000096 87.5px)"></i><i style="background:linear-gradient(#7e0102 0.5px,#800102 2.5px,#bf0a02 3.5px,#f4af08 4.5px,#66f897 5.5px,#049ffa 6.5px,#0216e6 7.5px,#000598 8.5px,#0105d9 9.5px,#013dfc 10.5px,#0289fc 11.5px,#02c7fc 12.5px,#06f4f9 13.5px,#3ffdc0 15.5px,#62fe9d 17.5px,#70ff8f 20.5px,#57ffa8 24.5px,#02fdfd 31.5px,#006bff 43.5px,#0014ff 53.5px,#0000f9 57.5px,#0000ba 71.5px,#000095 87.5px)"></i><i style="background:linear-gradient(#800000 0.5px,#800000 2.5px,#960400 3.5px,#a83c02 4.5px,#885734 5.5px,#a78757 6.5px,#6aad8d 7.5px,#088fd3 8.5px,#0033f1 9.5px,#0015dc 10.5px,#002fb7 11.5px,#015efb 13.5px,#15a3ea 15.5px,#24dedb 18.5px,#25f6da 21.5px,#16f4e9 26.5px,#00d0ff 32.5px,#0042ff 46.5px,#0002fe 55.5px,#0000b9 71.5px,#000095 87.5px)"></i><i style="background:linear-gradient(#800000 0.5px,#810100 4.5px,#980301 5.5px,#f87903 6.5px,#a0f85f 7.5px,#10d8ee 8.5px,#014efc 9.5px,#0005cb 10.5px,#000295 11.5px,#0001c6 12.5px,#0011fa 13.5px,#0073fe 15.5px,#01b4fe 17.5px,#01dbfe 19.5px,#01f4fe 22.5px,#00edff 26.5px,#00abff 34.5px,#002dff 48.5px,#0000fd 55.5px,#0000bb 70.5px,#000095 87.5px)"></i><i style="background:linear-gradient(#800000 0.5px,#800000 5.5px,#890300 6.5px,#f13e02 7.5px,#e1e51e 8.5px,#50fbaf 9.5px,#02bafd 10.5px,#0045fd 11.5px,#0003dd 12.5px,#000099 13.5px,#000199 14.5px,#0005f5 16.5px,#0043ff 18.5px,#0072ff 20.5px,#0097ff 23.5px,#00a2ff 27.5px,#0082ff 34.5px,#0001fe 53.5px,#0000bc 69.5px,#000094 87.5px)"></i><i style="background:linear-gradient(#800000 0.5px,#860100 6.5px,#e43100 7.5px,#e9cc16 8.5px,#6bfa94 9.5px,#14c8eb 10.5px,#0162fd 11.5px,#0019e3 12.5px,#0007aa 13.5px,#0000a2 14.5px,#0002e3 16.5px,#004bfb 19.5px,#007cff 22.5px,#0091ff 25.5px,#008eff 30.5px,#003dff 43.5px,#0001fd 53.5px,#0000b8 70.5px,#000094 87.5px)"></i><i style="background:linear-gradient(#800000 0.5px,#800000 6.5px,#a10200 7.5px,#fd5701 8.5px,#e6ea19 9.5px,#6afd95 10.5px,#09e2f6 11.5px,#0028fd 13.5px,#0001d8 14.5px,#00009d 15.5px,#000092 16.5px,#0000a2 17.5px,#0001e8 19.5px,#0008fd 20.5px,#003eff 23.5px,#005dff 27.5px,#005cff 33.5px,#0000fa 52.5px,#0000b5 70.5px,#000093 87.5px)"></i><i style="background:linear-gradient(#800000 0.5px,#800000 6.5px,#940100 7.5px,#f53800 8.5px,#f3c60c 9.5px,#9dfd62 10.5px,#33f1cc 11.5px,#04b7fb 12.5px,#0061ff 13.5px,#0026ec 14.5px,#0006cb 15.5px,#0000ae 16.5px,#00009e 17.5px,#0003d3 20.5px,#0025fe 24.5px,#0043ff 28.5px,#0044ff 34.5px,#0002fb 50.5px,#0000b1 71.5px,#000093 87.5px)"></i><i style="background:linear-gradient(#800000 0.5px,#800000 6.5px,#880000 7.5px,#ec1b00 8.5px,#fea201 9.5px,#d0fc2f 10.5px,#5dfea2 11.5px,#09ebf6 12.5px,#004cff 14.5px,#000ef9 15.5px,#0001cc 16.5px,#00009d 17.5px,#000091 18.5px,#000092 19.5px,#0001ed 23.5px,#0002fc 24.5px,#002aff 29.5px,#002fff 35.5px,#0000fa 49.5px,#0000b2 70.5px,#000092 87.5px)"></i><i style="background:linear-gradient(#800000 0.5px,#800000 6.5px,#8a0000 7.5px,#eb1400 8.5px,#fe8b00 9.5px,#e8f117 10.5px,#88ff77 11.5px,#2df8d2 12.5px,#02cdfd 13.5px,#0041fd 15.5px,#0016ed 16.5px,#0001d1 17.5px,#000097 19.5px,#0000a1 21.5px,#0000c0 23.5px,#0008e7 26.5px,#0012ff 31.5px,#0014ff 38.5px,#0000f4 48.5px,#0000ab 72.5px,#000091 87.5px)"></i><i style="background:linear-gradient(#800000 0.5px,#800000 6.5px,#8b0000 7.5px,#eb1100 8.5px,#ff7f00 9.5px,#f4eb0b 10.5px,#9eff61 11.5px,#40ffbf 12.5px,#03e7fc 13.5px,#005dff 15.5px,#0022fe 16.5px,#0002ec 17.5px,#00009a 19.5px,#000090 21.5px,#000095 22.5px,#0000d9 26.5px,#0000fc 30.5px,#000bff 37.5px,#0000f9 45.5px,#0000a8 73.5px,#000091 87.5px)"></i><i style="background:linear-gradient(#800000 0.5px,#800000 6.5px,#a90000 7.5px,#fa1e00 8.5px,#fce203 10.5px,#bcff43 11.5px,#1dfee2 13.5px,#00d5ff 14.5px,#005fff 16.5px,#002dff 17.5px,#0006f9 18.5px,#000097 21.5px,#000090 23.5px,#000097 25.5px,#0000ca 29.5px,#0000e7 34.5px,#0000ec 42.5px,#000098 81.5px,#000090 87.5px)"></i><i style="background:linear-gradient(#800000 0.5px,#850000 6.5px,#b50100 7.5px,#fb2500 8.5px,#fce303 10.5px,#beff41 11.5px,#22fedd 13.5px,#01dbfe 14.5px,#0068ff 16.5px,#000efb 18.5px,#0000be 20.5px,#0000a0 21.5px,#000090 23.5px,#000095 25.5px,#0000d2 31.5px,#0000e8 37.5px,#0000de 48.5px,#000097 81.5px,#000090 87.5px)"></i><i style="background:linear-gradient(#800000 0.5px,#800000 5.5px,#9d0000 6.5px,#ea0600 7.5px,#ff4800 8.5px,#fbe904 10.5px,#c3ff3c 11.5px,#39ffc6 13.5px,#06f4f9 14.5px,#005dff 17.5px,#000cfd 19.5px,#0000e7 20.5px,#000095 23.5px,#000090 27.5px,#0000c7 34.5px,#0000d7 42.5px,#0000b2 64.5px,#00008f 87.5px)"></i><i style="background:linear-gradient(#800000 0.5px,#840000 4.5px,#9e0000 5.5px,#c80300 6.5px,#f52000 7.5px,#ff6300 8.5px,#f8f107 10.5px,#c0ff3f 11.5px,#3fffc0 13.5px,#0bf9f4 14.5px,#00cdff 15.5px,#0044ff 18.5px,#001ffe 19.5px,#0008f3 20.5px,#0000c0 22.5px,#0000a8 23.5px,#000091 25.5px,#000092 28.5px,#0000c5 37.5px,#0000cc 47.5px,#00008f 87.5px)"></i><i style="background:linear-gradient(#800000 0.5px,#810000 3.5px,#8b0000 4.5px,#f30700 6.5px,#ff3b00 7.5px,#ffc000 9.5px,#f4f80b 10.5px,#44ffbb 13.5px,#10fdef 14.5px,#00d9ff 15.5px,#0056ff 18.5px,#0010ff 20.5px,#0000f0 21.5px,#0000a5 24.5px,#000093 25.5px,#000093 31.5px,#0000b8 37.5px,#0000c4 46.5px,#00008f 87.5px)"></i><i style="background:linear-gradient(#9f0000 0.5px,#b10000 2.5px,#e10100 4.5px,#f31a00 5.5px,#fd4100 6.5px,#fee101 9.5px,#e3fd1c 10.5px,#14feeb 14.5px,#00e4ff 15.5px,#006bff 18.5px,#000dfc 21.5px,#0000ee 22.5px,#0000ab 25.5px,#000091 27.5px,#000095 34.5px,#0000b4 42.5px,#0000b3 56.5px,#00008f 87.5px)"></i><i style="background:linear-gradient(#a80000 0.5px,#ad0000 1.5px,#d50100 3.5px,#f40300 4.5px,#ff2100 5.5px,#fee901 9.5px,#deff21 10.5px,#15ffea 14.5px,#00e7ff 15.5px,#0070ff 18.5px,#0011ff 21.5px,#0000f4 22.5px,#00009f 26.5px,#000091 27.5px,#000091 34.5px,#0000b1 42.5px,#0000b2 55.5px,#00008f 87.5px)"></i><i style="background:linear-gradient(#fe1900 0.5px,#fe2800 2.5px,#ff5300 4.5px,#ffbd00 7.5px,#ffe600 8.5px,#ebfe14 9.5px,#15ffea 14.5px,#00ebff 15.5px,#0060ff 19.5px,#000eff 22.5px,#0000f4 23.5px,#000099 28.5px,#00008f 30.5px,#000096 39.5px,#0000aa 49.5px,#00008f 87.5px)"></i><i style="background:linear-gradient(#ff3800 0.5px,#ff4600 2.5px,#ff6f00 4.5px,#ffd000 7.5px,#f7ef08 8.5px,#deff21 9.5px,#12ffed 14.5px,#00ebff 15.5px,#0065ff 19.5px,#0014ff 22.5px,#0003f8 23.5px,#0000a0 28.5px,#000091 30.5px,#000094 39.5px,#0000a7 51.5px,#00008f 87.5px)"></i><i style="background:linear-gradient(#ff7400 0.5px,#ff8000 2.5px,#ffba00 5.5px,#fef401 7.5px,#e7ff18 8.5px,#0efef1 14.5px,#00eaff 15.5px,#0052ff 20.5px,#000aff 23.5px,#0000e0 25.5px,#000094 30.5px,#000094 43.5px,#0000a1 56.5px,#00008f 87.5px)"></i><i style="background:linear-gradient(#ff9a00 0.5px,#ffa400 2.5px,#ffd900 5.5px,#eafa15 7.5px,#8fff70 10.5px,#0afdf5 14.5px,#00c7ff 16.5px,#003eff 21.5px,#0011ff 23.5px,#0003f9 24.5px,#00009d 30.5px,#00008f 33.5px,#000099 49.5px,#000095 70.5px,#00008f 87.5px)"></i><i style="background:linear-gradient(#ffc000 0.5px,#ffd500 3.5px,#fef701 5.5px,#d6ff29 7.5px,#06fcf9 14.5px,#0043ff 21.5px,#0005fe 24.5px,#00009a 31.5px,#000090 33.5px,#000096 51.5px,#00008f 87.5px)"></i><i style="background:linear-gradient(#fff400 0.5px,#f0f70f 3.5px,#c6ff39 6.5px,#4bffb4 11.5px,#13ffec 13.5px,#01f5fe 14.5px,#0048ff 21.5px,#000dff 24.5px,#0001f9 25.5px,#0000a6 31.5px,#000090 34.5px,#00008f 87.5px)"></i><i style="background:linear-gradient(#feff01 0.5px,#edff12 3.5px,#bdff42 6.5px,#45ffba 11.5px,#10ffef 13.5px,#00f4ff 14.5px,#004aff 21.5px,#0001fb 25.5px,#0000a9 31.5px,#000090 34.5px,#00008f 87.5px)"></i><i style="background:linear-gradient(#c8ff37 0.5px,#b9ff46 3.5px,#80ff7f 7.5px,#02fafd 13.5px,#0039ff 22.5px,#0006ff 25.5px,#0000aa 32.5px,#000090 35.5px,#00008f 87.5px)"></i><i style="background:linear-gradient(#b6ff49 0.5px,#a8ff57 3.5px,#72ff8d 7.5px,#0efef1 12.5px,#01f4fe 13.5px,#003aff 22.5px,#0008ff 25.5px,#0000db 28.5px,#000093 35.5px,#00008f 87.5px)"></i><i style="background:linear-gradient(#95ff6a 0.5px,#89ff76 3.5px,#59ffa6 7.5px,#02fbfd 12.5px,#003bff 22.5px,#0001fb 26.5px,#0000aa 33.5px,#00008f 37.5px,#00008f 87.5px)"></i><i style="background:linear-gradient(#7eff81 0.5px,#6bff94 4.5px,#27ffd8 9.5px,#09fbf6 11.5px,#00deff 13.5px,#002aff 23.5px,#0001fc 26.5px,#0000a5 34.5px,#00008f 38.5px,#00008f 87.5px)"></i><i style="background:linear-gradient(#67ff98 0.5px,#55ffaa 4.5px,#18ffe7 9.5px,#00f6ff 11.5px,#002aff 23.5px,#0002fd 26.5px,#0000a9 34.5px,#000090 38.5px,#00008f 87.5px)"></i><i style="background:linear-gradient(#44ffbb 0.5px,#35ffca 4.5px,#04fafb 9.5px,#00a3ff 15.5px,#000dff 25.5px,#0000f4 27.5px,#0000a6 35.5px,#00008f 39.5px,#00008f 87.5px)"></i><i style="background:linear-gradient(#3cffc3 0.5px,#2effd1 4.5px,#00f9ff 9.5px,#000dff 25.5px,#0000f4 27.5px,#0000a7 35.5px,#000090 39.5px,#00008f 87.5px)"></i><i style="background:linear-gradient(#17ffe8 0.5px,#01fafe 6.5px,#00abff 13.5px,#000cff 25.5px,#0000f4 27.5px,#0000a5 36.5px,#00008f 40.5px,#00008f 87.5px)"></i><i style="background:linear-gradient(#0ffaf0 0.5px,#00f0ff 6.5px,#00a4ff 13.5px,#000bff 25.5px,#0000f4 27.5px,#0000a6 36.5px,#00008f 41.5px,#00008f 87.5px)"></i><i style="background:linear-gradient(#00f1ff 0.5px,#00e1ff 5.5px,#00a2ff 12.5px,#0001fc 26.5px,#0000a8 36.5px,#00008f 41.5px,#00008f 87.5px)"></i><i style="background:linear-gradient(#00e0ff 0.5px,#00d2ff 5.5px,#0096ff 12.5px,#0006ff 25.5px,#0000be 33.5px,#000090 41.5px,#00008f 87.5px)"></i><i style="background:linear-gradient(#00cfff 0.5px,#00bcff 6.5px,#0077ff 14.5px,#0004ff 25.5px,#0000a5 37.5px,#00008f 42.5px,#00008f 87.5px)"></i><i style="background:linear-gradient(#00b6ff 0.5px,#00a5ff 6.5px,#005eff 15.5px,#0001fd 25.5px,#0000a6 37.5px,#000090 42.5px,#00008f 87.5px)"></i><i style="background:linear-gradient(#00b0ff 0.5px,#00a0ff 6.5px,#005bff 15.5px,#0000fc 25.5px,#0000a6 37.5px,#00008f 43.5px,#00008f 87.5px)"></i></div>
<div class="bx" style="left:92px;top:29px;width:443px;height:86px;border-color:#262626"></div>
<b style="left:179px;top:30px;width:1px;height:4px"></b><b style="left:179px;top:112px;width:1px;height:4px"></b><b style="left:266px;top:30px;width:1px;height:4px"></b><b style="left:266px;top:112px;width:1px;height:4px"></b><b style="left:353px;top:30px;width:1px;height:4px"></b><b style="left:353px;top:112px;width:1px;height:4px"></b><b style="left:439px;top:30px;width:1px;height:4px"></b><b style="left:439px;top:112px;width:1px;height:4px"></b><b style="left:526px;top:30px;width:1px;height:4px"></b><b style="left:526px;top:112px;width:1px;height:4px"></b><b style="left:93px;top:30px;width:4px;height:1px"></b><b style="left:532px;top:30px;width:4px;height:1px"></b><b style="left:93px;top:47px;width:4px;height:1px"></b><b style="left:532px;top:47px;width:4px;height:1px"></b><b style="left:93px;top:65px;width:4px;height:1px"></b><b style="left:532px;top:65px;width:4px;height:1px"></b><b style="left:93px;top:82px;width:4px;height:1px"></b><b style="left:532px;top:82px;width:4px;height:1px"></b><b style="left:93px;top:100px;width:4px;height:1px"></b><b style="left:532px;top:100px;width:4px;height:1px"></b>
<div class="hm" style="left:88px;top:210px;width:451px;height:89px"><i style="background:linear-gradient(#800000 0.5px,#820000 20.5px,#b30000 21.5px,#f10500 22.5px,#ff3700 23.5px,#ffde00 26.5px,#eefe11 27.5px,#70ff8f 30.5px,#0afef5 33.5px,#00ebff 34.5px,#0088ff 38.5px,#0030ff 43.5px,#0000fb 47.5px,#0000ba 55.5px,#000090 65.5px,#00008f 88.5px)"></i><i style="background:linear-gradient(#800000 0.5px,#820000 20.5px,#b20000 21.5px,#f00500 22.5px,#fe3700 23.5px,#ffdd00 26.5px,#eefd11 27.5px,#4cffb3 31.5px,#0bfef4 33.5px,#01ebfe 34.5px,#0074ff 39.5px,#0022ff 44.5px,#0000fb 47.5px,#0000ba 55.5px,#000090 65.5px,#00008f 88.5px)"></i><i style="background:linear-gradient(#800000 0.5px,#810000 20.5px,#b90300 22.5px,#f43a00 24.5px,#ff6d00 25.5px,#ffa500 26.5px,#f6d109 27.5px,#c4fe3b 29.5px,#4effb1 32.5px,#2cffd3 33.5px,#06e7f9 35.5px,#0062ff 41.5px,#0015ff 46.5px,#0000f1 49.5px,#0000b4 57.5px,#000091 66.5px,#00008f 88.5px)"></i><i style="background:linear-gradient(#800000 0.5px,#810000 22.5px,#a60000 23.5px,#e90300 24.5px,#fe2f00 25.5px,#fed901 28.5px,#f0fc0f 29.5px,#4dffb2 33.5px,#0cfef3 35.5px,#00ecff 36.5px,#0089ff 40.5px,#0030ff 45.5px,#0001fb 49.5px,#0000ba 57.5px,#000090 67.5px,#00008f 88.5px)"></i><i style="background:linear-gradient(#800000 0.5px,#800000 22.5px,#8d0000 23.5px,#a70100 24.5px,#d51000 25.5px,#fb2c00 26.5px,#ffa000 28.5px,#fad105 29.5px,#ebf314 30.5px,#c8ff37 31.5px,#50ffaf 34.5px,#13f9ec 36.5px,#02ecfd 37.5px,#0076ff 42.5px,#0022ff 47.5px,#0002fa 50.5px,#0000b4 59.5px,#000090 68.5px,#00008f 88.5px)"></i><i style="background:linear-gradient(#800000 0.5px,#800000 23.5px,#860000 24.5px,#bf0000 25.5px,#f80c00 26.5px,#ffba00 29.5px,#feec01 30.5px,#dffe20 31.5px,#63ff9c 34.5px,#1dffe2 36.5px,#03fafc 37.5px,#0080ff 42.5px,#002aff 47.5px,#0004ff 50.5px,#0000b7 59.5px,#00008f 69.5px,#00008f 88.5px)"></i><i style="background:linear-gradient(#800000 0.5px,#810000 24.5px,#8c0000 25.5px,#bb0200 26.5px,#f31100 27.5px,#ff4500 28.5px,#ffba00 30.5px,#f9e806 31.5px,#dfff20 32.5px,#62ff9d 35.5px,#1efee1 37.5px,#05f7fa 38.5px,#0080ff 43.5px,#0029ff 48.5px,#0004fe 51.5px,#0000b7 60.5px,#00008f 70.5px,#00008f 88.5px)"></i><i style="background:linear-gradient(#800000 0.5px,#810000 25.5px,#a70000 26.5px,#e60400 27.5px,#fd3000 28.5px,#ffdb00 31.5px,#ecfb13 32.5px,#4bffb4 36.5px,#0bfdf4 38.5px,#00ceff 40.5px,#0060ff 45.5px,#0007ff 51.5px,#0000d5 56.5px,#0000a0 65.5px,#00008f 72.5px,#00008f 88.5px)"></i><i style="background:linear-gradient(#800000 0.5px,#830000 26.5px,#b60000 27.5px,#f40800 28.5px,#ff3f00 29.5px,#fee901 32.5px,#e3ff1c 33.5px,#65ff9a 36.5px,#1fffe0 38.5px,#04fbfb 39.5px,#0081ff 44.5px,#002aff 49.5px,#0004ff 52.5px,#0000b7 61.5px,#00008f 71.5px,#00008f 88.5px)"></i><i style="background:linear-gradient(#800000 0.5px,#810000 26.5px,#a80000 27.5px,#e80500 28.5px,#fe3200 29.5px,#ffde00 32.5px,#ebfc14 33.5px,#48ffb7 37.5px,#09fcf6 39.5px,#00ccff 41.5px,#005eff 46.5px,#0006ff 52.5px,#0000cd 58.5px,#000098 68.5px,#00008f 75.5px,#00008f 88.5px)"></i><i style="background:linear-gradient(#800000 0.5px,#800000 26.5px,#8e0000 27.5px,#d00000 28.5px,#fd1800 29.5px,#ffca00 32.5px,#f9f706 33.5px,#a5ff5a 35.5px,#33ffcc 38.5px,#13ffec 39.5px,#00f3ff 40.5px,#008eff 44.5px,#0033ff 49.5px,#0001fd 53.5px,#0000bb 61.5px,#000090 71.5px,#00008f 88.5px)"></i><i style="background:linear-gradient(#800000 0.5px,#800000 26.5px,#860000 27.5px,#bf0000 28.5px,#f80e00 29.5px,#ffbd00 32.5px,#fdef02 33.5px,#dcff23 34.5px,#5fffa0 37.5px,#1affe5 39.5px,#02f8fd 40.5px,#007eff 45.5px,#0028ff 50.5px,#0003fe 53.5px,#0000b6 62.5px,#00008f 72.5px,#00008f 88.5px)"></i><i style="background:linear-gradient(#800000 0.5px,#820000 27.5px,#b60000 28.5px,#f50900 29.5px,#ff4000 30.5px,#feea01 33.5px,#e2ff1d 34.5px,#64ff9b 37.5px,#1effe1 39.5px,#03fafc 40.5px,#0080ff 45.5px,#002aff 50.5px,#0004ff 53.5px,#0000b7 62.5px,#00008f 72.5px,#00008f 88.5px)"></i><i style="background:linear-gradient(#800000 0.5px,#810000 27.5px,#af0000 28.5px,#f10600 29.5px,#ff3a00 30.5px,#ffe600 33.5px,#e6ff19 34.5px,#67ff98 37.5px,#05fcfa 40.5px,#0082ff 45.5px,#002bff 50.5px,#0005ff 53.5px,#0000b8 62.5px,#00008f 72.5px,#00008f 88.5px)"></i><i style="background:linear-gradient(#800000 0.5px,#800000 27.5px,#ae0000 28.5px,#f00500 29.5px,#ff3900 30.5px,#ffe500 33.5px,#e7ff18 34.5px,#68ff97 37.5px,#05fcfa 40.5px,#0083ff 45.5px,#002bff 50.5px,#0005ff 53.5px,#0000b8 62.5px,#00008f 72.5px,#00008f 88.5px)"></i><i style="background:linear-gradient(#800000 0.5px,#820000 27.5px,#b60000 28.5px,#f50900 29.5px,#ff4000 30.5px,#feea01 33.5px,#e2ff1d 34.5px,#64ff9b 37.5px,#1effe1 39.5px,#03fafc 40.5px,#0080ff 45.5px,#002aff 50.5px,#0004ff 53.5px,#0000b7 62.5px,#00008f 72.5px,#00008f 88.5px)"></i><i style="background:linear-gradient(#800000 0.5px,#800000 26.5px,#860000 27.5px,#bf0000 28.5px,#f80e00 29.5px,#ffbd00 32.5px,#fdef02 33.5px,#dcff23 34.5px,#5fffa0 37.5px,#1affe5 39.5px,#02f8fd 40.5px,#007eff 45.5px,#0028ff 50.5px,#0003fe 53.5px,#0000b6 62.5px,#00008f 72.5px,#00008f 88.5px)"></i><i style="background:linear-gradient(#800000 0.5px,#800000 26.5px,#8d0000 27.5px,#d00000 28.5px,#fd1800 29.5px,#ffca00 32.5px,#f9f706 33.5px,#a5ff5a 35.5px,#33ffcc 38.5px,#13ffec 39.5px,#00f3ff 40.5px,#008eff 44.5px,#0033ff 49.5px,#0001fd 53.5px,#0000bb 61.5px,#000090 71.5px,#00008f 88.5px)"></i><i style="background:linear-gradient(#800000 0.5px,#810000 26.5px,#a10000 27.5px,#e20400 28.5px,#fe2c00 29.5px,#ffd900 32.5px,#eefb11 33.5px,#4cffb3 37.5px,#0bfdf4 39.5px,#00eaff 40.5px,#0088ff 44.5px,#002fff 49.5px,#0001fa 53.5px,#0000b9 61.5px,#000090 71.5px,#00008f 88.5px)"></i><i style="background:linear-gradient(#800000 0.5px,#830000 26.5px,#b60000 27.5px,#f40800 28.5px,#ff3f00 29.5px,#fee901 32.5px,#e3ff1c 33.5px,#65ff9a 36.5px,#1fffe0 38.5px,#04fbfb 39.5px,#0081ff 44.5px,#002aff 49.5px,#0004ff 52.5px,#0000b7 61.5px,#00008f 71.5px,#00008f 88.5px)"></i><i style="background:linear-gradient(#800000 0.5px,#800000 25.5px,#a60000 26.5px,#e60400 27.5px,#fd3000 28.5px,#ffdb00 31.5px,#edfb12 32.5px,#4bffb4 36.5px,#0bfdf4 38.5px,#00ceff 40.5px,#0060ff 45.5px,#0007ff 51.5px,#0000d5 56.5px,#0000a0 65.5px,#00008f 72.5px,#00008f 88.5px)"></i><i style="background:linear-gradient(#800000 0.5px,#820000 25.5px,#af0000 26.5px,#f00600 27.5px,#ff3a00 28.5px,#fee401 31.5px,#e8ff17 32.5px,#69ff96 35.5px,#06fcf9 38.5px,#0083ff 43.5px,#002cff 48.5px,#0005ff 51.5px,#0000b2 61.5px,#00008f 70.5px,#00008f 88.5px)"></i><i style="background:linear-gradient(#800000 0.5px,#800000 23.5px,#860000 24.5px,#be0000 25.5px,#f70c00 26.5px,#ffb900 29.5px,#feec01 30.5px,#e0fe1f 31.5px,#63ff9c 34.5px,#1effe1 36.5px,#04fafb 37.5px,#0080ff 42.5px,#002aff 47.5px,#0004ff 50.5px,#0000b7 59.5px,#00008f 69.5px,#00008f 88.5px)"></i><i style="background:linear-gradient(#800000 0.5px,#800000 22.5px,#970000 24.5px,#cb0800 25.5px,#fa1d00 26.5px,#fdc602 29.5px,#f4f00b 30.5px,#d3ff2c 31.5px,#58ffa7 34.5px,#18fce7 36.5px,#03f3fc 37.5px,#007aff 42.5px,#0026ff 47.5px,#0003fc 50.5px,#0000b6 59.5px,#000090 68.5px,#00008f 88.5px)"></i><i style="background:linear-gradient(#800000 0.5px,#810000 22.5px,#a60000 23.5px,#e80300 24.5px,#fe2f00 25.5px,#fed901 28.5px,#f0fc0f 29.5px,#4effb1 33.5px,#0cfef3 35.5px,#01ecfe 36.5px,#0075ff 41.5px,#0022ff 46.5px,#0001fb 49.5px,#0000ba 57.5px,#000090 67.5px,#00008f 88.5px)"></i><i style="background:linear-gradient(#800000 0.5px,#810000 20.5px,#b90300 22.5px,#f43a00 24.5px,#ff6d00 25.5px,#ffa500 26.5px,#f6d109 27.5px,#c4fe3b 29.5px,#4effb1 32.5px,#2cffd3 33.5px,#06e7f9 35.5px,#0062ff 41.5px,#0015ff 46.5px,#0000f1 49.5px,#0000b4 57.5px,#000091 66.5px,#00008f 88.5px)"></i><i style="background:linear-gradient(#800000 0.5px,#830100 20.5px,#b30100 21.5px,#f00700 22.5px,#fe3900 23.5px,#fede01 26.5px,#edfd12 27.5px,#4bffb4 31.5px,#0bfdf4 33.5px,#00cfff 35.5px,#0061ff 40.5px,#0014ff 45.5px,#0000fb 47.5px,#0000ba 55.5px,#000090 65.5px,#00008f 88.5px)"></i><i style="background:linear-gradient(#800000 0.5px,#810000 17.5px,#c90200 19.5px,#e54600 21.5px,#fa6c00 22.5px,#ff9f00 23.5px,#f9cd06 24.5px,#c1f43e 26.5px,#a1ff5e 27.5px,#32ffcd 30.5px,#1af7e5 31.5px,#04d4fb 33.5px,#0066ff 38.5px,#0018ff 43.5px,#0003f1 46.5px,#0000b0 55.5px,#000090 64.5px,#00008f 88.5px)"></i><i style="background:linear-gradient(#800000 0.5px,#840200 17.5px,#b20300 18.5px,#ee0700 19.5px,#fe3300 20.5px,#fdd402 23.5px,#f3fa0c 24.5px,#54feab 28.5px,#13fdec 30.5px,#01f2fe 31.5px,#007aff 36.5px,#0026ff 41.5px,#0002fd 44.5px,#0000bb 52.5px,#000090 62.5px,#00008f 88.5px)"></i><i style="background:linear-gradient(#800000 0.5px,#800100 12.5px,#8f0100 13.5px,#f60900 15.5px,#fecf01 19.5px,#f8f607 20.5px,#3dffc2 25.5px,#05f9fa 27.5px,#0083ff 32.5px,#002cff 37.5px,#0006ff 40.5px,#0000b3 50.5px,#000090 59.5px,#00008f 88.5px)"></i><i style="background:linear-gradient(#800000 0.5px,#900000 6.5px,#961a00 11.5px,#962100 12.5px,#a32800 13.5px,#f13409 15.5px,#deda21 19.5px,#d3fa2c 20.5px,#8bfc74 22.5px,#16ebe9 26.5px,#02e3fd 27.5px,#0071ff 32.5px,#0030fd 36.5px,#0004f7 40.5px,#0000b3 49.5px,#000091 58.5px,#00008f 88.5px)"></i><i style="background:linear-gradient(#7f0101 0.5px,#850101 2.5px,#bf0101 5.5px,#f70501 7.5px,#fc4701 9.5px,#fcdf02 13.5px,#f1fa0d 14.5px,#47fdb8 19.5px,#0cfdf3 21.5px,#02d2fd 23.5px,#0067ff 28.5px,#000eff 34.5px,#0001f5 36.5px,#0000b7 44.5px,#000090 54.5px,#00008f 88.5px)"></i><i style="background:linear-gradient(#7b5630 0.5px,#845634 3.5px,#b65945 7.5px,#a9b156 11.5px,#a8d857 13.5px,#a1e35e 14.5px,#19c1e6 20.5px,#06bcf9 21.5px,#006eff 25.5px,#0023ef 31.5px,#0001e5 35.5px,#0000a9 44.5px,#00008f 55.5px,#00008f 88.5px)"></i><i style="background:linear-gradient(#71f98b 0.5px,#65f998 3.5px,#34f9ca 7.5px,#04f6fa 10.5px,#0049fd 20.5px,#0009fe 25.5px,#0001e7 28.5px,#0000ab 37.5px,#000090 45.5px,#00008f 88.5px)"></i><i style="background:linear-gradient(#27568e 0.5px,#1156a4 7.5px,#004fb5 11.5px,#0006b5 24.5px,#00009e 34.5px,#00008f 49.5px,#00008f 88.5px)"></i><i style="background:linear-gradient(#02058f 0.5px,#00008f 88.5px)"></i><i style="background:linear-gradient(#5ed18d 0.5px,#4cd19f 4.5px,#02cee9 10.5px,#003ceb 20.5px,#0001e8 26.5px,#0000ae 35.5px,#000090 45.5px,#00008f 88.5px)"></i><i style="background:linear-gradient(#74d174 0.5px,#69d186 4.5px,#49d7b6 8.5px,#2ee1d0 10.5px,#2bbcd4 14.5px,#004eff 22.5px,#0019fb 26.5px,#0000b6 37.5px,#000095 45.5px,#00008f 88.5px)"></i><i style="background:linear-gradient(#7f0302 0.5px,#850302 2.5px,#bf0302 5.5px,#f60803 7.5px,#fb4903 9.5px,#fbe104 13.5px,#f0fb0f 14.5px,#45fcba 19.5px,#0bfcf4 21.5px,#01d0fe 23.5px,#0066ff 28.5px,#000dfe 34.5px,#0000f4 36.5px,#0000b6 44.5px,#000090 54.5px,#00008f 88.5px)"></i><i style="background:linear-gradient(#800000 0.5px,#830000 2.5px,#ab0000 5.5px,#d00300 7.5px,#d99600 13.5px,#e4a808 14.5px,#ddab20 15.5px,#6dfd92 20.5px,#4efeb1 21.5px,#20d1df 24.5px,#01a5fe 27.5px,#0045ff 32.5px,#001afe 35.5px,#0000da 41.5px,#0000a2 50.5px,#000090 58.5px,#00008f 88.5px)"></i><i style="background:linear-gradient(#800000 0.5px,#810200 12.5px,#900200 13.5px,#f60b01 15.5px,#fdd102 19.5px,#f6f809 20.5px,#3cfec3 25.5px,#04f8fb 27.5px,#0081ff 32.5px,#002bff 37.5px,#0005fe 40.5px,#0000b2 50.5px,#000090 59.5px,#00008f 88.5px)"></i><i style="background:linear-gradient(#800000 0.5px,#800000 12.5px,#870000 13.5px,#bc0400 15.5px,#c03700 17.5px,#f76b00 19.5px,#fc9503 20.5px,#c0ea3f 23.5px,#a9fd56 24.5px,#3efcc1 27.5px,#09d6f6 30.5px,#00adff 32.5px,#0049ff 37.5px,#0013fc 41.5px,#0000e4 45.5px,#0000a8 54.5px,#000090 62.5px,#00008f 88.5px)"></i><i style="background:linear-gradient(#800000 0.5px,#830100 17.5px,#b00100 18.5px,#ed0500 19.5px,#fd3100 20.5px,#fed301 23.5px,#f4f90b 24.5px,#56ffa9 28.5px,#14feeb 30.5px,#01f3fe 31.5px,#007bff 36.5px,#0026ff 41.5px,#0002fd 44.5px,#0000b6 53.5px,#000090 63.5px,#00008f 88.5px)"></i><i style="background:linear-gradient(#800000 0.5px,#800000 17.5px,#930100 19.5px,#980900 20.5px,#c01300 21.5px,#f42100 22.5px,#ff5300 23.5px,#f6b909 25.5px,#eee411 26.5px,#d9fe26 27.5px,#5fffa0 30.5px,#09f3f6 33.5px,#00c4ff 35.5px,#0059ff 40.5px,#0011fd 45.5px,#0000f7 47.5px,#0000b7 55.5px,#000090 65.5px,#00008f 88.5px)"></i><i style="background:linear-gradient(#800000 0.5px,#820000 20.5px,#b20000 21.5px,#ef0600 22.5px,#fd3700 23.5px,#fedc01 26.5px,#eefc11 27.5px,#4cffb3 31.5px,#0bfef4 33.5px,#00d0ff 35.5px,#0061ff 40.5px,#0008ff 46.5px,#0000e8 49.5px,#0000af 57.5px,#00008f 66.5px,#00008f 88.5px)"></i><i style="background:linear-gradient(#800000 0.5px,#820000 22.5px,#a70100 23.5px,#e90400 24.5px,#fe3100 25.5px,#feda01 28.5px,#f0fd0f 29.5px,#4dffb2 33.5px,#0cfef3 35.5px,#00ebff 36.5px,#0089ff 40.5px,#0030ff 45.5px,#0000fb 49.5px,#0000ba 57.5px,#000090 67.5px,#00008f 88.5px)"></i><i style="background:linear-gradient(#800000 0.5px,#800000 22.5px,#990000 23.5px,#c80100 24.5px,#e91f00 25.5px,#fd4b00 26.5px,#ffbc00 28.5px,#f6e609 29.5px,#d8f927 30.5px,#3effc1 34.5px,#1dffe2 35.5px,#01dffe 37.5px,#006cff 42.5px,#001cff 47.5px,#0001f6 50.5px,#0000b7 58.5px,#000090 68.5px,#00008f 88.5px)"></i><i style="background:linear-gradient(#800000 0.5px,#800000 23.5px,#860000 24.5px,#bf0100 25.5px,#f80d00 26.5px,#ffba00 29.5px,#fded02 30.5px,#dffe20 31.5px,#62ff9d 34.5px,#1dffe2 36.5px,#03f9fc 37.5px,#0080ff 42.5px,#0029ff 47.5px,#0004fe 50.5px,#0000b7 59.5px,#00008f 69.5px,#00008f 88.5px)"></i><i style="background:linear-gradient(#800000 0.5px,#820000 24.5px,#a00000 25.5px,#d30600 26.5px,#f72600 27.5px,#ff9800 29.5px,#fece01 30.5px,#eff110 31.5px,#ceff31 32.5px,#54ffab 35.5px,#13fcec 37.5px,#03eefc 38.5px,#0078ff 43.5px,#0024ff 48.5px,#0003fb 51.5px,#0000b5 60.5px,#000090 69.5px,#00008f 88.5px)"></i><i style="background:linear-gradient(#800000 0.5px,#810000 25.5px,#ae0000 26.5px,#ef0600 27.5px,#ff3800 28.5px,#fee301 31.5px,#e9fe16 32.5px,#6aff95 35.5px,#06fcf9 38.5px,#009aff 42.5px,#003bff 47.5px,#0005ff 51.5px,#0000b2 61.5px,#00008f 70.5px,#00008f 88.5px)"></i><i style="background:linear-gradient(#800000 0.5px,#800000 25.5px,#8a0000 26.5px,#c00100 27.5px,#f61000 28.5px,#ff8500 30.5px,#fbed04 32.5px,#dcff23 33.5px,#60ff9f 36.5px,#1bffe4 38.5px,#03f7fc 39.5px,#007eff 44.5px,#0028ff 49.5px,#0003fe 52.5px,#0000b7 61.5px,#00008f 71.5px,#00008f 88.5px)"></i><i style="background:linear-gradient(#800000 0.5px,#820000 26.5px,#b50000 27.5px,#f30800 28.5px,#ff3e00 29.5px,#ffe800 32.5px,#e4ff1b 33.5px,#66ff99 36.5px,#20ffdf 38.5px,#04fbfb 39.5px,#0081ff 44.5px,#002aff 49.5px,#0004ff 52.5px,#0000b7 61.5px,#00008f 71.5px,#00008f 88.5px)"></i><i style="background:linear-gradient(#800000 0.5px,#800000 26.5px,#8e0000 27.5px,#d10100 28.5px,#fd1900 29.5px,#ffca00 32.5px,#f9f706 33.5px,#a5ff5a 35.5px,#33ffcc 38.5px,#13ffec 39.5px,#00f3ff 40.5px,#008eff 44.5px,#0033ff 49.5px,#0001fd 53.5px,#0000bb 61.5px,#000090 71.5px,#00008f 88.5px)"></i><i style="background:linear-gradient(#800000 0.5px,#800000 26.5px,#8b0000 27.5px,#cb0000 28.5px,#fc1500 29.5px,#ffc600 32.5px,#faf505 33.5px,#a8ff57 35.5px,#36ffc9 38.5px,#15ffea 39.5px,#01f4fe 40.5px,#008fff 44.5px,#0034ff 49.5px,#0002fd 53.5px,#0000bb 61.5px,#000090 71.5px,#00008f 88.5px)"></i><i style="background:linear-gradient(#800000 0.5px,#820000 27.5px,#b60000 28.5px,#f50900 29.5px,#ff7e00 31.5px,#feea01 33.5px,#e2ff1d 34.5px,#64ff9b 37.5px,#1effe1 39.5px,#03fafc 40.5px,#0080ff 45.5px,#002aff 50.5px,#0004ff 53.5px,#0000b7 62.5px,#00008f 72.5px,#00008f 88.5px)"></i><i style="background:linear-gradient(#800000 0.5px,#810000 27.5px,#b20000 28.5px,#f20700 29.5px,#ff3d00 30.5px,#fee701 33.5px,#e5ff1a 34.5px,#66ff99 37.5px,#20ffdf 39.5px,#04fbfb 40.5px,#0081ff 45.5px,#002bff 50.5px,#0004ff 53.5px,#0000b7 62.5px,#00008f 72.5px,#00008f 88.5px)"></i><i style="background:linear-gradient(#800000 0.5px,#800000 27.5px,#ae0000 28.5px,#f00500 29.5px,#ff3900 30.5px,#ffe500 33.5px,#e7ff18 34.5px,#68ff97 37.5px,#05fcfa 40.5px,#0083ff 45.5px,#002bff 50.5px,#0005ff 53.5px,#0000b8 62.5px,#00008f 72.5px,#00008f 88.5px)"></i><i style="background:linear-gradient(#800000 0.5px,#820000 27.5px,#b30000 28.5px,#f30700 29.5px,#ff3e00 30.5px,#fee801 33.5px,#e4ff1b 34.5px,#65ff9a 37.5px,#1fffe0 39.5px,#04fbfb 40.5px,#0081ff 45.5px,#002aff 50.5px,#0004ff 53.5px,#0000b7 62.5px,#00008f 72.5px,#00008f 88.5px)"></i><i style="background:linear-gradient(#800000 0.5px,#820000 27.5px,#b70000 28.5px,#f50900 29.5px,#ff7e00 31.5px,#feeb01 33.5px,#e2ff1d 34.5px,#64ff9b 37.5px,#1effe1 39.5px,#03fafc 40.5px,#0080ff 45.5px,#002aff 50.5px,#0004ff 53.5px,#0000b7 62.5px,#00008f 72.5px,#00008f 88.5px)"></i><i style="background:linear-gradient(#800000 0.5px,#800000 26.5px,#8d0000 27.5px,#d00000 28.5px,#fd1800 29.5px,#ffc900 32.5px,#f9f706 33.5px,#a6ff59 35.5px,#33ffcc 38.5px,#13ffec 39.5px,#00f3ff 40.5px,#008eff 44.5px,#0033ff 49.5px,#0001fd 53.5px,#0000bb 61.5px,#000090 71.5px,#00008f 88.5px)"></i><i style="background:linear-gradient(#800000 0.5px,#800000 26.5px,#940000 27.5px,#d60200 28.5px,#fe1f00 29.5px,#ffcf00 32.5px,#f5f80a 33.5px,#53ffac 37.5px,#10feef 39.5px,#00f0ff 40.5px,#008cff 44.5px,#0032ff 49.5px,#0001fc 53.5px,#0000ba 61.5px,#000090 71.5px,#00008f 88.5px)"></i><i style="background:linear-gradient(#800000 0.5px,#820000 26.5px,#b50000 27.5px,#f40800 28.5px,#ff3f00 29.5px,#fee901 32.5px,#e4ff1b 33.5px,#65ff9a 36.5px,#1fffe0 38.5px,#04fbfb 39.5px,#0081ff 44.5px,#002aff 49.5px,#0004ff 52.5px,#0000b7 61.5px,#00008f 71.5px,#00008f 88.5px)"></i><i style="background:linear-gradient(#800000 0.5px,#800000 25.5px,#910000 26.5px,#c90200 27.5px,#f81800 28.5px,#ffc400 31.5px,#f7f008 32.5px,#d6ff29 33.5px,#5affa5 36.5px,#17fee8 38.5px,#03f4fc 39.5px,#007bff 44.5px,#0026ff 49.5px,#0003fd 52.5px,#0000b6 61.5px,#00008f 71.5px,#00008f 88.5px)"></i><i style="background:linear-gradient(#800000 0.5px,#810000 25.5px,#af0000 26.5px,#f00600 27.5px,#ff3900 28.5px,#fee301 31.5px,#e8fe17 32.5px,#6aff95 35.5px,#06fcf9 38.5px,#0084ff 43.5px,#002cff 48.5px,#0005ff 51.5px,#0000b2 61.5px,#00008f 70.5px,#00008f 88.5px)"></i><i style="background:linear-gradient(#800000 0.5px,#830000 24.5px,#aa0000 25.5px,#df0800 26.5px,#fa3000 27.5px,#fed801 30.5px,#eaf515 31.5px,#9aff65 33.5px,#2bffd4 36.5px,#0efcf1 37.5px,#00d0ff 39.5px,#0061ff 44.5px,#0014ff 49.5px,#0002fa 51.5px,#0000b4 60.5px,#000090 69.5px,#00008f 88.5px)"></i><i style="background:linear-gradient(#800000 0.5px,#800000 23.5px,#870000 24.5px,#c00100 25.5px,#f80d00 26.5px,#ffbb00 29.5px,#fded02 30.5px,#deff21 31.5px,#62ff9d 34.5px,#1dffe2 36.5px,#03f9fc 37.5px,#0080ff 42.5px,#0029ff 47.5px,#0004fe 50.5px,#0000b7 59.5px,#00008f 69.5px,#00008f 88.5px)"></i><i style="background:linear-gradient(#800000 0.5px,#800000 22.5px,#9f0000 23.5px,#d80200 24.5px,#f32700 25.5px,#ff9400 27.5px,#ffca00 28.5px,#f3f10c 29.5px,#a6ff59 31.5px,#35ffca 34.5px,#15feea 35.5px,#05effa 36.5px,#007aff 41.5px,#0026ff 46.5px,#0003fc 49.5px,#0000b6 58.5px,#000090 67.5px,#00008f 88.5px)"></i><i style="background:linear-gradient(#800000 0.5px,#800000 20.5px,#940100 22.5px,#b60a00 23.5px,#ed1600 24.5px,#ff4500 25.5px,#fcb403 27.5px,#f4e00b 28.5px,#e1fd1e 29.5px,#66ff99 32.5px,#24fbdb 34.5px,#0af6f5 35.5px,#00c8ff 37.5px,#005bff 42.5px,#0011fe 47.5px,#0000f8 49.5px,#0000b8 57.5px,#000090 67.5px,#00008f 88.5px)"></i><i style="background:linear-gradient(#800000 0.5px,#820000 20.5px,#b20100 21.5px,#f00600 22.5px,#fe3700 23.5px,#fedd01 26.5px,#edfd12 27.5px,#4cffb3 31.5px,#0bfef4 33.5px,#00d0ff 35.5px,#0061ff 40.5px,#0008ff 46.5px,#0000e7 49.5px,#0000ae 57.5px,#00008f 66.5px,#00008f 88.5px)"></i><i style="background:linear-gradient(#800000 0.5px,#800000 17.5px,#a50100 19.5px,#ac1000 20.5px,#f63a00 22.5px,#ff6d00 23.5px,#fca103 24.5px,#dfe920 26.5px,#c7fe38 27.5px,#50ffaf 30.5px,#1bf2e4 32.5px,#07e8f8 33.5px,#00a2ff 36.5px,#0041ff 41.5px,#000dfb 45.5px,#0000e9 48.5px,#0000af 56.5px,#000090 65.5px,#00008f 88.5px)"></i><i style="background:linear-gradient(#800000 0.5px,#830100 17.5px,#b10100 18.5px,#ed0500 19.5px,#fd3100 20.5px,#fed301 23.5px,#f4fa0b 24.5px,#56ffa9 28.5px,#14feeb 30.5px,#01f3fe 31.5px,#007bff 36.5px,#0026ff 41.5px,#0002fd 44.5px,#0000bc 52.5px,#000090 62.5px,#00008f 88.5px)"></i><i style="background:linear-gradient(#800000 0.5px,#800000 12.5px,#870000 13.5px,#bc0400 15.5px,#c03700 17.5px,#f76b00 19.5px,#fc9503 20.5px,#c0ea3f 23.5px,#a9fd56 24.5px,#3efcc1 27.5px,#09d6f6 30.5px,#00adff 32.5px,#0049ff 37.5px,#0013fc 41.5px,#0000e4 45.5px,#0000a8 54.5px,#000090 62.5px,#00008f 88.5px)"></i><i style="background:linear-gradient(#800000 0.5px,#810300 12.5px,#900300 13.5px,#f60c01 15.5px,#fcd103 19.5px,#f5f80a 20.5px,#3cfec3 25.5px,#04f8fb 27.5px,#0081ff 32.5px,#002bff 37.5px,#0005fe 40.5px,#0000b2 50.5px,#000090 59.5px,#00008f 88.5px)"></i><i style="background:linear-gradient(#800000 0.5px,#840000 2.5px,#b50000 5.5px,#e40300 7.5px,#e85a00 10.5px,#ebba00 13.5px,#ebd10a 14.5px,#b9dc46 16.5px,#4bfeb4 20.5px,#2dfed2 21.5px,#17dae8 23.5px,#007cff 28.5px,#0028ff 33.5px,#000ffe 35.5px,#0000c4 43.5px,#000094 53.5px,#00008f 88.5px)"></i><i style="background:linear-gradient(#7f0402 0.5px,#850402 2.5px,#bf0403 5.5px,#f60803 7.5px,#fb4a04 9.5px,#fae204 13.5px,#effc10 14.5px,#44fcbb 19.5px,#0afbf5 21.5px,#00d0ff 23.5px,#0065ff 28.5px,#000dfe 34.5px,#0000f4 36.5px,#0000b6 44.5px,#00008f 54.5px,#00008f 88.5px)"></i><i style="background:linear-gradient(#72f98a 0.5px,#66f997 3.5px,#35fac9 7.5px,#05f7f9 10.5px,#014bfe 20.5px,#000afe 25.5px,#0002e7 28.5px,#0000ab 37.5px,#000090 45.5px,#00008f 88.5px)"></i><i style="background:linear-gradient(#4ca98e 0.5px,#3da99c 4.5px,#01a6d8 10.5px,#0026d9 21.5px,#0000d7 26.5px,#0000a4 36.5px,#00008f 46.5px,#00008f 88.5px)"></i><i style="background:linear-gradient(#02058f 0.5px,#00008f 88.5px)"></i><i style="background:linear-gradient(#39808e 0.5px,#28809f 5.5px,#017dc7 10.5px,#0016c7 22.5px,#0000c5 26.5px,#00009a 38.5px,#00008f 49.5px,#00008f 88.5px)"></i><i style="background:linear-gradient(#72fa8b 0.5px,#65fa98 3.5px,#34faca 7.5px,#04f7fa 10.5px,#004afe 20.5px,#0009fe 25.5px,#0001e7 28.5px,#0000ab 37.5px,#000090 45.5px,#00008f 88.5px)"></i><i style="background:linear-gradient(#7b5630 0.5px,#845634 3.5px,#b65945 7.5px,#a9b156 11.5px,#a8d857 13.5px,#a1e35e 14.5px,#19c1e6 20.5px,#06bcf9 21.5px,#006eff 25.5px,#0023ef 31.5px,#0001e5 35.5px,#0000a9 44.5px,#00008f 55.5px,#00008f 88.5px)"></i><i style="background:linear-gradient(#7f0101 0.5px,#850101 2.5px,#bf0101 5.5px,#f70501 7.5px,#fc4701 9.5px,#fcdf02 13.5px,#f1f90d 14.5px,#47fdb8 19.5px,#0dfdf2 21.5px,#02d2fd 23.5px,#0068ff 28.5px,#000eff 34.5px,#0001f5 36.5px,#0000b7 44.5px,#000090 54.5px,#00008f 88.5px)"></i><i style="background:linear-gradient(#800000 0.5px,#820300 12.5px,#910400 13.5px,#f70c01 15.5px,#fca203 18.5px,#f5f90a 20.5px,#3bfdc4 25.5px,#03f7fc 27.5px,#0080ff 32.5px,#002bff 37.5px,#0005fe 40.5px,#0000b2 50.5px,#00008f 59.5px,#00008f 88.5px)"></i><i style="background:linear-gradient(#800000 0.5px,#800000 12.5px,#8c0000 13.5px,#e20700 15.5px,#f18500 18.5px,#fcad00 19.5px,#f9d606 20.5px,#78fe87 24.5px,#18fbe7 27.5px,#00a7ff 31.5px,#0046ff 36.5px,#000dff 40.5px,#0000d1 46.5px,#00009e 55.5px,#000090 62.5px,#00008f 88.5px)"></i><i style="background:linear-gradient(#800000 0.5px,#830100 17.5px,#b10200 18.5px,#ee0600 19.5px,#fe3300 20.5px,#fdd402 23.5px,#f3fa0c 24.5px,#55ffaa 28.5px,#13feec 30.5px,#01f2fe 31.5px,#007aff 36.5px,#0026ff 41.5px,#0002fd 44.5px,#0000bc 52.5px,#000090 62.5px,#00008f 88.5px)"></i><i style="background:linear-gradient(#800000 0.5px,#810000 17.5px,#b70200 19.5px,#c01800 20.5px,#f85300 22.5px,#ff8600 23.5px,#fab705 24.5px,#d0ef2f 26.5px,#b4fe4b 27.5px,#41ffbe 30.5px,#26f9d9 31.5px,#05defa 33.5px,#005cff 39.5px,#0012fe 44.5px,#0000e5 48.5px,#0000ad 56.5px,#000091 64.5px,#00008f 88.5px)"></i><i style="background:linear-gradient(#800000 0.5px,#830000 20.5px,#b30100 21.5px,#f00600 22.5px,#fe3800 23.5px,#fedd01 26.5px,#edfd12 27.5px,#4cffb3 31.5px,#0bfef4 33.5px,#00d0ff 35.5px,#0061ff 40.5px,#0014ff 45.5px,#0001fb 47.5px,#0000ba 55.5px,#000090 65.5px,#00008f 88.5px)"></i><i style="background:linear-gradient(#800000 0.5px,#800000 20.5px,#a60200 22.5px,#c41300 23.5px,#f12800 24.5px,#ff5900 25.5px,#f9c306 27.5px,#eae615 28.5px,#d3fe2c 29.5px,#5affa5 32.5px,#1cf8e3 34.5px,#08eff7 35.5px,#00a7ff 38.5px,#0045ff 43.5px,#000efe 47.5px,#0000eb 50.5px,#0000b0 58.5px,#000090 67.5px,#00008f 88.5px)"></i><i style="background:linear-gradient(#800000 0.5px,#810000 22.5px,#a60000 23.5px,#e80300 24.5px,#fe2f00 25.5px,#fed901 28.5px,#f1fc0e 29.5px,#4effb1 33.5px,#0cfef3 35.5px,#01ecfe 36.5px,#0075ff 41.5px,#0022ff 46.5px,#0001fb 49.5px,#0000ba 57.5px,#000090 67.5px,#00008f 88.5px)"></i><i style="background:linear-gradient(#800000 0.5px,#800000 22.5px,#970000 24.5px,#ca0800 25.5px,#fa1d00 26.5px,#fdc602 29.5px,#f4f00b 30.5px,#d3ff2c 31.5px,#59ffa6 34.5px,#18fce7 36.5px,#03f3fc 37.5px,#007bff 42.5px,#0026ff 47.5px,#0003fc 50.5px,#0000b6 59.5px,#000090 68.5px,#00008f 88.5px)"></i><i style="background:linear-gradient(#800000 0.5px,#850000 24.5px,#eb0a00 26.5px,#fc3b00 27.5px,#fee201 30.5px,#e5fa1a 31.5px,#46ffb9 35.5px,#09fbf6 37.5px,#00b2ff 40.5px,#004cff 45.5px,#0006ff 50.5px,#0000b3 60.5px,#000090 69.5px,#00008f 88.5px)"></i><i style="background:linear-gradient(#800000 0.5px,#820000 25.5px,#af0000 26.5px,#f00600 27.5px,#ff3900 28.5px,#fee301 31.5px,#e8fe17 32.5px,#69ff96 35.5px,#06fcf9 38.5px,#0084ff 43.5px,#002cff 48.5px,#0005ff 51.5px,#0000b2 61.5px,#00008f 70.5px,#00008f 88.5px)"></i><i style="background:linear-gradient(#800000 0.5px,#800000 25.5px,#9f0000 26.5px,#dc0300 27.5px,#fb2800 28.5px,#ffd400 31.5px,#f0f70f 32.5px,#9eff61 34.5px,#2dffd2 37.5px,#0ffdf0 38.5px,#01edfe 39.5px,#0076ff 44.5px,#0022ff 49.5px,#0001fb 52.5px,#0000ba 60.5px,#000090 70.5px,#00008f 88.5px)"></i><i style="background:linear-gradient(#800000 0.5px,#820000 26.5px,#b50000 27.5px,#f40800 28.5px,#ff3f00 29.5px,#fee901 32.5px,#e3ff1c 33.5px,#65ff9a 36.5px,#1fffe0 38.5px,#04fbfb 39.5px,#0081ff 44.5px,#002aff 49.5px,#0004ff 52.5px,#0000b7 61.5px,#00008f 71.5px,#00008f 88.5px)"></i><i style="background:linear-gradient(#800000 0.5px,#800000 26.5px,#9b0000 27.5px,#dc0300 28.5px,#fe2500 29.5px,#ffd400 32.5px,#f2fa0d 33.5px,#4fffb0 37.5px,#0efdf1 39.5px,#00edff 40.5px,#008aff 44.5px,#0030ff 49.5px,#0001fb 53.5px,#0000ba 61.5px,#000090 71.5px,#00008f 88.5px)"></i><i style="background:linear-gradient(#800000 0.5px,#800000 26.5px,#8d0000 27.5px,#d00000 28.5px,#fd1800 29.5px,#ffc900 32.5px,#f9f706 33.5px,#a6ff59 35.5px,#33ffcc 38.5px,#13ffec 39.5px,#00f3ff 40.5px,#008eff 44.5px,#0033ff 49.5px,#0001fd 53.5px,#0000bb 61.5px,#000090 71.5px,#00008f 88.5px)"></i><i style="background:linear-gradient(#800000 0.5px,#840000 27.5px,#bb0000 28.5px,#f60b00 29.5px,#ff8100 31.5px,#fded02 33.5px,#dfff20 34.5px,#61ff9e 37.5px,#1cffe3 39.5px,#03f9fc 40.5px,#007fff 45.5px,#0029ff 50.5px,#0003fe 53.5px,#0000b7 62.5px,#00008f 72.5px,#00008f 88.5px)"></i><i style="background:linear-gradient(#800000 0.5px,#820000 27.5px,#b60000 28.5px,#f50800 29.5px,#ff4000 30.5px,#feea01 33.5px,#e2ff1d 34.5px,#64ff9b 37.5px,#1effe1 39.5px,#04fafb 40.5px,#0080ff 45.5px,#002aff 50.5px,#0004ff 53.5px,#0000b7 62.5px,#00008f 72.5px,#00008f 88.5px)"></i><i style="background:linear-gradient(#800000 0.5px,#800000 27.5px,#ae0000 28.5px,#f00500 29.5px,#ff3900 30.5px,#ffe500 33.5px,#e7ff18 34.5px,#68ff97 37.5px,#05fcfa 40.5px,#0083ff 45.5px,#002bff 50.5px,#0005ff 53.5px,#0000b8 62.5px,#00008f 72.5px,#00008f 88.5px)"></i><i style="background:linear-gradient(#800000 0.5px,#810000 27.5px,#b00000 28.5px,#f10600 29.5px,#ff3b00 30.5px,#ffe700 33.5px,#e5ff1a 34.5px,#67ff98 37.5px,#05fbfa 40.5px,#0082ff 45.5px,#002bff 50.5px,#0004ff 53.5px,#0000b8 62.5px,#00008f 72.5px,#00008f 88.5px)"></i><i style="background:linear-gradient(#800000 0.5px,#820000 27.5px,#b60000 28.5px,#f50900 29.5px,#ff4000 30.5px,#feea01 33.5px,#e2ff1d 34.5px,#64ff9b 37.5px,#1effe1 39.5px,#03fafc 40.5px,#0080ff 45.5px,#002aff 50.5px,#0004ff 53.5px,#0000b7 62.5px,#00008f 72.5px,#00008f 88.5px)"></i><i style="background:linear-gradient(#800000 0.5px,#800000 26.5px,#880000 27.5px,#c30000 28.5px,#f91000 29.5px,#ffc000 32.5px,#fcf103 33.5px,#daff25 34.5px,#5dffa2 37.5px,#18ffe7 39.5px,#02f7fd 40.5px,#007dff 45.5px,#0027ff 50.5px,#0002fe 53.5px,#0000b6 62.5px,#00008f 72.5px,#00008f 88.5px)"></i><i style="background:linear-gradient(#800000 0.5px,#800000 26.5px,#8e0000 27.5px,#d00000 28.5px,#fd1900 29.5px,#ffca00 32.5px,#f9f706 33.5px,#a5ff5a 35.5px,#33ffcc 38.5px,#13ffec 39.5px,#00f3ff 40.5px,#008eff 44.5px,#0033ff 49.5px,#0001fd 53.5px,#0000bb 61.5px,#000090 71.5px,#00008f 88.5px)"></i><i style="background:linear-gradient(#800000 0.5px,#820000 26.5px,#ae0000 27.5px,#ee0600 28.5px,#ff3800 29.5px,#ffe300 32.5px,#e7fd18 33.5px,#69ff96 36.5px,#07fcf8 39.5px,#0099ff 43.5px,#003bff 48.5px,#0005ff 52.5px,#0000b2 62.5px,#000090 71.5px,#00008f 88.5px)"></i><i style="background:linear-gradient(#800000 0.5px,#830000 26.5px,#b60000 27.5px,#f40900 28.5px,#ff4000 29.5px,#fee901 32.5px,#e3ff1c 33.5px,#65ff9a 36.5px,#1fffe0 38.5px,#04fbfb 39.5px,#0081ff 44.5px,#002aff 49.5px,#0004ff 52.5px,#0000b7 61.5px,#00008f 71.5px,#00008f 88.5px)"></i><i style="background:linear-gradient(#800000 0.5px,#810000 25.5px,#ae0000 26.5px,#ef0500 27.5px,#ff3800 28.5px,#ffe300 31.5px,#e9fe16 32.5px,#6aff95 35.5px,#07fcf8 38.5px,#009aff 42.5px,#003bff 47.5px,#0006ff 51.5px,#0000b2 61.5px,#00008f 70.5px,#00008f 88.5px)"></i><i style="background:linear-gradient(#800000 0.5px,#810000 24.5px,#8c0000 25.5px,#bc0200 26.5px,#f31100 27.5px,#ff4600 28.5px,#ffba00 30.5px,#f9e806 31.5px,#dfff20 32.5px,#62ff9d 35.5px,#1efee1 37.5px,#05f7fa 38.5px,#0080ff 43.5px,#0029ff 48.5px,#0004fe 51.5px,#0000b7 60.5px,#00008f 70.5px,#00008f 88.5px)"></i><i style="background:linear-gradient(#800000 0.5px,#800000 23.5px,#860000 24.5px,#bf0100 25.5px,#f80d00 26.5px,#ffba00 29.5px,#fdec02 30.5px,#dffe20 31.5px,#62ff9d 34.5px,#1dffe2 36.5px,#03fafc 37.5px,#0080ff 42.5px,#002aff 47.5px,#0004ff 50.5px,#0000b7 59.5px,#00008f 69.5px,#00008f 88.5px)"></i><i style="background:linear-gradient(#800000 0.5px,#800000 22.5px,#930000 23.5px,#b70100 24.5px,#df1700 25.5px,#fc3c00 26.5px,#ffae00 28.5px,#f8dc07 29.5px,#e1f61e 30.5px,#93ff6c 32.5px,#25ffda 35.5px,#02e5fd 37.5px,#0071ff 42.5px,#001fff 47.5px,#0002f8 50.5px,#0000b3 59.5px,#000090 68.5px,#00008f 88.5px)"></i><i style="background:linear-gradient(#800000 0.5px,#810000 22.5px,#a70100 23.5px,#e90300 24.5px,#fe3000 25.5px,#fed901 28.5px,#f0fd0f 29.5px,#4dffb2 33.5px,#0cfef3 35.5px,#00ecff 36.5px,#0089ff 40.5px,#0030ff 45.5px,#0000fb 49.5px,#0000ba 57.5px,#000090 67.5px,#00008f 88.5px)"></i><i style="background:linear-gradient(#800000 0.5px,#810000 20.5px,#cb0300 22.5px,#f84d00 24.5px,#ffb700 26.5px,#f4e00b 27.5px,#b6fe49 29.5px,#42ffbd 32.5px,#21fede 33.5px,#04e0fb 35.5px,#006fff 40.5px,#001eff 45.5px,#0003f6 48.5px,#0000b2 57.5px,#000090 66.5px,#00008f 88.5px)"></i><i style="background:linear-gradient(#800000 0.5px,#840100 20.5px,#b40200 21.5px,#f10800 22.5px,#fe3a00 23.5px,#fdde02 26.5px,#ecfd13 27.5px,#6fff90 30.5px,#0bfdf4 33.5px,#00cfff 35.5px,#0060ff 40.5px,#0014ff 45.5px,#0000fb 47.5px,#0000b9 55.5px,#000090 65.5px,#00008f 88.5px)"></i><i style="background:linear-gradient(#800000 0.5px,#820000 17.5px,#b00000 18.5px,#ec0400 19.5px,#fd3000 20.5px,#ffd200 23.5px,#f5f90a 24.5px,#57ffa8 28.5px,#14ffeb 30.5px,#02f3fd 31.5px,#007bff 36.5px,#0027ff 41.5px,#0002fe 44.5px,#0000b6 53.5px,#000090 63.5px,#00008f 88.5px)"></i><i style="background:linear-gradient(#800000 0.5px,#820000 13.5px,#950100 15.5px,#981400 17.5px,#be1d00 18.5px,#f12800 19.5px,#fe5401 20.5px,#e9dc16 23.5px,#dafc25 24.5px,#65fe9a 27.5px,#0ff0f0 30.5px,#00e3ff 31.5px,#006fff 36.5px,#001ffe 41.5px,#0001f8 44.5px,#0000b8 52.5px,#000090 62.5px,#00008f 88.5px)"></i><i style="background:linear-gradient(#800000 0.5px,#800100 12.5px,#8f0100 13.5px,#f60a00 15.5px,#fecf01 19.5px,#f7f708 20.5px,#3dfec2 25.5px,#04f9fb 27.5px,#0082ff 32.5px,#002cff 37.5px,#0005ff 40.5px,#0000b2 50.5px,#000090 59.5px,#00008f 88.5px)"></i><i style="background:linear-gradient(#800000 0.5px,#8d0000 4.5px,#a90100 7.5px,#ab4000 12.5px,#b54d00 13.5px,#d65604 14.5px,#ea5c10 15.5px,#c0e13f 19.5px,#b1fb4e 20.5px,#70f98f 22.5px,#12d8ed 26.5px,#02cefd 27.5px,#0063ff 32.5px,#0026fc 36.5px,#0000e9 41.5px,#0000af 49.5px,#000091 58.5px,#00008f 88.5px)"></i><i style="background:linear-gradient(#7f0302 0.5px,#850302 2.5px,#bf0302 5.5px,#f60702 7.5px,#fb4803 9.5px,#fbe003 13.5px,#f0fa0e 14.5px,#46fdb9 19.5px,#0cfcf3 21.5px,#01d1fe 23.5px,#0066ff 28.5px,#000dfe 34.5px,#0001f5 36.5px,#0000b6 44.5px,#000090 54.5px,#00008f 88.5px)"></i><i style="background:linear-gradient(#77a95d 0.5px,#76a96c 4.5px,#76aa87 7.5px,#57cba8 10.5px,#52caad 14.5px,#037cfc 21.5px,#0030fc 26.5px,#0001cd 35.5px,#00009d 44.5px,#00008f 58.5px,#00008f 88.5px)"></i><i style="background:linear-gradient(#71fa8c 0.5px,#64fa98 3.5px,#33facb 7.5px,#03f6fb 10.5px,#0057fd 19.5px,#0008fd 25.5px,#0001e6 28.5px,#0000aa 37.5px,#000090 45.5px,#00008f 88.5px)"></i><i style="background:linear-gradient(#152e8f 0.5px,#002aa4 11.5px,#0000a3 26.5px,#00008f 48.5px,#00008f 88.5px)"></i><i style="background:linear-gradient(#152e8f 0.5px,#002aa4 11.5px,#0000a3 26.5px,#00008f 48.5px,#00008f 88.5px)"></i><i style="background:linear-gradient(#71fa8c 0.5px,#64fa98 3.5px,#33facb 7.5px,#03f6fb 10.5px,#0057fd 19.5px,#0008fd 25.5px,#0001e6 28.5px,#0000aa 37.5px,#000090 45.5px,#00008f 88.5px)"></i><i style="background:linear-gradient(#77a95d 0.5px,#76a96c 4.5px,#76aa87 7.5px,#57cba8 10.5px,#52caad 14.5px,#037cfc 21.5px,#0030fc 26.5px,#0001cd 35.5px,#00009d 44.5px,#00008f 58.5px,#00008f 88.5px)"></i><i style="background:linear-gradient(#7f0302 0.5px,#850302 2.5px,#bf0302 5.5px,#f70702 7.5px,#fb4803 9.5px,#fbe003 13.5px,#f0fb0e 14.5px,#46fdb9 19.5px,#0bfcf4 21.5px,#01d1fe 23.5px,#0066ff 28.5px,#000dfe 34.5px,#0001f5 36.5px,#0000b6 44.5px,#000090 54.5px,#00008f 88.5px)"></i><i style="background:linear-gradient(#800000 0.5px,#8a0000 3.5px,#bd0200 7.5px,#bf5e00 12.5px,#c77100 13.5px,#dd7f06 14.5px,#e38418 15.5px,#8ffc70 20.5px,#6eff91 21.5px,#2fdcd0 24.5px,#01b9fe 27.5px,#0054ff 32.5px,#001dfa 36.5px,#0000e1 41.5px,#0000a6 50.5px,#00008f 59.5px,#00008f 88.5px)"></i><i style="background:linear-gradient(#800000 0.5px,#810200 12.5px,#900200 13.5px,#f60a00 15.5px,#fdcf02 19.5px,#f7f708 20.5px,#3dfec2 25.5px,#04f9fb 27.5px,#0082ff 32.5px,#002cff 37.5px,#0005ff 40.5px,#0000b2 50.5px,#000090 59.5px,#00008f 88.5px)"></i><i style="background:linear-gradient(#800000 0.5px,#820000 13.5px,#950100 15.5px,#981400 17.5px,#be1d00 18.5px,#f12800 19.5px,#fe5401 20.5px,#e9dc16 23.5px,#dafc25 24.5px,#65fe9a 27.5px,#0ff0f0 30.5px,#00e3ff 31.5px,#006fff 36.5px,#001ffe 41.5px,#0001f8 44.5px,#0000b8 52.5px,#000090 62.5px,#00008f 88.5px)"></i><i style="background:linear-gradient(#800000 0.5px,#820000 17.5px,#b00000 18.5px,#ec0400 19.5px,#fd3000 20.5px,#ffd200 23.5px,#f5f90a 24.5px,#57ffa8 28.5px,#14ffeb 30.5px,#02f3fd 31.5px,#007bff 36.5px,#0027ff 41.5px,#0002fe 44.5px,#0000b6 53.5px,#000090 63.5px,#00008f 88.5px)"></i><i style="background:linear-gradient(#800000 0.5px,#840100 20.5px,#b40200 21.5px,#f10800 22.5px,#fe3a00 23.5px,#fdde02 26.5px,#ecfd13 27.5px,#6fff90 30.5px,#0bfdf4 33.5px,#00cfff 35.5px,#0060ff 40.5px,#0014ff 45.5px,#0000fb 47.5px,#0000b9 55.5px,#000090 65.5px,#00008f 88.5px)"></i><i style="background:linear-gradient(#800000 0.5px,#810000 20.5px,#cb0300 22.5px,#f84d00 24.5px,#ffb700 26.5px,#f4e00b 27.5px,#b6fe49 29.5px,#42ffbd 32.5px,#21fede 33.5px,#04e0fb 35.5px,#006fff 40.5px,#001eff 45.5px,#0003f6 48.5px,#0000b2 57.5px,#000090 66.5px,#00008f 88.5px)"></i><i style="background:linear-gradient(#800000 0.5px,#810000 22.5px,#a70100 23.5px,#e90300 24.5px,#fe3000 25.5px,#fed901 28.5px,#f0fd0f 29.5px,#4dffb2 33.5px,#0cfef3 35.5px,#00ecff 36.5px,#0089ff 40.5px,#0030ff 45.5px,#0000fb 49.5px,#0000ba 57.5px,#000090 67.5px,#00008f 88.5px)"></i><i style="background:linear-gradient(#800000 0.5px,#800000 22.5px,#930000 23.5px,#b70100 24.5px,#df1700 25.5px,#fc3c00 26.5px,#ffae00 28.5px,#f8dc07 29.5px,#e1f61e 30.5px,#93ff6c 32.5px,#25ffda 35.5px,#02e5fd 37.5px,#0071ff 42.5px,#001fff 47.5px,#0002f8 50.5px,#0000b3 59.5px,#000090 68.5px,#00008f 88.5px)"></i><i style="background:linear-gradient(#800000 0.5px,#800000 23.5px,#860000 24.5px,#bf0100 25.5px,#f80d00 26.5px,#ffba00 29.5px,#fdec02 30.5px,#dffe20 31.5px,#62ff9d 34.5px,#1dffe2 36.5px,#03fafc 37.5px,#0080ff 42.5px,#002aff 47.5px,#0004ff 50.5px,#0000b7 59.5px,#00008f 69.5px,#00008f 88.5px)"></i><i style="background:linear-gradient(#800000 0.5px,#810000 24.5px,#8c0000 25.5px,#bc0200 26.5px,#f31100 27.5px,#ff4600 28.5px,#ffba00 30.5px,#f9e806 31.5px,#dfff20 32.5px,#62ff9d 35.5px,#1efee1 37.5px,#05f7fa 38.5px,#0080ff 43.5px,#0029ff 48.5px,#0004fe 51.5px,#0000b7 60.5px,#00008f 70.5px,#00008f 88.5px)"></i><i style="background:linear-gradient(#800000 0.5px,#810000 25.5px,#ae0000 26.5px,#ef0500 27.5px,#ff3800 28.5px,#ffe300 31.5px,#e9fe16 32.5px,#6aff95 35.5px,#07fcf8 38.5px,#009aff 42.5px,#003bff 47.5px,#0006ff 51.5px,#0000b2 61.5px,#00008f 70.5px,#00008f 88.5px)"></i><i style="background:linear-gradient(#800000 0.5px,#830000 26.5px,#b60000 27.5px,#f40900 28.5px,#ff4000 29.5px,#fee901 32.5px,#e3ff1c 33.5px,#65ff9a 36.5px,#1fffe0 38.5px,#04fbfb 39.5px,#0081ff 44.5px,#002aff 49.5px,#0004ff 52.5px,#0000b7 61.5px,#00008f 71.5px,#00008f 88.5px)"></i><i style="background:linear-gradient(#800000 0.5px,#820000 26.5px,#ae0000 27.5px,#ee0600 28.5px,#ff3800 29.5px,#ffe300 32.5px,#e7fd18 33.5px,#69ff96 36.5px,#07fcf8 39.5px,#0099ff 43.5px,#003bff 48.5px,#0005ff 52.5px,#0000b2 62.5px,#000090 71.5px,#00008f 88.5px)"></i><i style="background:linear-gradient(#800000 0.5px,#800000 26.5px,#8e0000 27.5px,#d00000 28.5px,#fd1900 29.5px,#ffca00 32.5px,#f9f706 33.5px,#a5ff5a 35.5px,#33ffcc 38.5px,#13ffec 39.5px,#00f3ff 40.5px,#008eff 44.5px,#0033ff 49.5px,#0001fd 53.5px,#0000bb 61.5px,#000090 71.5px,#00008f 88.5px)"></i><i style="background:linear-gradient(#800000 0.5px,#800000 26.5px,#880000 27.5px,#c30000 28.5px,#f91000 29.5px,#ffc000 32.5px,#fcf103 33.5px,#daff25 34.5px,#5dffa2 37.5px,#18ffe7 39.5px,#02f7fd 40.5px,#007dff 45.5px,#0027ff 50.5px,#0002fe 53.5px,#0000b6 62.5px,#00008f 72.5px,#00008f 88.5px)"></i><i style="background:linear-gradient(#800000 0.5px,#820000 27.5px,#b60000 28.5px,#f50900 29.5px,#ff4000 30.5px,#feea01 33.5px,#e2ff1d 34.5px,#64ff9b 37.5px,#1effe1 39.5px,#03fafc 40.5px,#0080ff 45.5px,#002aff 50.5px,#0004ff 53.5px,#0000b7 62.5px,#00008f 72.5px,#00008f 88.5px)"></i><i style="background:linear-gradient(#800000 0.5px,#810000 27.5px,#b00000 28.5px,#f10600 29.5px,#ff3b00 30.5px,#ffe700 33.5px,#e5ff1a 34.5px,#67ff98 37.5px,#05fbfa 40.5px,#0082ff 45.5px,#002bff 50.5px,#0004ff 53.5px,#0000b8 62.5px,#00008f 72.5px,#00008f 88.5px)"></i><i style="background:linear-gradient(#800000 0.5px,#800000 27.5px,#ae0000 28.5px,#f00500 29.5px,#ff3900 30.5px,#ffe500 33.5px,#e7ff18 34.5px,#68ff97 37.5px,#05fcfa 40.5px,#0083ff 45.5px,#002bff 50.5px,#0005ff 53.5px,#0000b8 62.5px,#00008f 72.5px,#00008f 88.5px)"></i><i style="background:linear-gradient(#800000 0.5px,#820000 27.5px,#b60000 28.5px,#f50800 29.5px,#ff4000 30.5px,#feea01 33.5px,#e2ff1d 34.5px,#64ff9b 37.5px,#1effe1 39.5px,#04fafb 40.5px,#0080ff 45.5px,#002aff 50.5px,#0004ff 53.5px,#0000b7 62.5px,#00008f 72.5px,#00008f 88.5px)"></i><i style="background:linear-gradient(#800000 0.5px,#840000 27.5px,#bb0000 28.5px,#f60b00 29.5px,#ff8100 31.5px,#fded02 33.5px,#dfff20 34.5px,#61ff9e 37.5px,#1cffe3 39.5px,#03f9fc 40.5px,#007fff 45.5px,#0029ff 50.5px,#0003fe 53.5px,#0000b7 62.5px,#00008f 72.5px,#00008f 88.5px)"></i><i style="background:linear-gradient(#800000 0.5px,#800000 26.5px,#8d0000 27.5px,#d00000 28.5px,#fd1800 29.5px,#ffc900 32.5px,#f9f706 33.5px,#a6ff59 35.5px,#33ffcc 38.5px,#13ffec 39.5px,#00f3ff 40.5px,#008eff 44.5px,#0033ff 49.5px,#0001fd 53.5px,#0000bb 61.5px,#000090 71.5px,#00008f 88.5px)"></i><i style="background:linear-gradient(#800000 0.5px,#800000 26.5px,#9b0000 27.5px,#dc0300 28.5px,#fe2500 29.5px,#ffd400 32.5px,#f2fa0d 33.5px,#4fffb0 37.5px,#0efdf1 39.5px,#00edff 40.5px,#008aff 44.5px,#0030ff 49.5px,#0001fb 53.5px,#0000ba 61.5px,#000090 71.5px,#00008f 88.5px)"></i><i style="background:linear-gradient(#800000 0.5px,#820000 26.5px,#b50000 27.5px,#f40800 28.5px,#ff3f00 29.5px,#fee901 32.5px,#e3ff1c 33.5px,#65ff9a 36.5px,#1fffe0 38.5px,#04fbfb 39.5px,#0081ff 44.5px,#002aff 49.5px,#0004ff 52.5px,#0000b7 61.5px,#00008f 71.5px,#00008f 88.5px)"></i><i style="background:linear-gradient(#800000 0.5px,#800000 25.5px,#9f0000 26.5px,#dc0300 27.5px,#fb2800 28.5px,#ffd400 31.5px,#f0f70f 32.5px,#9eff61 34.5px,#2dffd2 37.5px,#0ffdf0 38.5px,#01edfe 39.5px,#0076ff 44.5px,#0022ff 49.5px,#0001fb 52.5px,#0000ba 60.5px,#000090 70.5px,#00008f 88.5px)"></i><i style="background:linear-gradient(#800000 0.5px,#820000 25.5px,#af0000 26.5px,#f00600 27.5px,#ff3900 28.5px,#fee301 31.5px,#e8fe17 32.5px,#69ff96 35.5px,#06fcf9 38.5px,#0084ff 43.5px,#002cff 48.5px,#0005ff 51.5px,#0000b2 61.5px,#00008f 70.5px,#00008f 88.5px)"></i><i style="background:linear-gradient(#800000 0.5px,#850000 24.5px,#eb0a00 26.5px,#fc3b00 27.5px,#fee201 30.5px,#e5fa1a 31.5px,#46ffb9 35.5px,#09fbf6 37.5px,#00b2ff 40.5px,#004cff 45.5px,#0006ff 50.5px,#0000b3 60.5px,#000090 69.5px,#00008f 88.5px)"></i><i style="background:linear-gradient(#800000 0.5px,#800000 22.5px,#970000 24.5px,#ca0800 25.5px,#fa1d00 26.5px,#fdc602 29.5px,#f4f00b 30.5px,#d3ff2c 31.5px,#59ffa6 34.5px,#18fce7 36.5px,#03f3fc 37.5px,#007bff 42.5px,#0026ff 47.5px,#0003fc 50.5px,#0000b6 59.5px,#000090 68.5px,#00008f 88.5px)"></i><i style="background:linear-gradient(#800000 0.5px,#810000 22.5px,#a60000 23.5px,#e80300 24.5px,#fe2f00 25.5px,#fed901 28.5px,#f1fc0e 29.5px,#4effb1 33.5px,#0cfef3 35.5px,#01ecfe 36.5px,#0075ff 41.5px,#0022ff 46.5px,#0001fb 49.5px,#0000ba 57.5px,#000090 67.5px,#00008f 88.5px)"></i><i style="background:linear-gradient(#800000 0.5px,#800000 20.5px,#a60200 22.5px,#c41300 23.5px,#f12800 24.5px,#ff5900 25.5px,#f9c306 27.5px,#eae615 28.5px,#d3fe2c 29.5px,#5affa5 32.5px,#1cf8e3 34.5px,#08eff7 35.5px,#00a7ff 38.5px,#0045ff 43.5px,#000efe 47.5px,#0000eb 50.5px,#0000b0 58.5px,#000090 67.5px,#00008f 88.5px)"></i><i style="background:linear-gradient(#800000 0.5px,#830000 20.5px,#b30100 21.5px,#f00600 22.5px,#fe3800 23.5px,#fedd01 26.5px,#edfd12 27.5px,#4cffb3 31.5px,#0bfef4 33.5px,#00d0ff 35.5px,#0061ff 40.5px,#0014ff 45.5px,#0001fb 47.5px,#0000ba 55.5px,#000090 65.5px,#00008f 88.5px)"></i><i style="background:linear-gradient(#800000 0.5px,#810000 17.5px,#b70200 19.5px,#c01800 20.5px,#f85300 22.5px,#ff8600 23.5px,#fab705 24.5px,#d0ef2f 26.5px,#b4fe4b 27.5px,#41ffbe 30.5px,#26f9d9 31.5px,#05defa 33.5px,#005cff 39.5px,#0012fe 44.5px,#0000e5 48.5px,#0000ad 56.5px,#000091 64.5px,#00008f 88.5px)"></i><i style="background:linear-gradient(#800000 0.5px,#830100 17.5px,#b10200 18.5px,#ee0600 19.5px,#fe3300 20.5px,#fdd402 23.5px,#f3fa0c 24.5px,#55ffaa 28.5px,#13feec 30.5px,#01f2fe 31.5px,#007aff 36.5px,#0026ff 41.5px,#0002fd 44.5px,#0000bc 52.5px,#000090 62.5px,#00008f 88.5px)"></i><i style="background:linear-gradient(#800000 0.5px,#800000 12.5px,#8c0000 13.5px,#e20700 15.5px,#f18500 18.5px,#fcad00 19.5px,#f9d606 20.5px,#78fe87 24.5px,#18fbe7 27.5px,#00a7ff 31.5px,#0046ff 36.5px,#000dff 40.5px,#0000d1 46.5px,#00009e 55.5px,#000090 62.5px,#00008f 88.5px)"></i><i style="background:linear-gradient(#800000 0.5px,#820300 12.5px,#910400 13.5px,#f70c01 15.5px,#fca203 18.5px,#f5f90a 20.5px,#3bfdc4 25.5px,#03f7fc 27.5px,#0080ff 32.5px,#002bff 37.5px,#0005fe 40.5px,#0000b2 50.5px,#00008f 59.5px,#00008f 88.5px)"></i><i style="background:linear-gradient(#7f0101 0.5px,#850101 2.5px,#bf0101 5.5px,#f70501 7.5px,#fc4701 9.5px,#fcdf02 13.5px,#f1f90d 14.5px,#47fdb8 19.5px,#0dfdf2 21.5px,#02d2fd 23.5px,#0068ff 28.5px,#000eff 34.5px,#0001f5 36.5px,#0000b7 44.5px,#000090 54.5px,#00008f 88.5px)"></i><i style="background:linear-gradient(#7b5630 0.5px,#845634 3.5px,#b65945 7.5px,#a9b156 11.5px,#a8d857 13.5px,#a1e35e 14.5px,#19c1e6 20.5px,#06bcf9 21.5px,#006eff 25.5px,#0023ef 31.5px,#0001e5 35.5px,#0000a9 44.5px,#00008f 55.5px,#00008f 88.5px)"></i><i style="background:linear-gradient(#72fa8b 0.5px,#65fa98 3.5px,#34faca 7.5px,#04f7fa 10.5px,#004afe 20.5px,#0009fe 25.5px,#0001e7 28.5px,#0000ab 37.5px,#000090 45.5px,#00008f 88.5px)"></i><i style="background:linear-gradient(#39808e 0.5px,#28809f 5.5px,#017dc7 10.5px,#0016c7 22.5px,#0000c5 26.5px,#00009a 38.5px,#00008f 49.5px,#00008f 88.5px)"></i><i style="background:linear-gradient(#02058f 0.5px,#00008f 88.5px)"></i><i style="background:linear-gradient(#4ca98e 0.5px,#3da99c 4.5px,#01a6d8 10.5px,#0026d9 21.5px,#0000d7 26.5px,#0000a4 36.5px,#00008f 46.5px,#00008f 88.5px)"></i><i style="background:linear-gradient(#72f98a 0.5px,#66f997 3.5px,#35fac9 7.5px,#05f7f9 10.5px,#014bfe 20.5px,#000afe 25.5px,#0002e7 28.5px,#0000ab 37.5px,#000090 45.5px,#00008f 88.5px)"></i><i style="background:linear-gradient(#7f0402 0.5px,#850402 2.5px,#bf0403 5.5px,#f60803 7.5px,#fb4a04 9.5px,#fae204 13.5px,#effc10 14.5px,#44fcbb 19.5px,#0afbf5 21.5px,#00d0ff 23.5px,#0065ff 28.5px,#000dfe 34.5px,#0000f4 36.5px,#0000b6 44.5px,#00008f 54.5px,#00008f 88.5px)"></i><i style="background:linear-gradient(#800000 0.5px,#840000 2.5px,#b50000 5.5px,#e40300 7.5px,#e85a00 10.5px,#ebba00 13.5px,#ebd10a 14.5px,#b9dc46 16.5px,#4bfeb4 20.5px,#2dfed2 21.5px,#17dae8 23.5px,#007cff 28.5px,#0028ff 33.5px,#000ffe 35.5px,#0000c4 43.5px,#000094 53.5px,#00008f 88.5px)"></i><i style="background:linear-gradient(#800000 0.5px,#810300 12.5px,#900300 13.5px,#f60c01 15.5px,#fcd103 19.5px,#f5f80a 20.5px,#3cfec3 25.5px,#04f8fb 27.5px,#0081ff 32.5px,#002bff 37.5px,#0005fe 40.5px,#0000b2 50.5px,#000090 59.5px,#00008f 88.5px)"></i><i style="background:linear-gradient(#800000 0.5px,#800000 12.5px,#870000 13.5px,#bc0400 15.5px,#c03700 17.5px,#f76b00 19.5px,#fc9503 20.5px,#c0ea3f 23.5px,#a9fd56 24.5px,#3efcc1 27.5px,#09d6f6 30.5px,#00adff 32.5px,#0049ff 37.5px,#0013fc 41.5px,#0000e4 45.5px,#0000a8 54.5px,#000090 62.5px,#00008f 88.5px)"></i><i style="background:linear-gradient(#800000 0.5px,#830100 17.5px,#b10100 18.5px,#ed0500 19.5px,#fd3100 20.5px,#fed301 23.5px,#f4fa0b 24.5px,#56ffa9 28.5px,#14feeb 30.5px,#01f3fe 31.5px,#007bff 36.5px,#0026ff 41.5px,#0002fd 44.5px,#0000bc 52.5px,#000090 62.5px,#00008f 88.5px)"></i><i style="background:linear-gradient(#800000 0.5px,#800000 17.5px,#a50100 19.5px,#ac1000 20.5px,#f63a00 22.5px,#ff6d00 23.5px,#fca103 24.5px,#dfe920 26.5px,#c7fe38 27.5px,#50ffaf 30.5px,#1bf2e4 32.5px,#07e8f8 33.5px,#00a2ff 36.5px,#0041ff 41.5px,#000dfb 45.5px,#0000e9 48.5px,#0000af 56.5px,#000090 65.5px,#00008f 88.5px)"></i><i style="background:linear-gradient(#800000 0.5px,#820000 20.5px,#b20100 21.5px,#f00600 22.5px,#fe3700 23.5px,#fedd01 26.5px,#edfd12 27.5px,#4cffb3 31.5px,#0bfef4 33.5px,#00d0ff 35.5px,#0061ff 40.5px,#0008ff 46.5px,#0000e7 49.5px,#0000ae 57.5px,#00008f 66.5px,#00008f 88.5px)"></i><i style="background:linear-gradient(#800000 0.5px,#800000 20.5px,#940100 22.5px,#b60a00 23.5px,#ed1600 24.5px,#ff4500 25.5px,#fcb403 27.5px,#f4e00b 28.5px,#e1fd1e 29.5px,#66ff99 32.5px,#24fbdb 34.5px,#0af6f5 35.5px,#00c8ff 37.5px,#005bff 42.5px,#0011fe 47.5px,#0000f8 49.5px,#0000b8 57.5px,#000090 67.5px,#00008f 88.5px)"></i><i style="background:linear-gradient(#800000 0.5px,#800000 22.5px,#9f0000 23.5px,#d80200 24.5px,#f32700 25.5px,#ff9400 27.5px,#ffca00 28.5px,#f3f10c 29.5px,#a6ff59 31.5px,#35ffca 34.5px,#15feea 35.5px,#05effa 36.5px,#007aff 41.5px,#0026ff 46.5px,#0003fc 49.5px,#0000b6 58.5px,#000090 67.5px,#00008f 88.5px)"></i><i style="background:linear-gradient(#800000 0.5px,#800000 23.5px,#870000 24.5px,#c00100 25.5px,#f80d00 26.5px,#ffbb00 29.5px,#fded02 30.5px,#deff21 31.5px,#62ff9d 34.5px,#1dffe2 36.5px,#03f9fc 37.5px,#0080ff 42.5px,#0029ff 47.5px,#0004fe 50.5px,#0000b7 59.5px,#00008f 69.5px,#00008f 88.5px)"></i><i style="background:linear-gradient(#800000 0.5px,#830000 24.5px,#aa0000 25.5px,#df0800 26.5px,#fa3000 27.5px,#fed801 30.5px,#eaf515 31.5px,#9aff65 33.5px,#2bffd4 36.5px,#0efcf1 37.5px,#00d0ff 39.5px,#0061ff 44.5px,#0014ff 49.5px,#0002fa 51.5px,#0000b4 60.5px,#000090 69.5px,#00008f 88.5px)"></i><i style="background:linear-gradient(#800000 0.5px,#810000 25.5px,#af0000 26.5px,#f00600 27.5px,#ff3900 28.5px,#fee301 31.5px,#e8fe17 32.5px,#6aff95 35.5px,#06fcf9 38.5px,#0084ff 43.5px,#002cff 48.5px,#0005ff 51.5px,#0000b2 61.5px,#00008f 70.5px,#00008f 88.5px)"></i><i style="background:linear-gradient(#800000 0.5px,#800000 25.5px,#910000 26.5px,#c90200 27.5px,#f81800 28.5px,#ffc400 31.5px,#f7f008 32.5px,#d6ff29 33.5px,#5affa5 36.5px,#17fee8 38.5px,#03f4fc 39.5px,#007bff 44.5px,#0026ff 49.5px,#0003fd 52.5px,#0000b6 61.5px,#00008f 71.5px,#00008f 88.5px)"></i><i style="background:linear-gradient(#800000 0.5px,#820000 26.5px,#b50000 27.5px,#f40800 28.5px,#ff3f00 29.5px,#fee901 32.5px,#e4ff1b 33.5px,#65ff9a 36.5px,#1fffe0 38.5px,#04fbfb 39.5px,#0081ff 44.5px,#002aff 49.5px,#0004ff 52.5px,#0000b7 61.5px,#00008f 71.5px,#00008f 88.5px)"></i><i style="background:linear-gradient(#800000 0.5px,#800000 26.5px,#940000 27.5px,#d60200 28.5px,#fe1f00 29.5px,#ffcf00 32.5px,#f5f80a 33.5px,#53ffac 37.5px,#10feef 39.5px,#00f0ff 40.5px,#008cff 44.5px,#0032ff 49.5px,#0001fc 53.5px,#0000ba 61.5px,#000090 71.5px,#00008f 88.5px)"></i><i style="background:linear-gradient(#800000 0.5px,#800000 26.5px,#8d0000 27.5px,#d00000 28.5px,#fd1800 29.5px,#ffc900 32.5px,#f9f706 33.5px,#a6ff59 35.5px,#33ffcc 38.5px,#13ffec 39.5px,#00f3ff 40.5px,#008eff 44.5px,#0033ff 49.5px,#0001fd 53.5px,#0000bb 61.5px,#000090 71.5px,#00008f 88.5px)"></i><i style="background:linear-gradient(#800000 0.5px,#820000 27.5px,#b70000 28.5px,#f50900 29.5px,#ff7e00 31.5px,#feeb01 33.5px,#e2ff1d 34.5px,#64ff9b 37.5px,#1effe1 39.5px,#03fafc 40.5px,#0080ff 45.5px,#002aff 50.5px,#0004ff 53.5px,#0000b7 62.5px,#00008f 72.5px,#00008f 88.5px)"></i><i style="background:linear-gradient(#800000 0.5px,#820000 27.5px,#b30000 28.5px,#f30700 29.5px,#ff3e00 30.5px,#fee801 33.5px,#e4ff1b 34.5px,#65ff9a 37.5px,#1fffe0 39.5px,#04fbfb 40.5px,#0081ff 45.5px,#002aff 50.5px,#0004ff 53.5px,#0000b7 62.5px,#00008f 72.5px,#00008f 88.5px)"></i><i style="background:linear-gradient(#800000 0.5px,#800000 27.5px,#ae0000 28.5px,#f00500 29.5px,#ff3900 30.5px,#ffe500 33.5px,#e7ff18 34.5px,#68ff97 37.5px,#05fcfa 40.5px,#0083ff 45.5px,#002bff 50.5px,#0005ff 53.5px,#0000b8 62.5px,#00008f 72.5px,#00008f 88.5px)"></i><i style="background:linear-gradient(#800000 0.5px,#810000 27.5px,#b20000 28.5px,#f20700 29.5px,#ff3d00 30.5px,#fee701 33.5px,#e5ff1a 34.5px,#66ff99 37.5px,#20ffdf 39.5px,#04fbfb 40.5px,#0081ff 45.5px,#002bff 50.5px,#0004ff 53.5px,#0000b7 62.5px,#00008f 72.5px,#00008f 88.5px)"></i><i style="background:linear-gradient(#800000 0.5px,#820000 27.5px,#b60000 28.5px,#f50900 29.5px,#ff7e00 31.5px,#feea01 33.5px,#e2ff1d 34.5px,#64ff9b 37.5px,#1effe1 39.5px,#03fafc 40.5px,#0080ff 45.5px,#002aff 50.5px,#0004ff 53.5px,#0000b7 62.5px,#00008f 72.5px,#00008f 88.5px)"></i><i style="background:linear-gradient(#800000 0.5px,#800000 26.5px,#8b0000 27.5px,#cb0000 28.5px,#fc1500 29.5px,#ffc600 32.5px,#faf505 33.5px,#a8ff57 35.5px,#36ffc9 38.5px,#15ffea 39.5px,#01f4fe 40.5px,#008fff 44.5px,#0034ff 49.5px,#0002fd 53.5px,#0000bb 61.5px,#000090 71.5px,#00008f 88.5px)"></i><i style="background:linear-gradient(#800000 0.5px,#800000 26.5px,#8e0000 27.5px,#d10100 28.5px,#fd1900 29.5px,#ffca00 32.5px,#f9f706 33.5px,#a5ff5a 35.5px,#33ffcc 38.5px,#13ffec 39.5px,#00f3ff 40.5px,#008eff 44.5px,#0033ff 49.5px,#0001fd 53.5px,#0000bb 61.5px,#000090 71.5px,#00008f 88.5px)"></i><i style="background:linear-gradient(#800000 0.5px,#820000 26.5px,#b50000 27.5px,#f30800 28.5px,#ff3e00 29.5px,#ffe800 32.5px,#e4ff1b 33.5px,#66ff99 36.5px,#20ffdf 38.5px,#04fbfb 39.5px,#0081ff 44.5px,#002aff 49.5px,#0004ff 52.5px,#0000b7 61.5px,#00008f 71.5px,#00008f 88.5px)"></i><i style="background:linear-gradient(#800000 0.5px,#800000 25.5px,#8a0000 26.5px,#c00100 27.5px,#f61000 28.5px,#ff8500 30.5px,#fbed04 32.5px,#dcff23 33.5px,#60ff9f 36.5px,#1bffe4 38.5px,#03f7fc 39.5px,#007eff 44.5px,#0028ff 49.5px,#0003fe 52.5px,#0000b7 61.5px,#00008f 71.5px,#00008f 88.5px)"></i><i style="background:linear-gradient(#800000 0.5px,#810000 25.5px,#ae0000 26.5px,#ef0600 27.5px,#ff3800 28.5px,#fee301 31.5px,#e9fe16 32.5px,#6aff95 35.5px,#06fcf9 38.5px,#009aff 42.5px,#003bff 47.5px,#0005ff 51.5px,#0000b2 61.5px,#00008f 70.5px,#00008f 88.5px)"></i><i style="background:linear-gradient(#800000 0.5px,#820000 24.5px,#a00000 25.5px,#d30600 26.5px,#f72600 27.5px,#ff9800 29.5px,#fece01 30.5px,#eff110 31.5px,#ceff31 32.5px,#54ffab 35.5px,#13fcec 37.5px,#03eefc 38.5px,#0078ff 43.5px,#0024ff 48.5px,#0003fb 51.5px,#0000b5 60.5px,#000090 69.5px,#00008f 88.5px)"></i><i style="background:linear-gradient(#800000 0.5px,#800000 23.5px,#860000 24.5px,#bf0100 25.5px,#f80d00 26.5px,#ffba00 29.5px,#fded02 30.5px,#dffe20 31.5px,#62ff9d 34.5px,#1dffe2 36.5px,#03f9fc 37.5px,#0080ff 42.5px,#0029ff 47.5px,#0004fe 50.5px,#0000b7 59.5px,#00008f 69.5px,#00008f 88.5px)"></i><i style="background:linear-gradient(#800000 0.5px,#800000 22.5px,#990000 23.5px,#c80100 24.5px,#e91f00 25.5px,#fd4b00 26.5px,#ffbc00 28.5px,#f6e609 29.5px,#d8f927 30.5px,#3effc1 34.5px,#1dffe2 35.5px,#01dffe 37.5px,#006cff 42.5px,#001cff 47.5px,#0001f6 50.5px,#0000b7 58.5px,#000090 68.5px,#00008f 88.5px)"></i><i style="background:linear-gradient(#800000 0.5px,#820000 22.5px,#a70100 23.5px,#e90400 24.5px,#fe3100 25.5px,#feda01 28.5px,#f0fd0f 29.5px,#4dffb2 33.5px,#0cfef3 35.5px,#00ebff 36.5px,#0089ff 40.5px,#0030ff 45.5px,#0000fb 49.5px,#0000ba 57.5px,#000090 67.5px,#00008f 88.5px)"></i><i style="background:linear-gradient(#800000 0.5px,#820000 20.5px,#b20000 21.5px,#ef0600 22.5px,#fd3700 23.5px,#fedc01 26.5px,#eefc11 27.5px,#4cffb3 31.5px,#0bfef4 33.5px,#00d0ff 35.5px,#0061ff 40.5px,#0008ff 46.5px,#0000e8 49.5px,#0000af 57.5px,#00008f 66.5px,#00008f 88.5px)"></i><i style="background:linear-gradient(#800000 0.5px,#800000 17.5px,#930100 19.5px,#980900 20.5px,#c01300 21.5px,#f42100 22.5px,#ff5300 23.5px,#f6b909 25.5px,#eee411 26.5px,#d9fe26 27.5px,#5fffa0 30.5px,#09f3f6 33.5px,#00c4ff 35.5px,#0059ff 40.5px,#0011fd 45.5px,#0000f7 47.5px,#0000b7 55.5px,#000090 65.5px,#00008f 88.5px)"></i><i style="background:linear-gradient(#800000 0.5px,#820100 17.5px,#b00100 18.5px,#ed0400 19.5px,#fd3100 20.5px,#fed201 23.5px,#f5f90a 24.5px,#56ffa9 28.5px,#14feeb 30.5px,#01f3fe 31.5px,#007bff 36.5px,#0026ff 41.5px,#0002fe 44.5px,#0000b6 53.5px,#000090 63.5px,#00008f 88.5px)"></i><i style="background:linear-gradient(#800000 0.5px,#850000 13.5px,#a80300 15.5px,#ac2500 17.5px,#f44900 19.5px,#fd7402 20.5px,#d5e32a 23.5px,#c2fc3d 24.5px,#52fdad 27.5px,#0ce3f3 30.5px,#00d4ff 31.5px,#0065ff 36.5px,#0019fd 41.5px,#0001f2 44.5px,#0000b0 53.5px,#000090 62.5px,#00008f 88.5px)"></i><i style="background:linear-gradient(#800000 0.5px,#810200 12.5px,#900200 13.5px,#f60b01 15.5px,#fdd002 19.5px,#f6f709 20.5px,#3cfec3 25.5px,#04f8fb 27.5px,#0081ff 32.5px,#002bff 37.5px,#0005fe 40.5px,#0000b2 50.5px,#000090 59.5px,#00008f 88.5px)"></i><i style="background:linear-gradient(#800000 0.5px,#830000 2.5px,#ab0000 5.5px,#d00300 7.5px,#d99600 13.5px,#e4a808 14.5px,#ddab20 15.5px,#6dfd92 20.5px,#4efeb1 21.5px,#20d1df 24.5px,#01a5fe 27.5px,#0045ff 32.5px,#001afe 35.5px,#0000da 41.5px,#0000a2 50.5px,#000090 58.5px,#00008f 88.5px)"></i><i style="background:linear-gradient(#7f0302 0.5px,#850302 2.5px,#bf0302 5.5px,#f60803 7.5px,#fb4903 9.5px,#fbe104 13.5px,#f0fb0f 14.5px,#45fcba 19.5px,#0bfcf4 21.5px,#01d0fe 23.5px,#0066ff 28.5px,#000dfe 34.5px,#0000f4 36.5px,#0000b6 44.5px,#000090 54.5px,#00008f 88.5px)"></i><i style="background:linear-gradient(#74d174 0.5px,#69d186 4.5px,#49d7b6 8.5px,#2ee1d0 10.5px,#2bbcd4 14.5px,#004eff 22.5px,#0019fb 26.5px,#0000b6 37.5px,#000095 45.5px,#00008f 88.5px)"></i><i style="background:linear-gradient(#5ed18d 0.5px,#4cd19f 4.5px,#02cee9 10.5px,#003ceb 20.5px,#0001e8 26.5px,#0000ae 35.5px,#000090 45.5px,#00008f 88.5px)"></i><i style="background:linear-gradient(#02058f 0.5px,#00008f 88.5px)"></i><i style="background:linear-gradient(#27568e 0.5px,#1156a4 7.5px,#004fb5 11.5px,#0006b5 24.5px,#00009e 34.5px,#00008f 49.5px,#00008f 88.5px)"></i><i style="background:linear-gradient(#71fa8b 0.5px,#65fa98 3.5px,#33faca 7.5px,#03f7fb 10.5px,#0049fd 20.5px,#0008fe 25.5px,#0001e7 28.5px,#0000aa 37.5px,#000090 45.5px,#00008f 88.5px)"></i><i style="background:linear-gradient(#798046 0.5px,#828052 4.5px,#968266 7.5px,#80b47f 10.5px,#7ad685 14.5px,#059cfa 21.5px,#0047fd 26.5px,#0006dd 34.5px,#0000a7 43.5px,#00008f 55.5px,#00008f 88.5px)"></i><i style="background:linear-gradient(#7f0201 0.5px,#850201 2.5px,#bf0201 5.5px,#f70602 7.5px,#fb4702 9.5px,#fbdf02 13.5px,#f1fa0e 14.5px,#47fdb8 19.5px,#0cfdf3 21.5px,#02d1fd 23.5px,#0067ff 28.5px,#000efe 34.5px,#0001f5 36.5px,#0000b7 44.5px,#000090 54.5px,#00008f 88.5px)"></i><i style="background:linear-gradient(#800000 0.5px,#900000 6.5px,#961a00 11.5px,#962100 12.5px,#a32800 13.5px,#f13409 15.5px,#deda21 19.5px,#d3fa2c 20.5px,#8bfc74 22.5px,#16ebe9 26.5px,#02e3fd 27.5px,#0071ff 32.5px,#0030fd 36.5px,#0004f7 40.5px,#0000b3 49.5px,#000091 58.5px,#00008f 88.5px)"></i><i style="background:linear-gradient(#800000 0.5px,#800100 12.5px,#8f0100 13.5px,#f60900 15.5px,#fecf01 19.5px,#f8f607 20.5px,#3dffc2 25.5px,#05f9fa 27.5px,#0083ff 32.5px,#002cff 37.5px,#0006ff 40.5px,#0000b3 50.5px,#000090 59.5px,#00008f 88.5px)"></i><i style="background:linear-gradient(#800000 0.5px,#840200 17.5px,#b20300 18.5px,#ee0700 19.5px,#fe3300 20.5px,#fdd402 23.5px,#f3fa0c 24.5px,#54feab 28.5px,#13fdec 30.5px,#01f2fe 31.5px,#007aff 36.5px,#0026ff 41.5px,#0002fd 44.5px,#0000bb 52.5px,#000090 62.5px,#00008f 88.5px)"></i><i style="background:linear-gradient(#800000 0.5px,#810000 17.5px,#c90200 19.5px,#e54600 21.5px,#fa6c00 22.5px,#ff9f00 23.5px,#f9cd06 24.5px,#c1f43e 26.5px,#a1ff5e 27.5px,#32ffcd 30.5px,#1af7e5 31.5px,#04d4fb 33.5px,#0066ff 38.5px,#0018ff 43.5px,#0003f1 46.5px,#0000b0 55.5px,#000090 64.5px,#00008f 88.5px)"></i><i style="background:linear-gradient(#800000 0.5px,#830100 20.5px,#b30100 21.5px,#f00700 22.5px,#fe3900 23.5px,#fede01 26.5px,#edfd12 27.5px,#4bffb4 31.5px,#0bfdf4 33.5px,#00cfff 35.5px,#0061ff 40.5px,#0014ff 45.5px,#0000fb 47.5px,#0000ba 55.5px,#000090 65.5px,#00008f 88.5px)"></i><i style="background:linear-gradient(#800000 0.5px,#810000 20.5px,#b90300 22.5px,#f43a00 24.5px,#ff6d00 25.5px,#ffa500 26.5px,#f6d109 27.5px,#c4fe3b 29.5px,#4effb1 32.5px,#2cffd3 33.5px,#06e7f9 35.5px,#0062ff 41.5px,#0015ff 46.5px,#0000f1 49.5px,#0000b4 57.5px,#000091 66.5px,#00008f 88.5px)"></i><i style="background:linear-gradient(#800000 0.5px,#810000 22.5px,#a60000 23.5px,#e90300 24.5px,#fe2f00 25.5px,#fed901 28.5px,#f0fc0f 29.5px,#4dffb2 33.5px,#0cfef3 35.5px,#00ecff 36.5px,#0089ff 40.5px,#0030ff 45.5px,#0001fb 49.5px,#0000ba 57.5px,#000090 67.5px,#00008f 88.5px)"></i><i style="background:linear-gradient(#800000 0.5px,#800000 22.5px,#8d0000 23.5px,#a70100 24.5px,#d51000 25.5px,#fb2c00 26.5px,#ffa000 28.5px,#fad105 29.5px,#ebf314 30.5px,#c8ff37 31.5px,#50ffaf 34.5px,#13f9ec 36.5px,#02ecfd 37.5px,#0076ff 42.5px,#0022ff 47.5px,#0002fa 50.5px,#0000b4 59.5px,#000090 68.5px,#00008f 88.5px)"></i><i style="background:linear-gradient(#800000 0.5px,#800000 23.5px,#860000 24.5px,#bf0000 25.5px,#f70c00 26.5px,#ffba00 29.5px,#feec01 30.5px,#dffe20 31.5px,#63ff9c 34.5px,#1effe1 36.5px,#04fafb 37.5px,#0080ff 42.5px,#002aff 47.5px,#0004ff 50.5px,#0000b7 59.5px,#00008f 69.5px,#00008f 88.5px)"></i><i style="background:linear-gradient(#800000 0.5px,#820000 25.5px,#af0000 26.5px,#f00600 27.5px,#ff3a00 28.5px,#fee401 31.5px,#e8ff17 32.5px,#69ff96 35.5px,#06fcf9 38.5px,#0083ff 43.5px,#002cff 48.5px,#0005ff 51.5px,#0000b2 61.5px,#00008f 70.5px,#00008f 88.5px)"></i><i style="background:linear-gradient(#800000 0.5px,#800000 25.5px,#a60000 26.5px,#e60400 27.5px,#fd3000 28.5px,#ffdb00 31.5px,#edfb12 32.5px,#4bffb4 36.5px,#0bfdf4 38.5px,#00ceff 40.5px,#0060ff 45.5px,#0007ff 51.5px,#0000d5 56.5px,#0000a0 65.5px,#00008f 72.5px,#00008f 88.5px)"></i><i style="background:linear-gradient(#800000 0.5px,#830000 26.5px,#b60000 27.5px,#f40800 28.5px,#ff3f00 29.5px,#fee901 32.5px,#e3ff1c 33.5px,#65ff9a 36.5px,#1fffe0 38.5px,#04fbfb 39.5px,#0081ff 44.5px,#002aff 49.5px,#0004ff 52.5px,#0000b7 61.5px,#00008f 71.5px,#00008f 88.5px)"></i><i style="background:linear-gradient(#800000 0.5px,#810000 26.5px,#a10000 27.5px,#e20400 28.5px,#fe2c00 29.5px,#ffd900 32.5px,#eefb11 33.5px,#4cffb3 37.5px,#0bfdf4 39.5px,#00eaff 40.5px,#0088ff 44.5px,#002fff 49.5px,#0001fa 53.5px,#0000b9 61.5px,#000090 71.5px,#00008f 88.5px)"></i><i style="background:linear-gradient(#800000 0.5px,#800000 26.5px,#8d0000 27.5px,#d00000 28.5px,#fd1800 29.5px,#ffca00 32.5px,#f9f706 33.5px,#a5ff5a 35.5px,#33ffcc 38.5px,#13ffec 39.5px,#00f3ff 40.5px,#008eff 44.5px,#0033ff 49.5px,#0001fd 53.5px,#0000bb 61.5px,#000090 71.5px,#00008f 88.5px)"></i><i style="background:linear-gradient(#800000 0.5px,#800000 26.5px,#860000 27.5px,#bf0000 28.5px,#f80e00 29.5px,#ffbd00 32.5px,#fdef02 33.5px,#dcff23 34.5px,#5fffa0 37.5px,#1affe5 39.5px,#02f8fd 40.5px,#007eff 45.5px,#0028ff 50.5px,#0003fe 53.5px,#0000b6 62.5px,#00008f 72.5px,#00008f 88.5px)"></i><i style="background:linear-gradient(#800000 0.5px,#820000 27.5px,#b60000 28.5px,#f50900 29.5px,#ff4000 30.5px,#feea01 33.5px,#e2ff1d 34.5px,#64ff9b 37.5px,#1effe1 39.5px,#03fafc 40.5px,#0080ff 45.5px,#002aff 50.5px,#0004ff 53.5px,#0000b7 62.5px,#00008f 72.5px,#00008f 88.5px)"></i><i style="background:linear-gradient(#800000 0.5px,#800000 27.5px,#ae0000 28.5px,#f00500 29.5px,#ff3900 30.5px,#ffe500 33.5px,#e7ff18 34.5px,#68ff97 37.5px,#05fcfa 40.5px,#0083ff 45.5px,#002bff 50.5px,#0005ff 53.5px,#0000b8 62.5px,#00008f 72.5px,#00008f 88.5px)"></i><i style="background:linear-gradient(#800000 0.5px,#810000 27.5px,#af0000 28.5px,#f10600 29.5px,#ff3a00 30.5px,#ffe600 33.5px,#e6ff19 34.5px,#67ff98 37.5px,#05fcfa 40.5px,#0082ff 45.5px,#002bff 50.5px,#0005ff 53.5px,#0000b8 62.5px,#00008f 72.5px,#00008f 88.5px)"></i><i style="background:linear-gradient(#800000 0.5px,#820000 27.5px,#b60000 28.5px,#f50900 29.5px,#ff4000 30.5px,#feea01 33.5px,#e2ff1d 34.5px,#64ff9b 37.5px,#1effe1 39.5px,#03fafc 40.5px,#0080ff 45.5px,#002aff 50.5px,#0004ff 53.5px,#0000b7 62.5px,#00008f 72.5px,#00008f 88.5px)"></i><i style="background:linear-gradient(#800000 0.5px,#800000 26.5px,#860000 27.5px,#bf0000 28.5px,#f80e00 29.5px,#ffbd00 32.5px,#fdef02 33.5px,#dcff23 34.5px,#5fffa0 37.5px,#1affe5 39.5px,#02f8fd 40.5px,#007eff 45.5px,#0028ff 50.5px,#0003fe 53.5px,#0000b6 62.5px,#00008f 72.5px,#00008f 88.5px)"></i><i style="background:linear-gradient(#800000 0.5px,#800000 26.5px,#8e0000 27.5px,#d00000 28.5px,#fd1800 29.5px,#ffca00 32.5px,#f9f706 33.5px,#a5ff5a 35.5px,#33ffcc 38.5px,#13ffec 39.5px,#00f3ff 40.5px,#008eff 44.5px,#0033ff 49.5px,#0001fd 53.5px,#0000bb 61.5px,#000090 71.5px,#00008f 88.5px)"></i><i style="background:linear-gradient(#800000 0.5px,#810000 26.5px,#a80000 27.5px,#e80500 28.5px,#fe3200 29.5px,#ffde00 32.5px,#ebfc14 33.5px,#48ffb7 37.5px,#09fcf6 39.5px,#00ccff 41.5px,#005eff 46.5px,#0006ff 52.5px,#0000cd 58.5px,#000098 68.5px,#00008f 75.5px,#00008f 88.5px)"></i><i style="background:linear-gradient(#800000 0.5px,#830000 26.5px,#b60000 27.5px,#f40800 28.5px,#ff3f00 29.5px,#fee901 32.5px,#e3ff1c 33.5px,#65ff9a 36.5px,#1fffe0 38.5px,#04fbfb 39.5px,#0081ff 44.5px,#002aff 49.5px,#0004ff 52.5px,#0000b7 61.5px,#00008f 71.5px,#00008f 88.5px)"></i><i style="background:linear-gradient(#800000 0.5px,#810000 25.5px,#a70000 26.5px,#e60400 27.5px,#fd3000 28.5px,#ffdb00 31.5px,#ecfb13 32.5px,#4bffb4 36.5px,#0bfdf4 38.5px,#00ceff 40.5px,#0060ff 45.5px,#0007ff 51.5px,#0000d5 56.5px,#0000a0 65.5px,#00008f 72.5px,#00008f 88.5px)"></i><i style="background:linear-gradient(#800000 0.5px,#810000 24.5px,#8c0000 25.5px,#bb0200 26.5px,#f31100 27.5px,#ff4500 28.5px,#ffba00 30.5px,#f9e806 31.5px,#dfff20 32.5px,#62ff9d 35.5px,#1efee1 37.5px,#05f7fa 38.5px,#0080ff 43.5px,#0029ff 48.5px,#0004fe 51.5px,#0000b7 60.5px,#00008f 70.5px,#00008f 88.5px)"></i><i style="background:linear-gradient(#800000 0.5px,#800000 23.5px,#860000 24.5px,#bf0000 25.5px,#f80c00 26.5px,#ffba00 29.5px,#feec01 30.5px,#dffe20 31.5px,#63ff9c 34.5px,#1dffe2 36.5px,#03fafc 37.5px,#0080ff 42.5px,#002aff 47.5px,#0004ff 50.5px,#0000b7 59.5px,#00008f 69.5px,#00008f 88.5px)"></i><i style="background:linear-gradient(#800000 0.5px,#800000 22.5px,#8d0000 23.5px,#a70100 24.5px,#d51000 25.5px,#fb2c00 26.5px,#ffa000 28.5px,#fad105 29.5px,#ebf314 30.5px,#c8ff37 31.5px,#50ffaf 34.5px,#13f9ec 36.5px,#02ecfd 37.5px,#0076ff 42.5px,#0022ff 47.5px,#0002fa 50.5px,#0000b4 59.5px,#000090 68.5px,#00008f 88.5px)"></i><i style="background:linear-gradient(#800000 0.5px,#810000 22.5px,#a60000 23.5px,#e90300 24.5px,#fe2f00 25.5px,#fed901 28.5px,#f0fc0f 29.5px,#4dffb2 33.5px,#0cfef3 35.5px,#00ecff 36.5px,#0089ff 40.5px,#0030ff 45.5px,#0001fb 49.5px,#0000ba 57.5px,#000090 67.5px,#00008f 88.5px)"></i><i style="background:linear-gradient(#800000 0.5px,#810000 20.5px,#b90300 22.5px,#f43a00 24.5px,#ff6d00 25.5px,#ffa500 26.5px,#f6d109 27.5px,#c4fe3b 29.5px,#4effb1 32.5px,#2cffd3 33.5px,#06e7f9 35.5px,#0062ff 41.5px,#0015ff 46.5px,#0000f1 49.5px,#0000b4 57.5px,#000091 66.5px,#00008f 88.5px)"></i><i style="background:linear-gradient(#800000 0.5px,#840100 20.5px,#b30200 21.5px,#f00700 22.5px,#fe3900 23.5px,#fdde02 26.5px,#ecfd13 27.5px,#4bffb4 31.5px,#0bfdf4 33.5px,#00cfff 35.5px,#0061ff 40.5px,#0014ff 45.5px,#0000fb 47.5px,#0000ba 55.5px,#000090 65.5px,#00008f 88.5px)"></i><i style="background:linear-gradient(#800000 0.5px,#810000 17.5px,#a80000 18.5px,#db0300 19.5px,#e92800 20.5px,#fd8500 22.5px,#ffb900 23.5px,#f7e308 24.5px,#8fff70 27.5px,#23ffdc 30.5px,#0ef5f1 31.5px,#00b2ff 34.5px,#004dff 39.5px,#0007fe 44.5px,#0000b9 53.5px,#000090 63.5px,#00008f 88.5px)"></i><i style="background:linear-gradient(#800000 0.5px,#840200 17.5px,#b20300 18.5px,#ee0700 19.5px,#fe3300 20.5px,#fdd502 23.5px,#f3fb0c 24.5px,#54feab 28.5px,#13fdec 30.5px,#01f2fe 31.5px,#007aff 36.5px,#0026ff 41.5px,#0002fd 44.5px,#0000bb 52.5px,#000090 62.5px,#00008f 88.5px)"></i><i style="background:linear-gradient(#800000 0.5px,#800100 12.5px,#8f0100 13.5px,#f60a00 15.5px,#fecf01 19.5px,#f7f608 20.5px,#3dfec2 25.5px,#05f9fa 27.5px,#0082ff 32.5px,#002cff 37.5px,#0006ff 40.5px,#0000b3 50.5px,#000090 59.5px,#00008f 88.5px)"></i><i style="background:linear-gradient(#800000 0.5px,#8d0000 4.5px,#a90100 7.5px,#ab4000 12.5px,#b54d00 13.5px,#d65604 14.5px,#ea5c10 15.5px,#c0e13f 19.5px,#b1fb4e 20.5px,#70f98f 22.5px,#12d8ed 26.5px,#02cefd 27.5px,#0063ff 32.5px,#0026fc 36.5px,#0000e9 41.5px,#0000af 49.5px,#000091 58.5px,#00008f 88.5px)"></i><i style="background:linear-gradient(#7f0201 0.5px,#850201 2.5px,#bf0201 5.5px,#f70602 7.5px,#fc4802 9.5px,#fce002 13.5px,#f1fa0e 14.5px,#46fdb9 19.5px,#0cfdf3 21.5px,#01d1fe 23.5px,#0067ff 28.5px,#000dfe 34.5px,#0001f5 36.5px,#0000b6 44.5px,#000090 54.5px,#00008f 88.5px)"></i><i style="background:linear-gradient(#798046 0.5px,#828052 4.5px,#968266 7.5px,#80b47f 10.5px,#7ad685 14.5px,#059cfa 21.5px,#0047fd 26.5px,#0006dd 34.5px,#0000a7 43.5px,#00008f 55.5px,#00008f 88.5px)"></i><i style="background:linear-gradient(#71fa8b 0.5px,#65fa98 3.5px,#33faca 7.5px,#03f7fb 10.5px,#0049fd 20.5px,#0008fe 25.5px,#0001e7 28.5px,#0000aa 37.5px,#000090 45.5px,#00008f 88.5px)"></i><i style="background:linear-gradient(#27568e 0.5px,#1156a4 7.5px,#004fb5 11.5px,#0006b5 24.5px,#00009e 34.5px,#00008f 49.5px,#00008f 88.5px)"></i><i style="background:linear-gradient(#02068f 0.5px,#00008f 88.5px)"></i><i style="background:linear-gradient(#71fa8c 0.5px,#64fa99 3.5px,#32facb 7.5px,#02f6fb 10.5px,#0057fd 19.5px,#0007fd 25.5px,#0000e6 28.5px,#0000aa 37.5px,#000090 45.5px,#00008f 88.5px)"></i><i style="background:linear-gradient(#75d274 0.5px,#69d286 4.5px,#49d8b6 8.5px,#2ee1d1 10.5px,#2bbdd4 14.5px,#004eff 22.5px,#0019fc 26.5px,#0000b6 37.5px,#000095 45.5px,#00008f 88.5px)"></i><i style="background:linear-gradient(#7f0302 0.5px,#850302 2.5px,#bf0302 5.5px,#f60803 7.5px,#fb4903 9.5px,#fae004 13.5px,#f0fb0f 14.5px,#45fcba 19.5px,#0bfcf4 21.5px,#01d0fe 23.5px,#0066ff 28.5px,#000dfe 34.5px,#0001f4 36.5px,#0000b6 44.5px,#000090 54.5px,#00008f 88.5px)"></i><i style="background:linear-gradient(#800000 0.5px,#8a0000 3.5px,#bd0200 7.5px,#bf5e00 12.5px,#c77100 13.5px,#dd7f06 14.5px,#e38418 15.5px,#8ffc70 20.5px,#6eff91 21.5px,#2fdcd0 24.5px,#01b9fe 27.5px,#0054ff 32.5px,#001dfa 36.5px,#0000e1 41.5px,#0000a6 50.5px,#00008f 59.5px,#00008f 88.5px)"></i><i style="background:linear-gradient(#800000 0.5px,#810200 12.5px,#900200 13.5px,#f60a00 15.5px,#fdd002 19.5px,#f7f708 20.5px,#3cfec3 25.5px,#04f9fb 27.5px,#0082ff 32.5px,#002cff 37.5px,#0005ff 40.5px,#0000b2 50.5px,#000090 59.5px,#00008f 88.5px)"></i><i style="background:linear-gradient(#800000 0.5px,#850000 13.5px,#a80300 15.5px,#ac2500 17.5px,#f44900 19.5px,#fd7402 20.5px,#d5e32a 23.5px,#c2fc3d 24.5px,#52fdad 27.5px,#0ce3f3 30.5px,#00d4ff 31.5px,#0065ff 36.5px,#0019fd 41.5px,#0001f2 44.5px,#0000b0 53.5px,#000090 62.5px,#00008f 88.5px)"></i><i style="background:linear-gradient(#800000 0.5px,#820100 17.5px,#b00100 18.5px,#ed0400 19.5px,#fd3100 20.5px,#fed201 23.5px,#f5f90a 24.5px,#56ffa9 28.5px,#14feeb 30.5px,#01f3fe 31.5px,#007bff 36.5px,#0026ff 41.5px,#0002fe 44.5px,#0000b6 53.5px,#000090 63.5px,#00008f 88.5px)"></i><i style="background:linear-gradient(#800000 0.5px,#800000 17.5px,#930100 19.5px,#980900 20.5px,#c01300 21.5px,#f32100 22.5px,#ff5300 23.5px,#f6b909 25.5px,#eee411 26.5px,#d9fe26 27.5px,#60ff9f 30.5px,#09f3f6 33.5px,#00c4ff 35.5px,#0059ff 40.5px,#0011fd 45.5px,#0000f7 47.5px,#0000b7 55.5px,#000090 65.5px,#00008f 88.5px)"></i><i style="background:linear-gradient(#800000 0.5px,#820000 20.5px,#aa0000 21.5px,#dd0500 22.5px,#fb5f00 24.5px,#ffca00 26.5px,#f1ee0e 27.5px,#a7ff58 29.5px,#36ffc9 32.5px,#16fee9 33.5px,#02d8fd 35.5px,#0068ff 40.5px,#0019ff 45.5px,#0004fc 47.5px,#0000b6 56.5px,#000091 65.5px,#00008f 88.5px)"></i><i style="background:linear-gradient(#800000 0.5px,#820000 22.5px,#a70100 23.5px,#e90400 24.5px,#fe3000 25.5px,#feda01 28.5px,#f0fd0f 29.5px,#4dffb2 33.5px,#0cfef3 35.5px,#00ecff 36.5px,#0089ff 40.5px,#0030ff 45.5px,#0000fb 49.5px,#0000ba 57.5px,#000090 67.5px,#00008f 88.5px)"></i><i style="background:linear-gradient(#800000 0.5px,#800000 22.5px,#990000 23.5px,#c80100 24.5px,#e91f00 25.5px,#fd4b00 26.5px,#ffbc00 28.5px,#f6e609 29.5px,#d8f927 30.5px,#3effc1 34.5px,#1dffe2 35.5px,#01dffe 37.5px,#006cff 42.5px,#001cff 47.5px,#0001f6 50.5px,#0000b7 58.5px,#000090 68.5px,#00008f 88.5px)"></i><i style="background:linear-gradient(#800000 0.5px,#800000 23.5px,#860000 24.5px,#bf0100 25.5px,#f80d00 26.5px,#ffba00 29.5px,#fded02 30.5px,#dffe20 31.5px,#62ff9d 34.5px,#1dffe2 36.5px,#03f9fc 37.5px,#0080ff 42.5px,#0029ff 47.5px,#0004fe 50.5px,#0000b7 59.5px,#00008f 69.5px,#00008f 88.5px)"></i><i style="background:linear-gradient(#800000 0.5px,#810000 24.5px,#960000 25.5px,#c70400 26.5px,#f51b00 27.5px,#ff8d00 29.5px,#ffc400 30.5px,#f4ed0b 31.5px,#d6ff29 32.5px,#5bffa4 35.5px,#18fde7 37.5px,#04f3fb 38.5px,#007cff 43.5px,#0027ff 48.5px,#0004fc 51.5px,#0000b6 60.5px,#00008f 70.5px,#00008f 88.5px)"></i><i style="background:linear-gradient(#800000 0.5px,#810000 25.5px,#ae0000 26.5px,#ef0500 27.5px,#ff3800 28.5px,#fee301 31.5px,#e9fe16 32.5px,#6aff95 35.5px,#06fcf9 38.5px,#009aff 42.5px,#003bff 47.5px,#0005ff 51.5px,#0000b2 61.5px,#00008f 70.5px,#00008f 88.5px)"></i><i style="background:linear-gradient(#800000 0.5px,#800000 25.5px,#8a0000 26.5px,#c00100 27.5px,#f61000 28.5px,#ff8500 30.5px,#fbed04 32.5px,#dcff23 33.5px,#60ff9f 36.5px,#1bffe4 38.5px,#03f7fc 39.5px,#007eff 44.5px,#0028ff 49.5px,#0003fe 52.5px,#0000b7 61.5px,#00008f 71.5px,#00008f 88.5px)"></i><i style="background:linear-gradient(#800000 0.5px,#820000 26.5px,#b50000 27.5px,#f30800 28.5px,#ff3e00 29.5px,#ffe800 32.5px,#e4ff1b 33.5px,#66ff99 36.5px,#20ffdf 38.5px,#04fbfb 39.5px,#0081ff 44.5px,#002aff 49.5px,#0004ff 52.5px,#0000b7 61.5px,#00008f 71.5px,#00008f 88.5px)"></i><i style="background:linear-gradient(#800000 0.5px,#800000 26.5px,#8e0000 27.5px,#d10100 28.5px,#fd1900 29.5px,#ffca00 32.5px,#f9f706 33.5px,#a5ff5a 35.5px,#33ffcc 38.5px,#13ffec 39.5px,#00f3ff 40.5px,#008eff 44.5px,#0033ff 49.5px,#0001fd 53.5px,#0000bb 61.5px,#000090 71.5px,#00008f 88.5px)"></i><i style="background:linear-gradient(#800000 0.5px,#800000 26.5px,#890000 27.5px,#c70000 28.5px,#fa1300 29.5px,#ffc300 32.5px,#fbf304 33.5px,#d7ff28 34.5px,#5bffa4 37.5px,#17ffe8 39.5px,#01f5fe 40.5px,#007bff 45.5px,#0026ff 50.5px,#0002fe 53.5px,#0000bc 61.5px,#000090 71.5px,#00008f 88.5px)"></i><i style="background:linear-gradient(#800000 0.5px,#820000 27.5px,#b60000 28.5px,#f50900 29.5px,#ff7e00 31.5px,#feea01 33.5px,#e2ff1d 34.5px,#64ff9b 37.5px,#1effe1 39.5px,#03fafc 40.5px,#0080ff 45.5px,#002aff 50.5px,#0004ff 53.5px,#0000b7 62.5px,#00008f 72.5px,#00008f 88.5px)"></i><i style="background:linear-gradient(#800000 0.5px,#810000 27.5px,#b20000 28.5px,#f20700 29.5px,#ff3d00 30.5px,#fee701 33.5px,#e5ff1a 34.5px,#66ff99 37.5px,#20ffdf 39.5px,#04fbfb 40.5px,#0081ff 45.5px,#002bff 50.5px,#0004ff 53.5px,#0000b7 62.5px,#00008f 72.5px,#00008f 88.5px)"></i><i style="background:linear-gradient(#800000 0.5px,#800000 27.5px,#ae0000 28.5px,#f00500 29.5px,#ff3900 30.5px,#ffe500 33.5px,#e7ff18 34.5px,#68ff97 37.5px,#05fcfa 40.5px,#0083ff 45.5px,#002bff 50.5px,#0005ff 53.5px,#0000b8 62.5px,#00008f 72.5px,#00008f 88.5px)"></i><i style="background:linear-gradient(#800000 0.5px,#820000 27.5px,#b50000 28.5px,#f40800 29.5px,#ff3f00 30.5px,#fee901 33.5px,#e3ff1c 34.5px,#65ff9a 37.5px,#1fffe0 39.5px,#04fbfb 40.5px,#0081ff 45.5px,#002aff 50.5px,#0004ff 53.5px,#0000b7 62.5px,#00008f 72.5px,#00008f 88.5px)"></i><i style="background:linear-gradient(#800000 0.5px,#820000 27.5px,#b70000 28.5px,#f50900 29.5px,#ff7e00 31.5px,#feeb01 33.5px,#e2ff1d 34.5px,#64ff9b 37.5px,#1effe1 39.5px,#03fafc 40.5px,#0080ff 45.5px,#002aff 50.5px,#0004ff 53.5px,#0000b7 62.5px,#00008f 72.5px,#00008f 88.5px)"></i><i style="background:linear-gradient(#800000 0.5px,#800000 26.5px,#8d0000 27.5px,#d00000 28.5px,#fd1800 29.5px,#ffc900 32.5px,#f9f706 33.5px,#a6ff59 35.5px,#33ffcc 38.5px,#13ffec 39.5px,#00f3ff 40.5px,#008eff 44.5px,#0033ff 49.5px,#0001fd 53.5px,#0000bb 61.5px,#000090 71.5px,#00008f 88.5px)"></i><i style="background:linear-gradient(#800000 0.5px,#800000 26.5px,#940000 27.5px,#d60200 28.5px,#fe1f00 29.5px,#ffcf00 32.5px,#f5f80a 33.5px,#53ffac 37.5px,#10feef 39.5px,#00f0ff 40.5px,#008cff 44.5px,#0032ff 49.5px,#0001fc 53.5px,#0000ba 61.5px,#000090 71.5px,#00008f 88.5px)"></i><i style="background:linear-gradient(#800000 0.5px,#820000 26.5px,#b50000 27.5px,#f40800 28.5px,#ff3f00 29.5px,#fee901 32.5px,#e3ff1c 33.5px,#65ff9a 36.5px,#1fffe0 38.5px,#04fbfb 39.5px,#0081ff 44.5px,#002aff 49.5px,#0004ff 52.5px,#0000b7 61.5px,#00008f 71.5px,#00008f 88.5px)"></i><i style="background:linear-gradient(#800000 0.5px,#800000 25.5px,#980000 26.5px,#d30300 27.5px,#f92000 28.5px,#ffcc00 31.5px,#f4f40b 32.5px,#cfff30 33.5px,#55ffaa 36.5px,#13feec 38.5px,#02f0fd 39.5px,#0078ff 44.5px,#0024ff 49.5px,#0002fc 52.5px,#0000b5 61.5px,#000090 70.5px,#00008f 88.5px)"></i><i style="background:linear-gradient(#800000 0.5px,#810000 25.5px,#af0000 26.5px,#f00600 27.5px,#ff3900 28.5px,#fee301 31.5px,#e8fe17 32.5px,#6aff95 35.5px,#06fcf9 38.5px,#0084ff 43.5px,#002cff 48.5px,#0005ff 51.5px,#0000b2 61.5px,#00008f 70.5px,#00008f 88.5px)"></i><i style="background:linear-gradient(#800000 0.5px,#830000 24.5px,#aa0000 25.5px,#df0800 26.5px,#fa3000 27.5px,#fed801 30.5px,#eaf515 31.5px,#9aff65 33.5px,#2bffd4 36.5px,#0efcf1 37.5px,#00d0ff 39.5px,#0061ff 44.5px,#0014ff 49.5px,#0002fa 51.5px,#0000b4 60.5px,#000090 69.5px,#00008f 88.5px)"></i><i style="background:linear-gradient(#800000 0.5px,#800000 23.5px,#870000 24.5px,#c00100 25.5px,#f80e00 26.5px,#ffbb00 29.5px,#fded02 30.5px,#deff21 31.5px,#62ff9d 34.5px,#1dffe2 36.5px,#03f9fc 37.5px,#0080ff 42.5px,#0029ff 47.5px,#0004fe 50.5px,#0000b7 59.5px,#00008f 69.5px,#00008f 88.5px)"></i><i style="background:linear-gradient(#800000 0.5px,#800000 22.5px,#a60000 23.5px,#e80200 24.5px,#fe2e00 25.5px,#ffd800 28.5px,#f1fc0e 29.5px,#4effb1 33.5px,#0cfef3 35.5px,#01ecfe 36.5px,#0075ff 41.5px,#0022ff 46.5px,#0001fc 49.5px,#0000ba 57.5px,#000090 67.5px,#00008f 88.5px)"></i><i style="background:linear-gradient(#800000 0.5px,#800000 20.5px,#940100 22.5px,#b60a00 23.5px,#ed1600 24.5px,#ff4500 25.5px,#fcb403 27.5px,#f4e00b 28.5px,#e1fd1e 29.5px,#65ff9a 32.5px,#23fbdc 34.5px,#0af6f5 35.5px,#00c8ff 37.5px,#005bff 42.5px,#0011fe 47.5px,#0000f8 49.5px,#0000b8 57.5px,#000090 67.5px,#00008f 88.5px)"></i><i style="background:linear-gradient(#800000 0.5px,#820000 20.5px,#b20100 21.5px,#f00600 22.5px,#fe3700 23.5px,#fedd01 26.5px,#edfd12 27.5px,#4cffb3 31.5px,#0bfef4 33.5px,#00d0ff 35.5px,#0061ff 40.5px,#0008ff 46.5px,#0000e7 49.5px,#0000ae 57.5px,#00008f 66.5px,#00008f 88.5px)"></i><i style="background:linear-gradient(#800000 0.5px,#800000 17.5px,#a50100 19.5px,#ac1000 20.5px,#f63a00 22.5px,#ff6d00 23.5px,#fca103 24.5px,#dfe920 26.5px,#c7fe38 27.5px,#50ffaf 30.5px,#1bf2e4 32.5px,#07e8f8 33.5px,#00a2ff 36.5px,#0041ff 41.5px,#000dfb 45.5px,#0000e9 48.5px,#0000af 56.5px,#000090 65.5px,#00008f 88.5px)"></i><i style="background:linear-gradient(#800000 0.5px,#830100 17.5px,#b10200 18.5px,#ed0500 19.5px,#fd3200 20.5px,#fdd302 23.5px,#f4fa0b 24.5px,#55ffaa 28.5px,#14feeb 30.5px,#01f2fe 31.5px,#007aff 36.5px,#0026ff 41.5px,#0002fd 44.5px,#0000bc 52.5px,#000090 62.5px,#00008f 88.5px)"></i><i style="background:linear-gradient(#800000 0.5px,#800000 12.5px,#8a0000 13.5px,#cf0600 15.5px,#d54900 17.5px,#f98c00 19.5px,#fab504 20.5px,#acf153 23.5px,#91fe6e 24.5px,#2bfbd4 27.5px,#00b6ff 31.5px,#0050ff 36.5px,#0015ff 40.5px,#0000df 45.5px,#0000a5 54.5px,#000090 62.5px,#00008f 88.5px)"></i><i style="background:linear-gradient(#800000 0.5px,#810300 12.5px,#900300 13.5px,#f70c01 15.5px,#fca202 18.5px,#f5f80a 20.5px,#3bfec4 25.5px,#03f8fc 27.5px,#0081ff 32.5px,#002bff 37.5px,#0005fe 40.5px,#0000b2 50.5px,#000090 59.5px,#00008f 88.5px)"></i><i style="background:linear-gradient(#7f0100 0.5px,#840100 2.5px,#b50100 5.5px,#e40401 7.5px,#e85a01 10.5px,#eaba01 13.5px,#ebd00a 14.5px,#b9db46 16.5px,#4bfeb4 20.5px,#2dfed2 21.5px,#17dae8 23.5px,#007cff 28.5px,#0028ff 33.5px,#000ffe 35.5px,#0000c3 43.5px,#000094 53.5px,#00008f 88.5px)"></i><i style="background:linear-gradient(#7d2d19 0.5px,#812d1a 2.5px,#ad2d1f 5.5px,#d63124 7.5px,#d1dc2d 13.5px,#c8ef37 14.5px,#20dfdf 20.5px,#08dbf7 21.5px,#00b3ff 23.5px,#0064fd 27.5px,#0015f4 33.5px,#0002f1 35.5px,#0000b0 44.5px,#00008f 54.5px,#00008f 88.5px)"></i><i style="background:linear-gradient(#72fa8b 0.5px,#66fa97 3.5px,#35faca 7.5px,#05f7fa 10.5px,#014afe 20.5px,#0009fe 25.5px,#0001e7 28.5px,#0000ab 37.5px,#000090 45.5px,#00008f 88.5px)"></i><i style="background:linear-gradient(#4ca98e 0.5px,#3da99c 4.5px,#01a6d8 10.5px,#0026d9 21.5px,#0000d7 26.5px,#0000a4 36.5px,#00008f 46.5px,#00008f 88.5px)"></i><i style="background:linear-gradient(#02058f 0.5px,#00008f 88.5px)"></i><i style="background:linear-gradient(#39808e 0.5px,#28809f 5.5px,#017dc7 10.5px,#0016c7 22.5px,#0000c5 26.5px,#00009a 38.5px,#00008f 49.5px,#00008f 88.5px)"></i><i style="background:linear-gradient(#72f98b 0.5px,#65f997 3.5px,#35fac9 7.5px,#05f6f9 10.5px,#014afe 20.5px,#0009fe 25.5px,#0001e7 28.5px,#0000ab 37.5px,#000090 45.5px,#00008f 88.5px)"></i><i style="background:linear-gradient(#7d2d19 0.5px,#812d1a 2.5px,#ad2d1f 5.5px,#d63124 7.5px,#d2dd2d 13.5px,#c8f037 14.5px,#1fdfe0 20.5px,#08dbf7 21.5px,#00b2ff 23.5px,#0064fd 27.5px,#0015f4 33.5px,#0002f1 35.5px,#0000af 44.5px,#00008f 54.5px,#00008f 88.5px)"></i><i style="background:linear-gradient(#7f0100 0.5px,#850100 2.5px,#bf0100 5.5px,#f70501 7.5px,#fc4601 9.5px,#fcdf01 13.5px,#f2f90c 14.5px,#48feb7 19.5px,#0dfef2 21.5px,#02d3fd 23.5px,#0068ff 28.5px,#000eff 34.5px,#0001f5 36.5px,#0000b7 44.5px,#000090 54.5px,#00008f 88.5px)"></i><i style="background:linear-gradient(#800000 0.5px,#820300 12.5px,#910400 13.5px,#f60c01 15.5px,#fca203 18.5px,#f5f80a 20.5px,#3bfdc4 25.5px,#03f7fc 27.5px,#0080ff 32.5px,#002bff 37.5px,#0005fe 40.5px,#0000b2 50.5px,#000090 59.5px,#00008f 88.5px)"></i><i style="background:linear-gradient(#800000 0.5px,#800000 12.5px,#8a0000 13.5px,#cf0600 15.5px,#d54900 17.5px,#f98c00 19.5px,#fab504 20.5px,#acf153 23.5px,#91fe6e 24.5px,#2bfbd4 27.5px,#00b6ff 31.5px,#0050ff 36.5px,#0015ff 40.5px,#0000df 45.5px,#0000a5 54.5px,#000090 62.5px,#00008f 88.5px)"></i><i style="background:linear-gradient(#800000 0.5px,#830100 17.5px,#b10200 18.5px,#ed0500 19.5px,#fe3200 20.5px,#fdd402 23.5px,#f4fa0b 24.5px,#55ffaa 28.5px,#13feec 30.5px,#01f2fe 31.5px,#007aff 36.5px,#0026ff 41.5px,#0002fd 44.5px,#0000bc 52.5px,#000090 62.5px,#00008f 88.5px)"></i><i style="background:linear-gradient(#800000 0.5px,#810000 17.5px,#b70200 19.5px,#c01800 20.5px,#f85300 22.5px,#ff8600 23.5px,#fab705 24.5px,#d0ef2f 26.5px,#b4fe4b 27.5px,#41ffbe 30.5px,#26f9d9 31.5px,#05defa 33.5px,#005cff 39.5px,#0012fe 44.5px,#0000e5 48.5px,#0000ad 56.5px,#000091 64.5px,#00008f 88.5px)"></i><i style="background:linear-gradient(#800000 0.5px,#830000 20.5px,#b30100 21.5px,#f00600 22.5px,#fe3800 23.5px,#fedd01 26.5px,#edfd12 27.5px,#4cffb3 31.5px,#0bfef4 33.5px,#00d0ff 35.5px,#0061ff 40.5px,#0014ff 45.5px,#0001fb 47.5px,#0000ba 55.5px,#000090 65.5px,#00008f 88.5px)"></i><i style="background:linear-gradient(#800000 0.5px,#800000 20.5px,#a60200 22.5px,#c41300 23.5px,#f12800 24.5px,#ff5900 25.5px,#f9c306 27.5px,#eae615 28.5px,#d3fe2c 29.5px,#5affa5 32.5px,#1cf8e3 34.5px,#08eff7 35.5px,#00a7ff 38.5px,#0045ff 43.5px,#000efe 47.5px,#0000eb 50.5px,#0000b0 58.5px,#000090 67.5px,#00008f 88.5px)"></i><i style="background:linear-gradient(#800000 0.5px,#810000 22.5px,#a60000 23.5px,#e80300 24.5px,#fe2f00 25.5px,#fed801 28.5px,#f1fc0e 29.5px,#4effb1 33.5px,#0cfef3 35.5px,#01ecfe 36.5px,#0075ff 41.5px,#0022ff 46.5px,#0001fb 49.5px,#0000ba 57.5px,#000090 67.5px,#00008f 88.5px)"></i><i style="background:linear-gradient(#800000 0.5px,#800000 23.5px,#870000 24.5px,#c00100 25.5px,#f80e00 26.5px,#ffbb00 29.5px,#fded02 30.5px,#deff21 31.5px,#62ff9d 34.5px,#1dffe2 36.5px,#03f9fc 37.5px,#007fff 42.5px,#0029ff 47.5px,#0004fe 50.5px,#0000b7 59.5px,#00008f 69.5px,#00008f 88.5px)"></i><i style="background:linear-gradient(#800000 0.5px,#840000 24.5px,#eb0a00 26.5px,#fc3b00 27.5px,#fee201 30.5px,#e5fa1a 31.5px,#46ffb9 35.5px,#09fbf6 37.5px,#00b2ff 40.5px,#004cff 45.5px,#0006ff 50.5px,#0000b3 60.5px,#000090 69.5px,#00008f 88.5px)"></i><i style="background:linear-gradient(#800000 0.5px,#820000 25.5px,#af0000 26.5px,#f00600 27.5px,#ff3900 28.5px,#fee301 31.5px,#e8fe17 32.5px,#69ff96 35.5px,#06fcf9 38.5px,#0084ff 43.5px,#002cff 48.5px,#0005ff 51.5px,#0000b2 61.5px,#00008f 70.5px,#00008f 88.5px)"></i><i style="background:linear-gradient(#800000 0.5px,#800000 25.5px,#980000 26.5px,#d30300 27.5px,#f92000 28.5px,#ffcc00 31.5px,#f4f40b 32.5px,#cfff30 33.5px,#55ffaa 36.5px,#13feec 38.5px,#02f0fd 39.5px,#0078ff 44.5px,#0024ff 49.5px,#0002fc 52.5px,#0000b5 61.5px,#000090 70.5px,#00008f 88.5px)"></i><i style="background:linear-gradient(#800000 0.5px,#820000 26.5px,#b50000 27.5px,#f40800 28.5px,#ff3f00 29.5px,#fee901 32.5px,#e3ff1c 33.5px,#65ff9a 36.5px,#1fffe0 38.5px,#04fbfb 39.5px,#0081ff 44.5px,#002aff 49.5px,#0004ff 52.5px,#0000b7 61.5px,#00008f 71.5px,#00008f 88.5px)"></i><i style="background:linear-gradient(#800000 0.5px,#800000 26.5px,#9b0000 27.5px,#dc0300 28.5px,#fe2500 29.5px,#ffd400 32.5px,#f2fa0d 33.5px,#4fffb0 37.5px,#0efdf1 39.5px,#00edff 40.5px,#008aff 44.5px,#0030ff 49.5px,#0001fb 53.5px,#0000ba 61.5px,#000090 71.5px,#00008f 88.5px)"></i><i style="background:linear-gradient(#800000 0.5px,#800000 26.5px,#8d0000 27.5px,#d00000 28.5px,#fd1800 29.5px,#ffc900 32.5px,#f9f706 33.5px,#a6ff59 35.5px,#33ffcc 38.5px,#13ffec 39.5px,#00f3ff 40.5px,#008eff 44.5px,#0033ff 49.5px,#0001fd 53.5px,#0000bb 61.5px,#000090 71.5px,#00008f 88.5px)"></i><i style="background:linear-gradient(#800000 0.5px,#840000 27.5px,#bb0000 28.5px,#f60b00 29.5px,#ff8100 31.5px,#fded02 33.5px,#dfff20 34.5px,#61ff9e 37.5px,#1cffe3 39.5px,#03f9fc 40.5px,#007fff 45.5px,#0029ff 50.5px,#0003fe 53.5px,#0000b7 62.5px,#00008f 72.5px,#00008f 88.5px)"></i><i style="background:linear-gradient(#800000 0.5px,#820000 27.5px,#b50000 28.5px,#f40800 29.5px,#ff3f00 30.5px,#fee901 33.5px,#e3ff1c 34.5px,#65ff9a 37.5px,#1fffe0 39.5px,#04fbfb 40.5px,#0081ff 45.5px,#002aff 50.5px,#0004ff 53.5px,#0000b7 62.5px,#00008f 72.5px,#00008f 88.5px)"></i><i style="background:linear-gradient(#800000 0.5px,#800000 27.5px,#ae0000 28.5px,#f00500 29.5px,#ff3900 30.5px,#ffe500 33.5px,#e7ff18 34.5px,#68ff97 37.5px,#05fcfa 40.5px,#0083ff 45.5px,#002bff 50.5px,#0005ff 53.5px,#0000b8 62.5px,#00008f 72.5px,#00008f 88.5px)"></i><i style="background:linear-gradient(#800000 0.5px,#810000 27.5px,#b00000 28.5px,#f10600 29.5px,#ff3b00 30.5px,#ffe700 33.5px,#e5ff1a 34.5px,#67ff98 37.5px,#05fbfa 40.5px,#0082ff 45.5px,#002bff 50.5px,#0004ff 53.5px,#0000b8 62.5px,#00008f 72.5px,#00008f 88.5px)"></i><i style="background:linear-gradient(#800000 0.5px,#820000 27.5px,#b60000 28.5px,#f50900 29.5px,#ff7e00 31.5px,#feea01 33.5px,#e2ff1d 34.5px,#64ff9b 37.5px,#1effe1 39.5px,#03fafc 40.5px,#0080ff 45.5px,#002aff 50.5px,#0004ff 53.5px,#0000b7 62.5px,#00008f 72.5px,#00008f 88.5px)"></i><i style="background:linear-gradient(#800000 0.5px,#800000 26.5px,#890000 27.5px,#c70000 28.5px,#fa1300 29.5px,#ffc300 32.5px,#fbf304 33.5px,#d7ff28 34.5px,#5bffa4 37.5px,#17ffe8 39.5px,#01f5fe 40.5px,#007bff 45.5px,#0026ff 50.5px,#0002fe 53.5px,#0000bc 61.5px,#000090 71.5px,#00008f 88.5px)"></i><i style="background:linear-gradient(#800000 0.5px,#800000 26.5px,#8e0000 27.5px,#d00000 28.5px,#fd1900 29.5px,#ffca00 32.5px,#f9f706 33.5px,#a5ff5a 35.5px,#33ffcc 38.5px,#13ffec 39.5px,#00f3ff 40.5px,#008eff 44.5px,#0033ff 49.5px,#0001fd 53.5px,#0000bb 61.5px,#000090 71.5px,#00008f 88.5px)"></i><i style="background:linear-gradient(#800000 0.5px,#820000 26.5px,#ae0000 27.5px,#ee0700 28.5px,#ff3800 29.5px,#ffe300 32.5px,#e7fd18 33.5px,#69ff96 36.5px,#07fcf8 39.5px,#0099ff 43.5px,#003bff 48.5px,#0005ff 52.5px,#0000b2 62.5px,#000090 71.5px,#00008f 88.5px)"></i><i style="background:linear-gradient(#800000 0.5px,#800000 25.5px,#8a0000 26.5px,#bf0100 27.5px,#f61000 28.5px,#ff8500 30.5px,#fbed04 32.5px,#dcff23 33.5px,#60ff9f 36.5px,#1bffe4 38.5px,#03f7fc 39.5px,#007eff 44.5px,#0028ff 49.5px,#0003fe 52.5px,#0000b7 61.5px,#00008f 71.5px,#00008f 88.5px)"></i><i style="background:linear-gradient(#800000 0.5px,#810000 25.5px,#ae0000 26.5px,#ef0500 27.5px,#ff3800 28.5px,#fee301 31.5px,#e9fe16 32.5px,#6aff95 35.5px,#06fcf9 38.5px,#009aff 42.5px,#003bff 47.5px,#0005ff 51.5px,#0000b2 61.5px,#00008f 70.5px,#00008f 88.5px)"></i><i style="background:linear-gradient(#800000 0.5px,#810000 24.5px,#960000 25.5px,#c70400 26.5px,#f51b00 27.5px,#ff8d00 29.5px,#ffc400 30.5px,#f4ed0b 31.5px,#d6ff29 32.5px,#5bffa4 35.5px,#18fde7 37.5px,#04f3fb 38.5px,#007cff 43.5px,#0027ff 48.5px,#0004fc 51.5px,#0000b6 60.5px,#00008f 70.5px,#00008f 88.5px)"></i><i style="background:linear-gradient(#800000 0.5px,#800000 23.5px,#860000 24.5px,#bf0100 25.5px,#f80d00 26.5px,#ffba00 29.5px,#fded02 30.5px,#dffe20 31.5px,#62ff9d 34.5px,#1dffe2 36.5px,#03fafc 37.5px,#0080ff 42.5px,#002aff 47.5px,#0004ff 50.5px,#0000b7 59.5px,#00008f 69.5px,#00008f 88.5px)"></i><i style="background:linear-gradient(#800000 0.5px,#800000 22.5px,#930000 23.5px,#b70100 24.5px,#df1700 25.5px,#fc3c00 26.5px,#ffae00 28.5px,#f8dc07 29.5px,#e1f61e 30.5px,#93ff6c 32.5px,#25ffda 35.5px,#02e5fd 37.5px,#0071ff 42.5px,#001fff 47.5px,#0002f8 50.5px,#0000b3 59.5px,#000090 68.5px,#00008f 88.5px)"></i><i style="background:linear-gradient(#800000 0.5px,#820000 22.5px,#a70100 23.5px,#e90400 24.5px,#fe3000 25.5px,#fed901 28.5px,#f0fd0f 29.5px,#4dffb2 33.5px,#0cfef3 35.5px,#00ecff 36.5px,#0089ff 40.5px,#0030ff 45.5px,#0000fb 49.5px,#0000ba 57.5px,#000090 67.5px,#00008f 88.5px)"></i><i style="background:linear-gradient(#800000 0.5px,#810000 20.5px,#aa0000 21.5px,#dd0400 22.5px,#fb5f00 24.5px,#ffca00 26.5px,#f1ee0e 27.5px,#a7ff58 29.5px,#36ffc9 32.5px,#16fee9 33.5px,#02d8fd 35.5px,#0068ff 40.5px,#0019ff 45.5px,#0004fc 47.5px,#0000b6 56.5px,#000091 65.5px,#00008f 88.5px)"></i><i style="background:linear-gradient(#800000 0.5px,#840100 20.5px,#b40200 21.5px,#f10800 22.5px,#ff3a00 23.5px,#fddf02 26.5px,#ecfe13 27.5px,#6fff90 30.5px,#0afdf5 33.5px,#00cfff 35.5px,#0060ff 40.5px,#0014ff 45.5px,#0000fb 47.5px,#0000b9 55.5px,#000090 65.5px,#00008f 88.5px)"></i><i style="background:linear-gradient(#800000 0.5px,#820100 17.5px,#b00100 18.5px,#ec0400 19.5px,#fd3100 20.5px,#fed201 23.5px,#f5f90a 24.5px,#57ffa8 28.5px,#14feeb 30.5px,#02f3fd 31.5px,#007bff 36.5px,#0027ff 41.5px,#0002fe 44.5px,#0000b6 53.5px,#000090 63.5px,#00008f 88.5px)"></i><i style="background:linear-gradient(#800000 0.5px,#850000 13.5px,#a80300 15.5px,#ac2500 17.5px,#f44900 19.5px,#fd7402 20.5px,#d5e32a 23.5px,#c2fc3d 24.5px,#52fdad 27.5px,#0ce3f3 30.5px,#00d4ff 31.5px,#0065ff 36.5px,#0019fd 41.5px,#0001f2 44.5px,#0000b0 53.5px,#000090 62.5px,#00008f 88.5px)"></i><i style="background:linear-gradient(#800000 0.5px,#810200 12.5px,#900200 13.5px,#f60a00 15.5px,#fdd002 19.5px,#f7f708 20.5px,#3cfec3 25.5px,#04f9fb 27.5px,#0082ff 32.5px,#002cff 37.5px,#0005ff 40.5px,#0000b2 50.5px,#000090 59.5px,#00008f 88.5px)"></i><i style="background:linear-gradient(#800000 0.5px,#8a0000 3.5px,#bd0200 7.5px,#bf5e00 12.5px,#c77100 13.5px,#dd7f06 14.5px,#e38418 15.5px,#8ffc70 20.5px,#6eff91 21.5px,#2fdcd0 24.5px,#01b9fe 27.5px,#0054ff 32.5px,#001dfa 36.5px,#0000e1 41.5px,#0000a6 50.5px,#00008f 59.5px,#00008f 88.5px)"></i><i style="background:linear-gradient(#7f0302 0.5px,#850302 2.5px,#bf0302 5.5px,#f70702 7.5px,#fb4803 9.5px,#fbe003 13.5px,#f0fb0e 14.5px,#46fdb9 19.5px,#0bfcf4 21.5px,#01d1fe 23.5px,#0066ff 28.5px,#000dfe 34.5px,#0001f5 36.5px,#0000b6 44.5px,#000090 54.5px,#00008f 88.5px)"></i><i style="background:linear-gradient(#77a95d 0.5px,#76a96c 4.5px,#76aa87 7.5px,#57cba8 10.5px,#52caad 14.5px,#037cfc 21.5px,#0030fc 26.5px,#0001cd 35.5px,#00009d 44.5px,#00008f 58.5px,#00008f 88.5px)"></i><i style="background:linear-gradient(#71f98c 0.5px,#64f998 3.5px,#33f9cb 7.5px,#03f6fb 10.5px,#0057fd 19.5px,#0008fd 25.5px,#0000de 29.5px,#0000a5 38.5px,#000090 45.5px,#00008f 88.5px)"></i><i style="background:linear-gradient(#02058f 0.5px,#00008f 88.5px)"></i><i style="background:linear-gradient(#142d8f 0.5px,#0029a3 11.5px,#0000a3 26.5px,#00008f 48.5px,#00008f 88.5px)"></i><i style="background:linear-gradient(#71f98b 0.5px,#65f998 3.5px,#33f9ca 7.5px,#03f6fa 10.5px,#0049fd 20.5px,#0008fd 25.5px,#0001e7 28.5px,#0000aa 37.5px,#000090 45.5px,#00008f 88.5px)"></i><i style="background:linear-gradient(#798046 0.5px,#828052 4.5px,#968266 7.5px,#80b47f 10.5px,#7ad685 14.5px,#059cfa 21.5px,#0047fd 26.5px,#0006dd 34.5px,#0000a7 43.5px,#00008f 55.5px,#00008f 88.5px)"></i><i style="background:linear-gradient(#7f0201 0.5px,#850201 2.5px,#bf0201 5.5px,#f70602 7.5px,#fc4802 9.5px,#fce002 13.5px,#f1fa0e 14.5px,#46fdb9 19.5px,#0cfdf3 21.5px,#01d1fe 23.5px,#0067ff 28.5px,#000dfe 34.5px,#0001f5 36.5px,#0000b6 44.5px,#000090 54.5px,#00008f 88.5px)"></i><i style="background:linear-gradient(#800000 0.5px,#8d0000 4.5px,#a90100 7.5px,#ab4000 12.5px,#b54d00 13.5px,#d65604 14.5px,#ea5c10 15.5px,#c0e13f 19.5px,#b1fb4e 20.5px,#70f98f 22.5px,#12d8ed 26.5px,#02cefd 27.5px,#0063ff 32.5px,#0026fc 36.5px,#0000e9 41.5px,#0000af 49.5px,#000091 58.5px,#00008f 88.5px)"></i><i style="background:linear-gradient(#800000 0.5px,#800100 12.5px,#8f0100 13.5px,#f60a00 15.5px,#fecf01 19.5px,#f7f708 20.5px,#3dfec2 25.5px,#04f9fb 27.5px,#0082ff 32.5px,#002cff 37.5px,#0005ff 40.5px,#0000b2 50.5px,#000090 59.5px,#00008f 88.5px)"></i><i style="background:linear-gradient(#800000 0.5px,#820000 13.5px,#950100 15.5px,#981400 17.5px,#be1d00 18.5px,#f12800 19.5px,#fd5401 20.5px,#e9dc16 23.5px,#dafb25 24.5px,#65fe9a 27.5px,#10f0ef 30.5px,#01e3fe 31.5px,#006fff 36.5px,#001ffe 41.5px,#0002f8 44.5px,#0000b8 52.5px,#000090 62.5px,#00008f 88.5px)"></i><i style="background:linear-gradient(#800000 0.5px,#820000 17.5px,#a80000 18.5px,#db0300 19.5px,#e92800 20.5px,#fc8600 22.5px,#ffb900 23.5px,#f7e308 24.5px,#8eff71 27.5px,#23ffdc 30.5px,#0ef5f1 31.5px,#00b2ff 34.5px,#004cff 39.5px,#0007fe 44.5px,#0000b9 53.5px,#000090 63.5px,#00008f 88.5px)"></i><i style="background:linear-gradient(#800000 0.5px,#840100 20.5px,#b30200 21.5px,#f10700 22.5px,#fe3900 23.5px,#fdde02 26.5px,#ecfd13 27.5px,#6fff90 30.5px,#0bfdf4 33.5px,#00cfff 35.5px,#0061ff 40.5px,#0014ff 45.5px,#0000fb 47.5px,#0000b9 55.5px,#000090 65.5px,#00008f 88.5px)"></i><i style="background:linear-gradient(#800000 0.5px,#810000 20.5px,#cb0300 22.5px,#f84d00 24.5px,#ffb700 26.5px,#f4e00b 27.5px,#b6fe49 29.5px,#42ffbd 32.5px,#21fede 33.5px,#04e0fb 35.5px,#006fff 40.5px,#001eff 45.5px,#0003f6 48.5px,#0000b2 57.5px,#000090 66.5px,#00008f 88.5px)"></i><i style="background:linear-gradient(#800000 0.5px,#810000 22.5px,#a70100 23.5px,#e90300 24.5px,#fe3000 25.5px,#fed901 28.5px,#f0fc0f 29.5px,#4dffb2 33.5px,#0cfef3 35.5px,#00ecff 36.5px,#0089ff 40.5px,#0030ff 45.5px,#0001fb 49.5px,#0000ba 57.5px,#000090 67.5px,#00008f 88.5px)"></i><i style="background:linear-gradient(#800000 0.5px,#800000 22.5px,#8d0000 23.5px,#a70100 24.5px,#d51000 25.5px,#fb2c00 26.5px,#ffa000 28.5px,#fad105 29.5px,#ebf314 30.5px,#c8ff37 31.5px,#50ffaf 34.5px,#13f9ec 36.5px,#02ecfd 37.5px,#0076ff 42.5px,#0022ff 47.5px,#0002fa 50.5px,#0000b4 59.5px,#000090 68.5px,#00008f 88.5px)"></i><i style="background:linear-gradient(#800000 0.5px,#800000 23.5px,#860000 24.5px,#bf0000 25.5px,#f80c00 26.5px,#ffba00 29.5px,#feec01 30.5px,#dffe20 31.5px,#63ff9c 34.5px,#1dffe2 36.5px,#03fafc 37.5px,#0080ff 42.5px,#002aff 47.5px,#0004ff 50.5px,#0000b7 59.5px,#00008f 69.5px,#00008f 88.5px)"></i><i style="background:linear-gradient(#800000 0.5px,#810000 24.5px,#8c0000 25.5px,#bc0200 26.5px,#f31100 27.5px,#ff4600 28.5px,#ffba00 30.5px,#f9e806 31.5px,#dfff20 32.5px,#62ff9d 35.5px,#1efee1 37.5px,#05f7fa 38.5px,#0080ff 43.5px,#0029ff 48.5px,#0004fe 51.5px,#0000b7 60.5px,#00008f 70.5px,#00008f 88.5px)"></i><i style="background:linear-gradient(#800000 0.5px,#810000 25.5px,#ae0000 26.5px,#ef0500 27.5px,#ff3800 28.5px,#ffe300 31.5px,#e9fe16 32.5px,#6aff95 35.5px,#07fcf8 38.5px,#009aff 42.5px,#003bff 47.5px,#0006ff 51.5px,#0000b2 61.5px,#00008f 70.5px,#00008f 88.5px)"></i><i style="background:linear-gradient(#800000 0.5px,#830000 26.5px,#b60000 27.5px,#f40900 28.5px,#ff4000 29.5px,#fee901 32.5px,#e3ff1c 33.5px,#65ff9a 36.5px,#1fffe0 38.5px,#04fbfb 39.5px,#0081ff 44.5px,#002aff 49.5px,#0004ff 52.5px,#0000b7 61.5px,#00008f 71.5px,#00008f 88.5px)"></i><i style="background:linear-gradient(#800000 0.5px,#810000 26.5px,#a80000 27.5px,#e80500 28.5px,#fe3200 29.5px,#ffde00 32.5px,#ebfc14 33.5px,#48ffb7 37.5px,#09fcf6 39.5px,#00ccff 41.5px,#005eff 46.5px,#0006ff 52.5px,#0000cd 58.5px,#000098 68.5px,#00008f 75.5px,#00008f 88.5px)"></i><i style="background:linear-gradient(#800000 0.5px,#800000 26.5px,#8e0000 27.5px,#d00000 28.5px,#fd1900 29.5px,#ffca00 32.5px,#f9f706 33.5px,#a5ff5a 35.5px,#33ffcc 38.5px,#13ffec 39.5px,#00f3ff 40.5px,#008eff 44.5px,#0033ff 49.5px,#0001fd 53.5px,#0000bb 61.5px,#000090 71.5px,#00008f 88.5px)"></i><i style="background:linear-gradient(#800000 0.5px,#800000 26.5px,#880000 27.5px,#c30000 28.5px,#f91000 29.5px,#ffc000 32.5px,#fcf103 33.5px,#daff25 34.5px,#5dffa2 37.5px,#18ffe7 39.5px,#02f7fd 40.5px,#007dff 45.5px,#0027ff 50.5px,#0002fe 53.5px,#0000b6 62.5px,#00008f 72.5px,#00008f 88.5px)"></i><i style="background:linear-gradient(#800000 0.5px,#820000 27.5px,#b60000 28.5px,#f50900 29.5px,#ff4000 30.5px,#feea01 33.5px,#e2ff1d 34.5px,#64ff9b 37.5px,#1effe1 39.5px,#03fafc 40.5px,#0080ff 45.5px,#002aff 50.5px,#0004ff 53.5px,#0000b7 62.5px,#00008f 72.5px,#00008f 88.5px)"></i><i style="background:linear-gradient(#800000 0.5px,#810000 27.5px,#af0000 28.5px,#f10600 29.5px,#ff3a00 30.5px,#ffe600 33.5px,#e6ff19 34.5px,#67ff98 37.5px,#05fcfa 40.5px,#0082ff 45.5px,#002bff 50.5px,#0005ff 53.5px,#0000b8 62.5px,#00008f 72.5px,#00008f 88.5px)"></i><i style="background:linear-gradient(#800000 0.5px,#800000 27.5px,#ae0000 28.5px,#f00500 29.5px,#ff3900 30.5px,#ffe500 33.5px,#e7ff18 34.5px,#68ff97 37.5px,#05fcfa 40.5px,#0083ff 45.5px,#002bff 50.5px,#0005ff 53.5px,#0000b8 62.5px,#00008f 72.5px,#00008f 88.5px)"></i><i style="background:linear-gradient(#800000 0.5px,#820000 27.5px,#b60000 28.5px,#f50800 29.5px,#ff4000 30.5px,#feea01 33.5px,#e2ff1d 34.5px,#64ff9b 37.5px,#1effe1 39.5px,#04fafb 40.5px,#0080ff 45.5px,#002aff 50.5px,#0004ff 53.5px,#0000b7 62.5px,#00008f 72.5px,#00008f 88.5px)"></i><i style="background:linear-gradient(#800000 0.5px,#840000 27.5px,#bb0000 28.5px,#f60b00 29.5px,#ff8100 31.5px,#fded02 33.5px,#dfff20 34.5px,#61ff9e 37.5px,#1cffe3 39.5px,#03f9fc 40.5px,#007fff 45.5px,#0029ff 50.5px,#0003fe 53.5px,#0000b7 62.5px,#00008f 72.5px,#00008f 88.5px)"></i><i style="background:linear-gradient(#800000 0.5px,#800000 26.5px,#8d0000 27.5px,#d00000 28.5px,#fd1800 29.5px,#ffc900 32.5px,#f9f706 33.5px,#a6ff59 35.5px,#33ffcc 38.5px,#13ffec 39.5px,#00f3ff 40.5px,#008eff 44.5px,#0033ff 49.5px,#0001fd 53.5px,#0000bb 61.5px,#000090 71.5px,#00008f 88.5px)"></i><i style="background:linear-gradient(#800000 0.5px,#810000 26.5px,#a10000 27.5px,#e20400 28.5px,#fe2c00 29.5px,#ffd900 32.5px,#eefb11 33.5px,#4cffb3 37.5px,#0bfdf4 39.5px,#00eaff 40.5px,#0088ff 44.5px,#002fff 49.5px,#0001fa 53.5px,#0000b9 61.5px,#000090 71.5px,#00008f 88.5px)"></i><i style="background:linear-gradient(#800000 0.5px,#820000 26.5px,#b50000 27.5px,#f40800 28.5px,#ff3f00 29.5px,#fee901 32.5px,#e3ff1c 33.5px,#65ff9a 36.5px,#1fffe0 38.5px,#04fbfb 39.5px,#0081ff 44.5px,#002aff 49.5px,#0004ff 52.5px,#0000b7 61.5px,#00008f 71.5px,#00008f 88.5px)"></i><i style="background:linear-gradient(#800000 0.5px,#800000 25.5px,#9f0000 26.5px,#dc0300 27.5px,#fb2800 28.5px,#ffd400 31.5px,#f0f70f 32.5px,#9eff61 34.5px,#2dffd2 37.5px,#0ffdf0 38.5px,#01edfe 39.5px,#0076ff 44.5px,#0022ff 49.5px,#0001fb 52.5px,#0000ba 60.5px,#000090 70.5px,#00008f 88.5px)"></i><i style="background:linear-gradient(#800000 0.5px,#820000 25.5px,#af0000 26.5px,#f00600 27.5px,#ff3900 28.5px,#fee401 31.5px,#e8fe17 32.5px,#69ff96 35.5px,#06fcf9 38.5px,#0083ff 43.5px,#002cff 48.5px,#0005ff 51.5px,#0000b2 61.5px,#00008f 70.5px,#00008f 88.5px)"></i><i style="background:linear-gradient(#800000 0.5px,#800000 23.5px,#860000 24.5px,#be0000 25.5px,#f70c00 26.5px,#ffb900 29.5px,#feec01 30.5px,#e0fe1f 31.5px,#63ff9c 34.5px,#1effe1 36.5px,#04fafb 37.5px,#0080ff 42.5px,#002aff 47.5px,#0004ff 50.5px,#0000b7 59.5px,#00008f 69.5px,#00008f 88.5px)"></i><i style="background:linear-gradient(#800000 0.5px,#800000 22.5px,#970000 24.5px,#cb0800 25.5px,#fa1d00 26.5px,#fdc602 29.5px,#f4f00b 30.5px,#d3ff2c 31.5px,#58ffa7 34.5px,#18fce7 36.5px,#03f3fc 37.5px,#007aff 42.5px,#0026ff 47.5px,#0003fc 50.5px,#0000b6 59.5px,#000090 68.5px,#00008f 88.5px)"></i><i style="background:linear-gradient(#800000 0.5px,#810000 22.5px,#a60000 23.5px,#e80300 24.5px,#fe2f00 25.5px,#fed901 28.5px,#f1fc0e 29.5px,#4effb1 33.5px,#0cfef3 35.5px,#01ecfe 36.5px,#0075ff 41.5px,#0022ff 46.5px,#0001fb 49.5px,#0000ba 57.5px,#000090 67.5px,#00008f 88.5px)"></i><i style="background:linear-gradient(#800000 0.5px,#800000 20.5px,#a60200 22.5px,#c41300 23.5px,#f12800 24.5px,#ff5900 25.5px,#f9c306 27.5px,#eae615 28.5px,#d3fe2c 29.5px,#5affa5 32.5px,#1cf8e3 34.5px,#08eff7 35.5px,#00a7ff 38.5px,#0045ff 43.5px,#000efe 47.5px,#0000eb 50.5px,#0000b0 58.5px,#000090 67.5px,#00008f 88.5px)"></i><i style="background:linear-gradient(#800000 0.5px,#830100 20.5px,#b30100 21.5px,#f00700 22.5px,#fe3800 23.5px,#fedd01 26.5px,#edfd12 27.5px,#4bffb4 31.5px,#0bfdf4 33.5px,#00cfff 35.5px,#0061ff 40.5px,#0014ff 45.5px,#0001fb 47.5px,#0000ba 55.5px,#000090 65.5px,#00008f 88.5px)"></i><i style="background:linear-gradient(#800000 0.5px,#810000 17.5px,#c90200 19.5px,#e54600 21.5px,#fa6c00 22.5px,#ff9f00 23.5px,#f9cd06 24.5px,#c1f43e 26.5px,#a1ff5e 27.5px,#32ffcd 30.5px,#1af7e5 31.5px,#04d4fb 33.5px,#0066ff 38.5px,#0018ff 43.5px,#0003f1 46.5px,#0000b0 55.5px,#000090 64.5px,#00008f 88.5px)"></i><i style="background:linear-gradient(#800000 0.5px,#830100 17.5px,#b10200 18.5px,#ee0600 19.5px,#fe3300 20.5px,#fdd402 23.5px,#f3fa0c 24.5px,#55ffaa 28.5px,#13feec 30.5px,#01f2fe 31.5px,#007aff 36.5px,#0026ff 41.5px,#0002fd 44.5px,#0000bc 52.5px,#000090 62.5px,#00008f 88.5px)"></i><i style="background:linear-gradient(#800000 0.5px,#800100 12.5px,#8c0100 13.5px,#e20800 15.5px,#f18500 18.5px,#fbad01 19.5px,#f9d606 20.5px,#78fe87 24.5px,#18fae7 27.5px,#00a7ff 31.5px,#0045ff 36.5px,#000dff 40.5px,#0000d1 46.5px,#00009e 55.5px,#000090 62.5px,#00008f 88.5px)"></i><i style="background:linear-gradient(#800000 0.5px,#900000 6.5px,#961a00 11.5px,#962100 12.5px,#a32800 13.5px,#f03409 15.5px,#ded921 19.5px,#d3fa2c 20.5px,#8bfb74 22.5px,#17ebe8 26.5px,#03e3fc 27.5px,#0072ff 32.5px,#0030fd 36.5px,#0004f7 40.5px,#0000ae 50.5px,#00008f 59.5px,#00008f 88.5px)"></i><i style="background:linear-gradient(#7f0101 0.5px,#850101 2.5px,#bf0101 5.5px,#f70501 7.5px,#fc4701 9.5px,#fcdf02 13.5px,#f1fa0d 14.5px,#47fdb8 19.5px,#0cfdf3 21.5px,#02d2fd 23.5px,#0067ff 28.5px,#000eff 34.5px,#0001f5 36.5px,#0000b7 44.5px,#000090 54.5px,#00008f 88.5px)"></i><i style="background:linear-gradient(#7b5630 0.5px,#845634 3.5px,#b65945 7.5px,#a9b156 11.5px,#a8d857 13.5px,#a1e35e 14.5px,#19c1e6 20.5px,#06bcf9 21.5px,#006eff 25.5px,#0023ef 31.5px,#0001e5 35.5px,#0000a9 44.5px,#00008f 55.5px,#00008f 88.5px)"></i><i style="background:linear-gradient(#72fa8b 0.5px,#65fa98 3.5px,#34faca 7.5px,#04f7fa 10.5px,#004afe 20.5px,#0009fe 25.5px,#0001e7 28.5px,#0000ab 37.5px,#000090 45.5px,#00008f 88.5px)"></i><i style="background:linear-gradient(#39808e 0.5px,#28809f 5.5px,#017dc7 10.5px,#0016c7 22.5px,#0000c5 26.5px,#00009a 38.5px,#00008f 49.5px,#00008f 88.5px)"></i><i style="background:linear-gradient(#02068f 0.5px,#00008f 88.5px)"></i><i style="background:linear-gradient(#5ed28d 0.5px,#4cd2a0 4.5px,#01ceea 10.5px,#003beb 20.5px,#0000e8 26.5px,#0000ae 35.5px,#00008f 45.5px,#00008f 88.5px)"></i><i style="background:linear-gradient(#72fa8a 0.5px,#66fa97 3.5px,#35fac9 7.5px,#05f7f9 10.5px,#014bfe 20.5px,#000aff 25.5px,#0002e8 28.5px,#0000ab 37.5px,#000090 45.5px,#00008f 88.5px)"></i><i style="background:linear-gradient(#7f0402 0.5px,#850402 2.5px,#bf0403 5.5px,#f60803 7.5px,#fa4a04 9.5px,#fae104 13.5px,#effb10 14.5px,#45fcba 19.5px,#0bfbf4 21.5px,#01d0fe 23.5px,#0065ff 28.5px,#000dfe 34.5px,#0000f4 36.5px,#0000b6 44.5px,#000090 54.5px,#00008f 88.5px)"></i><i style="background:linear-gradient(#800000 0.5px,#830000 2.5px,#ab0000 5.5px,#d00300 7.5px,#d99600 13.5px,#e4a808 14.5px,#ddab20 15.5px,#6dfd92 20.5px,#4efeb1 21.5px,#20d1df 24.5px,#01a5fe 27.5px,#0045ff 32.5px,#001afe 35.5px,#0000da 41.5px,#0000a2 50.5px,#000090 58.5px,#00008f 88.5px)"></i><i style="background:linear-gradient(#800000 0.5px,#810200 12.5px,#900200 13.5px,#f60b01 15.5px,#fdd102 19.5px,#f6f809 20.5px,#3cfec3 25.5px,#04f8fb 27.5px,#0081ff 32.5px,#002bff 37.5px,#0005fe 40.5px,#0000b2 50.5px,#000090 59.5px,#00008f 88.5px)"></i><i style="background:linear-gradient(#800000 0.5px,#800000 12.5px,#870000 13.5px,#bc0400 15.5px,#c03700 17.5px,#f76b00 19.5px,#fc9503 20.5px,#c0ea3f 23.5px,#a9fd56 24.5px,#3efcc1 27.5px,#09d6f6 30.5px,#00adff 32.5px,#0049ff 37.5px,#0013fc 41.5px,#0000e4 45.5px,#0000a8 54.5px,#000090 62.5px,#00008f 88.5px)"></i><i style="background:linear-gradient(#800000 0.5px,#830100 17.5px,#b10100 18.5px,#ed0500 19.5px,#fd3100 20.5px,#fed301 23.5px,#f4fa0b 24.5px,#56ffa9 28.5px,#14feeb 30.5px,#01f3fe 31.5px,#007bff 36.5px,#0026ff 41.5px,#0002fd 44.5px,#0000bc 52.5px,#000090 62.5px,#00008f 88.5px)"></i><i style="background:linear-gradient(#800000 0.5px,#800000 17.5px,#a50100 19.5px,#ac1000 20.5px,#f63a00 22.5px,#ff6d00 23.5px,#fca103 24.5px,#dfe920 26.5px,#c7fe38 27.5px,#50ffaf 30.5px,#1bf2e4 32.5px,#07e8f8 33.5px,#00a2ff 36.5px,#0041ff 41.5px,#000dfb 45.5px,#0000e9 48.5px,#0000af 56.5px,#000090 65.5px,#00008f 88.5px)"></i><i style="background:linear-gradient(#800000 0.5px,#820000 20.5px,#b20100 21.5px,#ef0600 22.5px,#fd3700 23.5px,#fedd01 26.5px,#edfc12 27.5px,#4cffb3 31.5px,#0bfef4 33.5px,#00d0ff 35.5px,#0061ff 40.5px,#0008ff 46.5px,#0000e8 49.5px,#0000ae 57.5px,#00008f 66.5px,#00008f 88.5px)"></i><i style="background:linear-gradient(#800000 0.5px,#820000 22.5px,#a70100 23.5px,#ea0400 24.5px,#fe3100 25.5px,#feda01 28.5px,#f0fd0f 29.5px,#4cffb3 33.5px,#0cfef3 35.5px,#00ebff 36.5px,#0089ff 40.5px,#0030ff 45.5px,#0000fb 49.5px,#0000ba 57.5px,#000090 67.5px,#00008f 88.5px)"></i><i style="background:linear-gradient(#800000 0.5px,#800000 22.5px,#9f0000 23.5px,#d80200 24.5px,#f32600 25.5px,#ff9400 27.5px,#ffca00 28.5px,#f3f10c 29.5px,#a6ff59 31.5px,#35ffca 34.5px,#15ffea 35.5px,#05effa 36.5px,#007aff 41.5px,#0026ff 46.5px,#0003fc 49.5px,#0000b6 58.5px,#000090 67.5px,#00008f 88.5px)"></i><i style="background:linear-gradient(#800000 0.5px,#800000 23.5px,#870000 24.5px,#c00100 25.5px,#f80d00 26.5px,#ffbb00 29.5px,#fded02 30.5px,#dffe20 31.5px,#62ff9d 34.5px,#1dffe2 36.5px,#03f9fc 37.5px,#0080ff 42.5px,#0029ff 47.5px,#0004fe 50.5px,#0000b7 59.5px,#00008f 69.5px,#00008f 88.5px)"></i><i style="background:linear-gradient(#800000 0.5px,#820000 24.5px,#a00000 25.5px,#d30600 26.5px,#f72600 27.5px,#ff9800 29.5px,#fece01 30.5px,#eff110 31.5px,#ceff31 32.5px,#54ffab 35.5px,#13fcec 37.5px,#03eefc 38.5px,#0078ff 43.5px,#0024ff 48.5px,#0003fb 51.5px,#0000b5 60.5px,#000090 69.5px,#00008f 88.5px)"></i><i style="background:linear-gradient(#800000 0.5px,#810000 25.5px,#ae0000 26.5px,#ef0600 27.5px,#ff3900 28.5px,#fee301 31.5px,#e9fe16 32.5px,#6aff95 35.5px,#06fcf9 38.5px,#0084ff 43.5px,#002cff 48.5px,#0005ff 51.5px,#0000b2 61.5px,#00008f 70.5px,#00008f 88.5px)"></i><i style="background:linear-gradient(#800000 0.5px,#800000 25.5px,#910000 26.5px,#c90200 27.5px,#f81800 28.5px,#ffc400 31.5px,#f7f008 32.5px,#d6ff29 33.5px,#5affa5 36.5px,#17fee8 38.5px,#03f4fc 39.5px,#007bff 44.5px,#0026ff 49.5px,#0003fd 52.5px,#0000b6 61.5px,#00008f 71.5px,#00008f 88.5px)"></i><i style="background:linear-gradient(#800000 0.5px,#820000 26.5px,#b50000 27.5px,#f40800 28.5px,#ff3f00 29.5px,#fee901 32.5px,#e4ff1b 33.5px,#65ff9a 36.5px,#1fffe0 38.5px,#04fbfb 39.5px,#0081ff 44.5px,#002aff 49.5px,#0004ff 52.5px,#0000b7 61.5px,#00008f 71.5px,#00008f 88.5px)"></i><i style="background:linear-gradient(#800000 0.5px,#800000 26.5px,#940000 27.5px,#d60200 28.5px,#fe1f00 29.5px,#ffcf00 32.5px,#f5f80a 33.5px,#53ffac 37.5px,#10feef 39.5px,#00f0ff 40.5px,#008cff 44.5px,#0032ff 49.5px,#0001fc 53.5px,#0000ba 61.5px,#000090 71.5px,#00008f 88.5px)"></i><i style="background:linear-gradient(#800000 0.5px,#800000 26.5px,#8b0000 27.5px,#cc0000 28.5px,#fc1600 29.5px,#ffc600 32.5px,#faf505 33.5px,#a8ff57 35.5px,#35ffca 38.5px,#15ffea 39.5px,#01f4fe 40.5px,#008fff 44.5px,#0034ff 49.5px,#0002fd 53.5px,#0000bb 61.5px,#000090 71.5px,#00008f 88.5px)"></i><i style="background:linear-gradient(#800000 0.5px,#820000 27.5px,#b60000 28.5px,#f50900 29.5px,#ff7e00 31.5px,#feea01 33.5px,#e2ff1d 34.5px,#64ff9b 37.5px,#1effe1 39.5px,#03fafc 40.5px,#0080ff 45.5px,#002aff 50.5px,#0004ff 53.5px,#0000b7 62.5px,#00008f 72.5px,#00008f 88.5px)"></i><i style="background:linear-gradient(#800000 0.5px,#820000 27.5px,#b30000 28.5px,#f30700 29.5px,#ff3e00 30.5px,#fee801 33.5px,#e4ff1b 34.5px,#65ff9a 37.5px,#1fffe0 39.5px,#04fbfb 40.5px,#0081ff 45.5px,#002aff 50.5px,#0004ff 53.5px,#0000b7 62.5px,#00008f 72.5px,#00008f 88.5px)"></i><i style="background:linear-gradient(#800000 0.5px,#800000 27.5px,#ae0000 28.5px,#f00500 29.5px,#ff3900 30.5px,#ffe500 33.5px,#e7ff18 34.5px,#68ff97 37.5px,#05fcfa 40.5px,#0083ff 45.5px,#002bff 50.5px,#0005ff 53.5px,#0000b8 62.5px,#00008f 72.5px,#00008f 88.5px)"></i><i style="background:linear-gradient(#800000 0.5px,#820000 27.5px,#b30000 28.5px,#f30700 29.5px,#ff3e00 30.5px,#fee801 33.5px,#e4ff1b 34.5px,#65ff9a 37.5px,#1fffe0 39.5px,#04fbfb 40.5px,#0081ff 45.5px,#002aff 50.5px,#0004ff 53.5px,#0000b7 62.5px,#00008f 72.5px,#00008f 88.5px)"></i><i style="background:linear-gradient(#800000 0.5px,#820000 27.5px,#b60000 28.5px,#f50900 29.5px,#ff7e00 31.5px,#feea01 33.5px,#e2ff1d 34.5px,#64ff9b 37.5px,#1effe1 39.5px,#03fafc 40.5px,#0080ff 45.5px,#002aff 50.5px,#0004ff 53.5px,#0000b7 62.5px,#00008f 72.5px,#00008f 88.5px)"></i><i style="background:linear-gradient(#800000 0.5px,#800000 26.5px,#8b0000 27.5px,#cc0000 28.5px,#fc1600 29.5px,#ffc600 32.5px,#faf505 33.5px,#a8ff57 35.5px,#35ffca 38.5px,#15ffea 39.5px,#01f4fe 40.5px,#008fff 44.5px,#0034ff 49.5px,#0002fd 53.5px,#0000bb 61.5px,#000090 71.5px,#00008f 88.5px)"></i><i style="background:linear-gradient(#800000 0.5px,#800000 26.5px,#940000 27.5px,#d60200 28.5px,#fe1f00 29.5px,#ffcf00 32.5px,#f5f80a 33.5px,#53ffac 37.5px,#10feef 39.5px,#00f0ff 40.5px,#008cff 44.5px,#0032ff 49.5px,#0001fc 53.5px,#0000ba 61.5px,#000090 71.5px,#00008f 88.5px)"></i><i style="background:linear-gradient(#800000 0.5px,#820000 26.5px,#b50000 27.5px,#f40800 28.5px,#ff3f00 29.5px,#fee901 32.5px,#e4ff1b 33.5px,#65ff9a 36.5px,#1fffe0 38.5px,#04fbfb 39.5px,#0081ff 44.5px,#002aff 49.5px,#0004ff 52.5px,#0000b7 61.5px,#00008f 71.5px,#00008f 88.5px)"></i><i style="background:linear-gradient(#800000 0.5px,#800000 25.5px,#910000 26.5px,#c90200 27.5px,#f81800 28.5px,#ffc400 31.5px,#f7f008 32.5px,#d6ff29 33.5px,#5affa5 36.5px,#17fee8 38.5px,#03f4fc 39.5px,#007bff 44.5px,#0026ff 49.5px,#0003fd 52.5px,#0000b6 61.5px,#00008f 71.5px,#00008f 88.5px)"></i><i style="background:linear-gradient(#800000 0.5px,#810000 25.5px,#ae0000 26.5px,#ef0600 27.5px,#ff3900 28.5px,#fee301 31.5px,#e9fe16 32.5px,#6aff95 35.5px,#06fcf9 38.5px,#0084ff 43.5px,#002cff 48.5px,#0005ff 51.5px,#0000b2 61.5px,#00008f 70.5px,#00008f 88.5px)"></i><i style="background:linear-gradient(#800000 0.5px,#820000 24.5px,#a00000 25.5px,#d30600 26.5px,#f72600 27.5px,#ff9800 29.5px,#fece01 30.5px,#eff110 31.5px,#ceff31 32.5px,#54ffab 35.5px,#13fcec 37.5px,#03eefc 38.5px,#0078ff 43.5px,#0024ff 48.5px,#0003fb 51.5px,#0000b5 60.5px,#000090 69.5px,#00008f 88.5px)"></i><i style="background:linear-gradient(#800000 0.5px,#800000 23.5px,#870000 24.5px,#c00100 25.5px,#f80d00 26.5px,#ffbb00 29.5px,#fded02 30.5px,#dffe20 31.5px,#62ff9d 34.5px,#1dffe2 36.5px,#03f9fc 37.5px,#0080ff 42.5px,#0029ff 47.5px,#0004fe 50.5px,#0000b7 59.5px,#00008f 69.5px,#00008f 88.5px)"></i><i style="background:linear-gradient(#800000 0.5px,#800000 22.5px,#9f0000 23.5px,#d80200 24.5px,#f32600 25.5px,#ff9400 27.5px,#ffca00 28.5px,#f3f10c 29.5px,#a6ff59 31.5px,#35ffca 34.5px,#15ffea 35.5px,#05effa 36.5px,#007aff 41.5px,#0026ff 46.5px,#0003fc 49.5px,#0000b6 58.5px,#000090 67.5px,#00008f 88.5px)"></i><i style="background:linear-gradient(#800000 0.5px,#820000 22.5px,#a70100 23.5px,#ea0400 24.5px,#fe3100 25.5px,#feda01 28.5px,#f0fd0f 29.5px,#4cffb3 33.5px,#0cfef3 35.5px,#00ebff 36.5px,#0089ff 40.5px,#0030ff 45.5px,#0000fb 49.5px,#0000ba 57.5px,#000090 67.5px,#00008f 88.5px)"></i><i style="background:linear-gradient(#800000 0.5px,#820000 20.5px,#b20100 21.5px,#ef0600 22.5px,#fd3700 23.5px,#fedd01 26.5px,#edfc12 27.5px,#4cffb3 31.5px,#0bfef4 33.5px,#00d0ff 35.5px,#0061ff 40.5px,#0008ff 46.5px,#0000e8 49.5px,#0000ae 57.5px,#00008f 66.5px,#00008f 88.5px)"></i><i style="background:linear-gradient(#800000 0.5px,#800000 17.5px,#a50100 19.5px,#ac1000 20.5px,#f63a00 22.5px,#ff6d00 23.5px,#fca103 24.5px,#dfe920 26.5px,#c7fe38 27.5px,#50ffaf 30.5px,#1bf2e4 32.5px,#07e8f8 33.5px,#00a2ff 36.5px,#0041ff 41.5px,#000dfb 45.5px,#0000e9 48.5px,#0000af 56.5px,#000090 65.5px,#00008f 88.5px)"></i><i style="background:linear-gradient(#800000 0.5px,#830100 17.5px,#b10100 18.5px,#ed0500 19.5px,#fd3100 20.5px,#fed301 23.5px,#f4fa0b 24.5px,#56ffa9 28.5px,#14feeb 30.5px,#01f3fe 31.5px,#007bff 36.5px,#0026ff 41.5px,#0002fd 44.5px,#0000bc 52.5px,#000090 62.5px,#00008f 88.5px)"></i><i style="background:linear-gradient(#800000 0.5px,#800000 12.5px,#870000 13.5px,#bc0400 15.5px,#c03700 17.5px,#f76b00 19.5px,#fc9503 20.5px,#c0ea3f 23.5px,#a9fd56 24.5px,#3efcc1 27.5px,#09d6f6 30.5px,#00adff 32.5px,#0049ff 37.5px,#0013fc 41.5px,#0000e4 45.5px,#0000a8 54.5px,#000090 62.5px,#00008f 88.5px)"></i><i style="background:linear-gradient(#800000 0.5px,#810200 12.5px,#900200 13.5px,#f60b01 15.5px,#fdd102 19.5px,#f6f809 20.5px,#3cfec3 25.5px,#04f8fb 27.5px,#0081ff 32.5px,#002bff 37.5px,#0005fe 40.5px,#0000b2 50.5px,#000090 59.5px,#00008f 88.5px)"></i><i style="background:linear-gradient(#800000 0.5px,#830000 2.5px,#ab0000 5.5px,#d00300 7.5px,#d99600 13.5px,#e4a808 14.5px,#ddab20 15.5px,#6dfd92 20.5px,#4efeb1 21.5px,#20d1df 24.5px,#01a5fe 27.5px,#0045ff 32.5px,#001afe 35.5px,#0000da 41.5px,#0000a2 50.5px,#000090 58.5px,#00008f 88.5px)"></i><i style="background:linear-gradient(#7f0402 0.5px,#850402 2.5px,#bf0403 5.5px,#f60803 7.5px,#fa4a04 9.5px,#fae104 13.5px,#effb10 14.5px,#45fcba 19.5px,#0bfbf4 21.5px,#01d0fe 23.5px,#0065ff 28.5px,#000dfe 34.5px,#0000f4 36.5px,#0000b6 44.5px,#000090 54.5px,#00008f 88.5px)"></i><i style="background:linear-gradient(#72fa8a 0.5px,#66fa97 3.5px,#35fac9 7.5px,#05f7f9 10.5px,#014bfe 20.5px,#000aff 25.5px,#0002e8 28.5px,#0000ab 37.5px,#000090 45.5px,#00008f 88.5px)"></i><i style="background:linear-gradient(#5ed28d 0.5px,#4cd2a0 4.5px,#01ceea 10.5px,#003beb 20.5px,#0000e8 26.5px,#0000ae 35.5px,#00008f 45.5px,#00008f 88.5px)"></i><i style="background:linear-gradient(#02068f 0.5px,#00008f 88.5px)"></i><i style="background:linear-gradient(#39808e 0.5px,#28809f 5.5px,#017dc7 10.5px,#0016c7 22.5px,#0000c5 26.5px,#00009a 38.5px,#00008f 49.5px,#00008f 88.5px)"></i><i style="background:linear-gradient(#72fa8b 0.5px,#65fa98 3.5px,#34faca 7.5px,#04f7fa 10.5px,#004afe 20.5px,#0009fe 25.5px,#0001e7 28.5px,#0000ab 37.5px,#000090 45.5px,#00008f 88.5px)"></i><i style="background:linear-gradient(#7b5630 0.5px,#845634 3.5px,#b65945 7.5px,#a9b156 11.5px,#a8d857 13.5px,#a1e35e 14.5px,#19c1e6 20.5px,#06bcf9 21.5px,#006eff 25.5px,#0023ef 31.5px,#0001e5 35.5px,#0000a9 44.5px,#00008f 55.5px,#00008f 88.5px)"></i><i style="background:linear-gradient(#7f0101 0.5px,#850101 2.5px,#bf0101 5.5px,#f70501 7.5px,#fc4701 9.5px,#fcdf02 13.5px,#f1fa0d 14.5px,#47fdb8 19.5px,#0cfdf3 21.5px,#02d2fd 23.5px,#0067ff 28.5px,#000eff 34.5px,#0001f5 36.5px,#0000b7 44.5px,#000090 54.5px,#00008f 88.5px)"></i><i style="background:linear-gradient(#800000 0.5px,#900000 6.5px,#961a00 11.5px,#962100 12.5px,#a32800 13.5px,#f03409 15.5px,#ded921 19.5px,#d3fa2c 20.5px,#8bfb74 22.5px,#17ebe8 26.5px,#03e3fc 27.5px,#0072ff 32.5px,#0030fd 36.5px,#0004f7 40.5px,#0000ae 50.5px,#00008f 59.5px,#00008f 88.5px)"></i><i style="background:linear-gradient(#800000 0.5px,#800100 12.5px,#8c0100 13.5px,#e20800 15.5px,#f18500 18.5px,#fbad01 19.5px,#f9d606 20.5px,#78fe87 24.5px,#18fae7 27.5px,#00a7ff 31.5px,#0045ff 36.5px,#000dff 40.5px,#0000d1 46.5px,#00009e 55.5px,#000090 62.5px,#00008f 88.5px)"></i><i style="background:linear-gradient(#800000 0.5px,#830100 17.5px,#b10200 18.5px,#ee0600 19.5px,#fe3300 20.5px,#fdd402 23.5px,#f3fa0c 24.5px,#55ffaa 28.5px,#13feec 30.5px,#01f2fe 31.5px,#007aff 36.5px,#0026ff 41.5px,#0002fd 44.5px,#0000bc 52.5px,#000090 62.5px,#00008f 88.5px)"></i><i style="background:linear-gradient(#800000 0.5px,#810000 17.5px,#c90200 19.5px,#e54600 21.5px,#fa6c00 22.5px,#ff9f00 23.5px,#f9cd06 24.5px,#c1f43e 26.5px,#a1ff5e 27.5px,#32ffcd 30.5px,#1af7e5 31.5px,#04d4fb 33.5px,#0066ff 38.5px,#0018ff 43.5px,#0003f1 46.5px,#0000b0 55.5px,#000090 64.5px,#00008f 88.5px)"></i><i style="background:linear-gradient(#800000 0.5px,#830100 20.5px,#b30100 21.5px,#f00700 22.5px,#fe3800 23.5px,#fedd01 26.5px,#edfd12 27.5px,#4bffb4 31.5px,#0bfdf4 33.5px,#00cfff 35.5px,#0061ff 40.5px,#0014ff 45.5px,#0001fb 47.5px,#0000ba 55.5px,#000090 65.5px,#00008f 88.5px)"></i><i style="background:linear-gradient(#800000 0.5px,#800000 20.5px,#a60200 22.5px,#c41300 23.5px,#f12800 24.5px,#ff5900 25.5px,#f9c306 27.5px,#eae615 28.5px,#d3fe2c 29.5px,#5affa5 32.5px,#1cf8e3 34.5px,#08eff7 35.5px,#00a7ff 38.5px,#0045ff 43.5px,#000efe 47.5px,#0000eb 50.5px,#0000b0 58.5px,#000090 67.5px,#00008f 88.5px)"></i><i style="background:linear-gradient(#800000 0.5px,#810000 22.5px,#a60000 23.5px,#e80300 24.5px,#fe2f00 25.5px,#fed901 28.5px,#f1fc0e 29.5px,#4effb1 33.5px,#0cfef3 35.5px,#01ecfe 36.5px,#0075ff 41.5px,#0022ff 46.5px,#0001fb 49.5px,#0000ba 57.5px,#000090 67.5px,#00008f 88.5px)"></i><i style="background:linear-gradient(#800000 0.5px,#800000 22.5px,#970000 24.5px,#cb0800 25.5px,#fa1d00 26.5px,#fdc602 29.5px,#f4f00b 30.5px,#d3ff2c 31.5px,#58ffa7 34.5px,#18fce7 36.5px,#03f3fc 37.5px,#007aff 42.5px,#0026ff 47.5px,#0003fc 50.5px,#0000b6 59.5px,#000090 68.5px,#00008f 88.5px)"></i><i style="background:linear-gradient(#800000 0.5px,#800000 23.5px,#860000 24.5px,#be0000 25.5px,#f70c00 26.5px,#ffb900 29.5px,#feec01 30.5px,#e0fe1f 31.5px,#63ff9c 34.5px,#1effe1 36.5px,#04fafb 37.5px,#0080ff 42.5px,#002aff 47.5px,#0004ff 50.5px,#0000b7 59.5px,#00008f 69.5px,#00008f 88.5px)"></i><i style="background:linear-gradient(#800000 0.5px,#820000 25.5px,#af0000 26.5px,#f00600 27.5px,#ff3900 28.5px,#fee401 31.5px,#e8fe17 32.5px,#69ff96 35.5px,#06fcf9 38.5px,#0083ff 43.5px,#002cff 48.5px,#0005ff 51.5px,#0000b2 61.5px,#00008f 70.5px,#00008f 88.5px)"></i><i style="background:linear-gradient(#800000 0.5px,#800000 25.5px,#9f0000 26.5px,#dc0300 27.5px,#fb2800 28.5px,#ffd400 31.5px,#f0f70f 32.5px,#9eff61 34.5px,#2dffd2 37.5px,#0ffdf0 38.5px,#01edfe 39.5px,#0076ff 44.5px,#0022ff 49.5px,#0001fb 52.5px,#0000ba 60.5px,#000090 70.5px,#00008f 88.5px)"></i><i style="background:linear-gradient(#800000 0.5px,#820000 26.5px,#b50000 27.5px,#f40800 28.5px,#ff3f00 29.5px,#fee901 32.5px,#e3ff1c 33.5px,#65ff9a 36.5px,#1fffe0 38.5px,#04fbfb 39.5px,#0081ff 44.5px,#002aff 49.5px,#0004ff 52.5px,#0000b7 61.5px,#00008f 71.5px,#00008f 88.5px)"></i><i style="background:linear-gradient(#800000 0.5px,#810000 26.5px,#a10000 27.5px,#e20400 28.5px,#fe2c00 29.5px,#ffd900 32.5px,#eefb11 33.5px,#4cffb3 37.5px,#0bfdf4 39.5px,#00eaff 40.5px,#0088ff 44.5px,#002fff 49.5px,#0001fa 53.5px,#0000b9 61.5px,#000090 71.5px,#00008f 88.5px)"></i><i style="background:linear-gradient(#800000 0.5px,#800000 26.5px,#8d0000 27.5px,#d00000 28.5px,#fd1800 29.5px,#ffc900 32.5px,#f9f706 33.5px,#a6ff59 35.5px,#33ffcc 38.5px,#13ffec 39.5px,#00f3ff 40.5px,#008eff 44.5px,#0033ff 49.5px,#0001fd 53.5px,#0000bb 61.5px,#000090 71.5px,#00008f 88.5px)"></i><i style="background:linear-gradient(#800000 0.5px,#840000 27.5px,#bb0000 28.5px,#f60b00 29.5px,#ff8100 31.5px,#fded02 33.5px,#dfff20 34.5px,#61ff9e 37.5px,#1cffe3 39.5px,#03f9fc 40.5px,#007fff 45.5px,#0029ff 50.5px,#0003fe 53.5px,#0000b7 62.5px,#00008f 72.5px,#00008f 88.5px)"></i><i style="background:linear-gradient(#800000 0.5px,#820000 27.5px,#b60000 28.5px,#f50800 29.5px,#ff4000 30.5px,#feea01 33.5px,#e2ff1d 34.5px,#64ff9b 37.5px,#1effe1 39.5px,#04fafb 40.5px,#0080ff 45.5px,#002aff 50.5px,#0004ff 53.5px,#0000b7 62.5px,#00008f 72.5px,#00008f 88.5px)"></i><i style="background:linear-gradient(#800000 0.5px,#800000 27.5px,#ae0000 28.5px,#f00500 29.5px,#ff3900 30.5px,#ffe500 33.5px,#e7ff18 34.5px,#68ff97 37.5px,#05fcfa 40.5px,#0083ff 45.5px,#002bff 50.5px,#0005ff 53.5px,#0000b8 62.5px,#00008f 72.5px,#00008f 88.5px)"></i><i style="background:linear-gradient(#800000 0.5px,#810000 27.5px,#af0000 28.5px,#f10600 29.5px,#ff3a00 30.5px,#ffe600 33.5px,#e6ff19 34.5px,#67ff98 37.5px,#05fcfa 40.5px,#0082ff 45.5px,#002bff 50.5px,#0005ff 53.5px,#0000b8 62.5px,#00008f 72.5px,#00008f 88.5px)"></i><i style="background:linear-gradient(#800000 0.5px,#820000 27.5px,#b60000 28.5px,#f50900 29.5px,#ff4000 30.5px,#feea01 33.5px,#e2ff1d 34.5px,#64ff9b 37.5px,#1effe1 39.5px,#03fafc 40.5px,#0080ff 45.5px,#002aff 50.5px,#0004ff 53.5px,#0000b7 62.5px,#00008f 72.5px,#00008f 88.5px)"></i><i style="background:linear-gradient(#800000 0.5px,#800000 26.5px,#880000 27.5px,#c30000 28.5px,#f91000 29.5px,#ffc000 32.5px,#fcf103 33.5px,#daff25 34.5px,#5dffa2 37.5px,#18ffe7 39.5px,#02f7fd 40.5px,#007dff 45.5px,#0027ff 50.5px,#0002fe 53.5px,#0000b6 62.5px,#00008f 72.5px,#00008f 88.5px)"></i><i style="background:linear-gradient(#800000 0.5px,#800000 26.5px,#8e0000 27.5px,#d00000 28.5px,#fd1900 29.5px,#ffca00 32.5px,#f9f706 33.5px,#a5ff5a 35.5px,#33ffcc 38.5px,#13ffec 39.5px,#00f3ff 40.5px,#008eff 44.5px,#0033ff 49.5px,#0001fd 53.5px,#0000bb 61.5px,#000090 71.5px,#00008f 88.5px)"></i><i style="background:linear-gradient(#800000 0.5px,#810000 26.5px,#a80000 27.5px,#e80500 28.5px,#fe3200 29.5px,#ffde00 32.5px,#ebfc14 33.5px,#48ffb7 37.5px,#09fcf6 39.5px,#00ccff 41.5px,#005eff 46.5px,#0006ff 52.5px,#0000cd 58.5px,#000098 68.5px,#00008f 75.5px,#00008f 88.5px)"></i><i style="background:linear-gradient(#800000 0.5px,#830000 26.5px,#b60000 27.5px,#f40900 28.5px,#ff4000 29.5px,#fee901 32.5px,#e3ff1c 33.5px,#65ff9a 36.5px,#1fffe0 38.5px,#04fbfb 39.5px,#0081ff 44.5px,#002aff 49.5px,#0004ff 52.5px,#0000b7 61.5px,#00008f 71.5px,#00008f 88.5px)"></i><i style="background:linear-gradient(#800000 0.5px,#810000 25.5px,#ae0000 26.5px,#ef0500 27.5px,#ff3800 28.5px,#ffe300 31.5px,#e9fe16 32.5px,#6aff95 35.5px,#07fcf8 38.5px,#009aff 42.5px,#003bff 47.5px,#0006ff 51.5px,#0000b2 61.5px,#00008f 70.5px,#00008f 88.5px)"></i><i style="background:linear-gradient(#800000 0.5px,#810000 24.5px,#8c0000 25.5px,#bc0200 26.5px,#f31100 27.5px,#ff4600 28.5px,#ffba00 30.5px,#f9e806 31.5px,#dfff20 32.5px,#62ff9d 35.5px,#1efee1 37.5px,#05f7fa 38.5px,#0080ff 43.5px,#0029ff 48.5px,#0004fe 51.5px,#0000b7 60.5px,#00008f 70.5px,#00008f 88.5px)"></i><i style="background:linear-gradient(#800000 0.5px,#800000 23.5px,#860000 24.5px,#bf0000 25.5px,#f80c00 26.5px,#ffba00 29.5px,#feec01 30.5px,#dffe20 31.5px,#63ff9c 34.5px,#1dffe2 36.5px,#03fafc 37.5px,#0080ff 42.5px,#002aff 47.5px,#0004ff 50.5px,#0000b7 59.5px,#00008f 69.5px,#00008f 88.5px)"></i><i style="background:linear-gradient(#800000 0.5px,#800000 22.5px,#8d0000 23.5px,#a70100 24.5px,#d51000 25.5px,#fb2c00 26.5px,#ffa000 28.5px,#fad105 29.5px,#ebf314 30.5px,#c8ff37 31.5px,#50ffaf 34.5px,#13f9ec 36.5px,#02ecfd 37.5px,#0076ff 42.5px,#0022ff 47.5px,#0002fa 50.5px,#0000b4 59.5px,#000090 68.5px,#00008f 88.5px)"></i><i style="background:linear-gradient(#800000 0.5px,#810000 22.5px,#a70100 23.5px,#e90300 24.5px,#fe3000 25.5px,#fed901 28.5px,#f0fc0f 29.5px,#4dffb2 33.5px,#0cfef3 35.5px,#00ecff 36.5px,#0089ff 40.5px,#0030ff 45.5px,#0001fb 49.5px,#0000ba 57.5px,#000090 67.5px,#00008f 88.5px)"></i><i style="background:linear-gradient(#800000 0.5px,#810000 20.5px,#cb0300 22.5px,#f84d00 24.5px,#ffb700 26.5px,#f4e00b 27.5px,#b6fe49 29.5px,#42ffbd 32.5px,#21fede 33.5px,#04e0fb 35.5px,#006fff 40.5px,#001eff 45.5px,#0003f6 48.5px,#0000b2 57.5px,#000090 66.5px,#00008f 88.5px)"></i><i style="background:linear-gradient(#800000 0.5px,#820000 20.5px,#b20000 21.5px,#f10500 22.5px,#fe3700 23.5px,#ffde00 26.5px,#eefd11 27.5px,#70ff8f 30.5px,#0bfef4 33.5px,#00ebff 34.5px,#0089ff 38.5px,#0030ff 43.5px,#0000fb 47.5px,#0000ba 55.5px,#000090 65.5px,#00008f 88.5px)"></i></div>
<div class="bx" style="left:88px;top:210px;width:449px;height:87px;border-color:#262626"></div>
<b style="left:177px;top:211px;width:1px;height:4px"></b><b style="left:177px;top:294px;width:1px;height:4px"></b><b style="left:265px;top:211px;width:1px;height:4px"></b><b style="left:265px;top:294px;width:1px;height:4px"></b><b style="left:352px;top:211px;width:1px;height:4px"></b><b style="left:352px;top:294px;width:1px;height:4px"></b><b style="left:440px;top:211px;width:1px;height:4px"></b><b style="left:440px;top:294px;width:1px;height:4px"></b><b style="left:528px;top:211px;width:1px;height:4px"></b><b style="left:528px;top:294px;width:1px;height:4px"></b><b style="left:89px;top:211px;width:4px;height:1px"></b><b style="left:534px;top:211px;width:4px;height:1px"></b><b style="left:89px;top:228px;width:4px;height:1px"></b><b style="left:534px;top:228px;width:4px;height:1px"></b><b style="left:89px;top:246px;width:4px;height:1px"></b><b style="left:534px;top:246px;width:4px;height:1px"></b><b style="left:89px;top:264px;width:4px;height:1px"></b><b style="left:534px;top:264px;width:4px;height:1px"></b><b style="left:89px;top:281px;width:4px;height:1px"></b><b style="left:534px;top:281px;width:4px;height:1px"></b>
<div class="t" style="left:274.30px;top:2.96px;width:80px;text-align:center;font-size:21.03px;color:#000;font-family:'Liberation Sans',sans-serif;font-weight:bold;width:400px;margin-left:-160px;">Exciter Vector Potential (11 wire)</div>
<div class="t" style="left:273.60px;top:185.22px;width:80px;text-align:center;font-size:21.34px;color:#000;font-family:'Liberation Sans',sans-serif;font-weight:bold;width:460px;margin-left:-190px;">Exciter Vector Potential (quasi-infinite)</div>
<div class="t" style="left:34.80px;top:22.07px;width:80px;text-align:center;font-size:18.60px;color:#262626;font-family:'Liberation Sans',sans-serif;">0</div>
<div class="t" style="left:34.80px;top:40.07px;width:80px;text-align:center;font-size:18.60px;color:#262626;font-family:'Liberation Sans',sans-serif;">10</div>
<div class="t" style="left:34.80px;top:57.17px;width:80px;text-align:center;font-size:18.60px;color:#262626;font-family:'Liberation Sans',sans-serif;">20</div>
<div class="t" style="left:34.80px;top:74.97px;width:80px;text-align:center;font-size:18.60px;color:#262626;font-family:'Liberation Sans',sans-serif;">30</div>
<div class="t" style="left:34.80px;top:92.37px;width:80px;text-align:center;font-size:18.60px;color:#262626;font-family:'Liberation Sans',sans-serif;">40</div>
<div class="t" style="left:46.60px;top:127.07px;width:80px;text-align:center;font-size:18.60px;color:#262626;font-family:'Liberation Sans',sans-serif;">0</div>
<div class="t" style="left:136.20px;top:127.07px;width:80px;text-align:center;font-size:18.60px;color:#262626;font-family:'Liberation Sans',sans-serif;">50</div>
<div class="t" style="left:225.90px;top:127.07px;width:80px;text-align:center;font-size:18.60px;color:#262626;font-family:'Liberation Sans',sans-serif;">100</div>
<div class="t" style="left:313.20px;top:127.07px;width:80px;text-align:center;font-size:18.60px;color:#262626;font-family:'Liberation Sans',sans-serif;">150</div>
<div class="t" style="left:398.70px;top:127.07px;width:80px;text-align:center;font-size:18.60px;color:#262626;font-family:'Liberation Sans',sans-serif;">200</div>
<div class="t" style="left:485.20px;top:127.07px;width:80px;text-align:center;font-size:18.60px;color:#262626;font-family:'Liberation Sans',sans-serif;">250</div>
<div class="t" style="left:30.50px;top:203.74px;width:80px;text-align:center;font-size:18.85px;color:#262626;font-family:'Liberation Sans',sans-serif;">0</div>
<div class="t" style="left:30.50px;top:221.04px;width:80px;text-align:center;font-size:18.85px;color:#262626;font-family:'Liberation Sans',sans-serif;">10</div>
<div class="t" style="left:30.50px;top:238.14px;width:80px;text-align:center;font-size:18.85px;color:#262626;font-family:'Liberation Sans',sans-serif;">20</div>
<div class="t" style="left:30.50px;top:255.94px;width:80px;text-align:center;font-size:18.85px;color:#262626;font-family:'Liberation Sans',sans-serif;">30</div>
<div class="t" style="left:30.50px;top:273.64px;width:80px;text-align:center;font-size:18.85px;color:#262626;font-family:'Liberation Sans',sans-serif;">40</div>
<div class="t" style="left:43.00px;top:310.14px;width:80px;text-align:center;font-size:18.85px;color:#262626;font-family:'Liberation Sans',sans-serif;">0</div>
<div class="t" style="left:133.70px;top:310.14px;width:80px;text-align:center;font-size:18.85px;color:#262626;font-family:'Liberation Sans',sans-serif;">50</div>
<div class="t" style="left:225.10px;top:310.14px;width:80px;text-align:center;font-size:18.85px;color:#262626;font-family:'Liberation Sans',sans-serif;">100</div>
<div class="t" style="left:312.90px;top:310.14px;width:80px;text-align:center;font-size:18.85px;color:#262626;font-family:'Liberation Sans',sans-serif;">150</div>
<div class="t" style="left:400.50px;top:310.14px;width:80px;text-align:center;font-size:18.85px;color:#262626;font-family:'Liberation Sans',sans-serif;">200</div>
<div class="t" style="left:488.30px;top:310.14px;width:80px;text-align:center;font-size:18.85px;color:#262626;font-family:'Liberation Sans',sans-serif;">250</div>
<div class="t" style="left:273.95px;top:336.47px;width:80px;text-align:center;font-size:20.90px;color:#262626;font-family:'Liberation Sans',sans-serif;">X-Axis</div>
<div class="t" style="left:-1.30px;top:64.50px;width:100px;height:20.20px;line-height:20.20px;text-align:center;font-size:20.20px;transform:rotate(-90deg);transform-origin:50% 50%;">Z-Axis</div>
<div class="t" style="left:-6.10px;top:244.50px;width:100px;height:20.20px;line-height:20.20px;text-align:center;font-size:20.20px;transform:rotate(-90deg);transform-origin:50% 50%;">Z-Axis</div>
<div class="t" style="left:4.30px;top:51.20px;font-size:23.00px;color:#000;font-family:'Liberation Serif',serif;transform:scaleX(1.1);transform-origin:0 0;">b)</div>
<div class="t" style="left:4.30px;top:238.10px;font-size:23.00px;color:#000;font-family:'Liberation Serif',serif;">c)</div>
</body></html>
